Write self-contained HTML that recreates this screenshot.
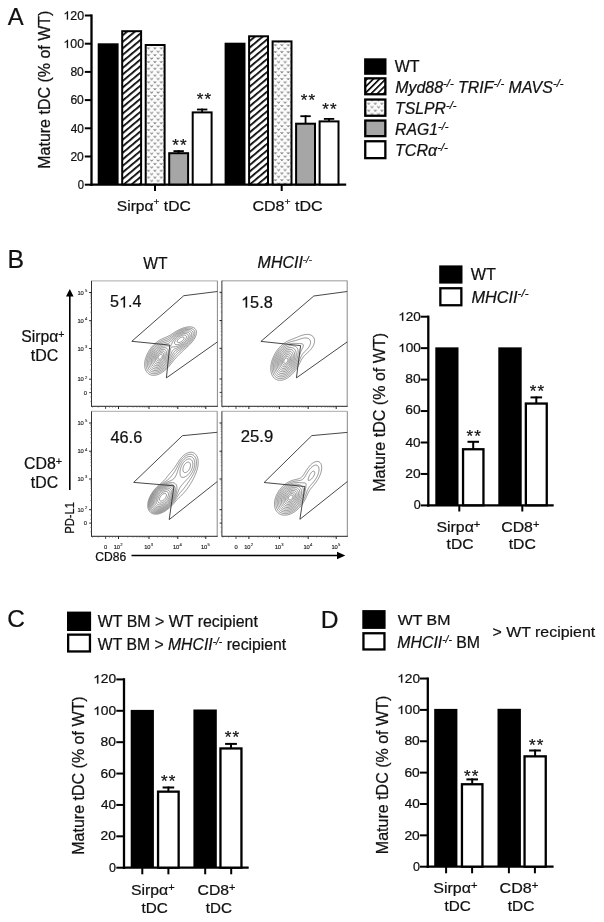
<!DOCTYPE html>
<html><head><meta charset="utf-8"><style>
html,body{margin:0;padding:0;background:#fff;width:604px;height:922px;overflow:hidden;}
svg{display:block;will-change:transform;}
text{font-family:"Liberation Sans", sans-serif;}
</style></head><body>
<svg width="604" height="922" viewBox="0 0 604 922">
<defs>
<pattern id="hatch" patternUnits="userSpaceOnUse" x="121" y="30" width="5.0" height="5.0" patternTransform="rotate(-40)"><rect width="5.0" height="5.0" fill="#fff"/><rect x="0" y="0" width="5.0" height="1.75" fill="#000"/></pattern>
<pattern id="hatch2" patternUnits="userSpaceOnUse" x="248" y="36" width="5.0" height="5.0" patternTransform="rotate(-40)"><rect width="5.0" height="5.0" fill="#fff"/><rect x="0" y="0" width="5.0" height="1.75" fill="#000"/></pattern>
<pattern id="hatchL" patternUnits="userSpaceOnUse" x="364" y="77" width="4.4" height="4.4" patternTransform="rotate(-45)"><rect width="4.4" height="4.4" fill="#fff"/><rect x="0" y="0" width="4.4" height="1.6" fill="#000"/></pattern>
<pattern id="dots" patternUnits="userSpaceOnUse" x="148.5" y="61.9" width="6.4" height="6.8"><rect width="6.4" height="6.8" fill="#fcfcfc"/><path d="M-1.2,-0.9 L0,0.8 L1.2,-0.9 M5.2,-0.9 L6.4,0.8 L7.6000000000000005,-0.9 M-1.2,5.8999999999999995 L0,7.6 L1.2,5.8999999999999995 M5.2,5.8999999999999995 L6.4,7.6 L7.6000000000000005,5.8999999999999995 M2.0,2.5 L3.2,4.2 L4.4,2.5" stroke="#3a3a3a" stroke-width="0.8" fill="none"/></pattern>
<pattern id="dots2" patternUnits="userSpaceOnUse" x="275.4" y="51.9" width="6.45" height="6.75"><rect width="6.45" height="6.75" fill="#fcfcfc"/><path d="M-1.2,-0.9 L0,0.8 L1.2,-0.9 M5.25,-0.9 L6.45,0.8 L7.65,-0.9 M-1.2,5.85 L0,7.55 L1.2,5.85 M5.25,5.85 L6.45,7.55 L7.65,5.85 M2.0250000000000004,2.475 L3.225,4.175 L4.425,2.475" stroke="#3a3a3a" stroke-width="0.8" fill="none"/></pattern>
<pattern id="dotsL" patternUnits="userSpaceOnUse" x="368.7" y="103.6" width="6.6" height="7.0"><rect width="6.6" height="7.0" fill="#fcfcfc"/><path d="M-1.2,-0.9 L0,0.8 L1.2,-0.9 M5.3999999999999995,-0.9 L6.6,0.8 L7.8,-0.9 M-1.2,6.1 L0,7.8 L1.2,6.1 M5.3999999999999995,6.1 L6.6,7.8 L7.8,6.1 M2.0999999999999996,2.6 L3.3,4.3 L4.5,2.6" stroke="#3a3a3a" stroke-width="0.8" fill="none"/></pattern>
</defs>
<line x1="91.5" y1="14.4" x2="91.5" y2="186" stroke="#000" stroke-width="2.3" stroke-linecap="butt"/>
<line x1="84.8" y1="184.7" x2="91.5" y2="184.7" stroke="#000" stroke-width="2" stroke-linecap="butt"/>
<line x1="84.8" y1="156.5" x2="91.5" y2="156.5" stroke="#000" stroke-width="2" stroke-linecap="butt"/>
<line x1="84.8" y1="128.29999999999998" x2="91.5" y2="128.29999999999998" stroke="#000" stroke-width="2" stroke-linecap="butt"/>
<line x1="84.8" y1="100.1" x2="91.5" y2="100.1" stroke="#000" stroke-width="2" stroke-linecap="butt"/>
<line x1="84.8" y1="71.89999999999999" x2="91.5" y2="71.89999999999999" stroke="#000" stroke-width="2" stroke-linecap="butt"/>
<line x1="84.8" y1="43.69999999999999" x2="91.5" y2="43.69999999999999" stroke="#000" stroke-width="2" stroke-linecap="butt"/>
<line x1="84.8" y1="15.5" x2="91.5" y2="15.5" stroke="#000" stroke-width="2" stroke-linecap="butt"/>
<line x1="90.35" y1="184.7" x2="346.2" y2="184.7" stroke="#000" stroke-width="2.2" stroke-linecap="butt"/>
<line x1="155" y1="184.7" x2="155" y2="191" stroke="#000" stroke-width="2" stroke-linecap="butt"/>
<line x1="281.7" y1="184.7" x2="281.7" y2="191" stroke="#000" stroke-width="2" stroke-linecap="butt"/>
<rect x="97.7" y="43.3" width="20.9" height="141.39999999999998" fill="#000"/>
<rect x="122.20" y="31.20" width="18.90" height="153.30" fill="url(#hatch)" stroke="#000" stroke-width="2"/>
<rect x="145.70" y="45.00" width="18.90" height="139.50" fill="url(#dots)" stroke="#000" stroke-width="2"/>
<rect x="169.20" y="153.20" width="18.90" height="31.30" fill="#a6a6a6" stroke="#000" stroke-width="2"/>
<line x1="178.64999999999998" y1="153.2" x2="178.64999999999998" y2="150.2" stroke="#000" stroke-width="1.8" stroke-linecap="butt"/>
<line x1="173.45" y1="151.1" x2="183.84999999999997" y2="151.1" stroke="#000" stroke-width="1.8" stroke-linecap="butt"/>
<rect x="192.70" y="112.40" width="18.90" height="72.10" fill="#fff" stroke="#000" stroke-width="2"/>
<line x1="202.14999999999998" y1="112.4" x2="202.14999999999998" y2="108.6" stroke="#000" stroke-width="1.8" stroke-linecap="butt"/>
<line x1="196.95" y1="109.5" x2="207.34999999999997" y2="109.5" stroke="#000" stroke-width="1.8" stroke-linecap="butt"/>
<rect x="224.6" y="42.7" width="20.9" height="142.0" fill="#000"/>
<rect x="249.10" y="36.30" width="18.90" height="148.20" fill="url(#hatch2)" stroke="#000" stroke-width="2"/>
<rect x="272.60" y="41.40" width="18.90" height="143.10" fill="url(#dots2)" stroke="#000" stroke-width="2"/>
<rect x="296.10" y="123.70" width="18.90" height="60.80" fill="#a6a6a6" stroke="#000" stroke-width="2"/>
<line x1="305.55" y1="123.7" x2="305.55" y2="115.3" stroke="#000" stroke-width="1.8" stroke-linecap="butt"/>
<line x1="300.35" y1="116.2" x2="310.75" y2="116.2" stroke="#000" stroke-width="1.8" stroke-linecap="butt"/>
<rect x="319.60" y="121.40" width="18.90" height="63.10" fill="#fff" stroke="#000" stroke-width="2"/>
<line x1="329.05" y1="121.4" x2="329.05" y2="118.0" stroke="#000" stroke-width="1.8" stroke-linecap="butt"/>
<line x1="323.85" y1="118.9" x2="334.25" y2="118.9" stroke="#000" stroke-width="1.8" stroke-linecap="butt"/>
<text x="175.62" y="150.63" font-size="17" text-anchor="middle" fill="#111" stroke="#111" stroke-width="0.25">*</text>
<text x="183.38" y="150.63" font-size="17" text-anchor="middle" fill="#111" stroke="#111" stroke-width="0.25">*</text>
<text x="200.12" y="105.23" font-size="17" text-anchor="middle" fill="#111" stroke="#111" stroke-width="0.25">*</text>
<text x="207.88" y="105.23" font-size="17" text-anchor="middle" fill="#111" stroke="#111" stroke-width="0.25">*</text>
<text x="304.12" y="106.23" font-size="17" text-anchor="middle" fill="#111" stroke="#111" stroke-width="0.25">*</text>
<text x="311.88" y="106.23" font-size="17" text-anchor="middle" fill="#111" stroke="#111" stroke-width="0.25">*</text>
<text x="325.62" y="115.03" font-size="17" text-anchor="middle" fill="#111" stroke="#111" stroke-width="0.25">*</text>
<text x="333.38" y="115.03" font-size="17" text-anchor="middle" fill="#111" stroke="#111" stroke-width="0.25">*</text>
<rect x="365.25" y="59.45" width="20.10" height="14.20" fill="#000" stroke="#000" stroke-width="2.3"/>
<rect x="365.25" y="78.35" width="20.10" height="15.90" fill="url(#hatchL)" stroke="#000" stroke-width="2.3"/>
<rect x="365.25" y="99.55" width="20.10" height="16.20" fill="url(#dotsL)" stroke="#000" stroke-width="2.3"/>
<rect x="365.25" y="120.55" width="20.10" height="15.60" fill="#a6a6a6" stroke="#000" stroke-width="2.3"/>
<rect x="365.25" y="141.25" width="20.10" height="16.90" fill="#fff" stroke="#000" stroke-width="2.3"/>
<line x1="69.8" y1="295" x2="69.8" y2="490" stroke="#000" stroke-width="1.6" stroke-linecap="butt"/>
<path d="M66,296.6 L69.8,289 L73.6,296.6 Z" fill="#000"/>
<line x1="131.5" y1="555.5" x2="338" y2="555.5" stroke="#000" stroke-width="1.6" stroke-linecap="butt"/>
<path d="M337,551.7 L345.3,555.5 L337,559.3 Z" fill="#000"/>
<line x1="91.5" y1="280.95" x2="217.4" y2="280.95" stroke="#bbb" stroke-width="1.3" stroke-linecap="butt"/>
<line x1="217.4" y1="280.8" x2="217.4" y2="406.3" stroke="#888" stroke-width="1.0" stroke-linecap="butt"/>
<line x1="91.5" y1="280.8" x2="91.5" y2="406.8" stroke="#333" stroke-width="1.0" stroke-linecap="butt"/>
<line x1="91.5" y1="406.3" x2="217.9" y2="406.3" stroke="#222" stroke-width="1.0" stroke-linecap="butt"/>
<line x1="89.1" y1="292.5" x2="91.5" y2="292.5" stroke="#222" stroke-width="1.0" stroke-linecap="butt"/>
<line x1="90.2" y1="312.2109541222757" x2="91.5" y2="312.2109541222757" stroke="#555" stroke-width="0.55" stroke-linecap="butt"/>
<line x1="90.2" y1="307.2451806169055" x2="91.5" y2="307.2451806169055" stroke="#555" stroke-width="0.55" stroke-linecap="butt"/>
<line x1="90.2" y1="303.72190824455146" x2="91.5" y2="303.72190824455146" stroke="#555" stroke-width="0.55" stroke-linecap="butt"/>
<line x1="90.2" y1="300.98904587772427" x2="91.5" y2="300.98904587772427" stroke="#555" stroke-width="0.55" stroke-linecap="butt"/>
<line x1="90.2" y1="298.7561347391812" x2="91.5" y2="298.7561347391812" stroke="#555" stroke-width="0.55" stroke-linecap="butt"/>
<line x1="90.2" y1="296.86823527159794" x2="91.5" y2="296.86823527159794" stroke="#555" stroke-width="0.55" stroke-linecap="butt"/>
<line x1="90.2" y1="295.2328623668272" x2="91.5" y2="295.2328623668272" stroke="#555" stroke-width="0.55" stroke-linecap="butt"/>
<line x1="90.2" y1="293.79036123381104" x2="91.5" y2="293.79036123381104" stroke="#555" stroke-width="0.55" stroke-linecap="butt"/>
<line x1="89.1" y1="320.7" x2="91.5" y2="320.7" stroke="#222" stroke-width="1.0" stroke-linecap="butt"/>
<line x1="90.2" y1="340.1313661205413" x2="91.5" y2="340.1313661205413" stroke="#555" stroke-width="0.55" stroke-linecap="butt"/>
<line x1="90.2" y1="335.2360291187934" x2="91.5" y2="335.2360291187934" stroke="#555" stroke-width="0.55" stroke-linecap="butt"/>
<line x1="90.2" y1="331.76273224108263" x2="91.5" y2="331.76273224108263" stroke="#555" stroke-width="0.55" stroke-linecap="butt"/>
<line x1="90.2" y1="329.0686338794587" x2="91.5" y2="329.0686338794587" stroke="#555" stroke-width="0.55" stroke-linecap="butt"/>
<line x1="90.2" y1="326.8673952393347" x2="91.5" y2="326.8673952393347" stroke="#555" stroke-width="0.55" stroke-linecap="butt"/>
<line x1="90.2" y1="325.00627448760366" x2="91.5" y2="325.00627448760366" stroke="#555" stroke-width="0.55" stroke-linecap="butt"/>
<line x1="90.2" y1="323.39409836162395" x2="91.5" y2="323.39409836162395" stroke="#555" stroke-width="0.55" stroke-linecap="butt"/>
<line x1="90.2" y1="321.9720582375868" x2="91.5" y2="321.9720582375868" stroke="#555" stroke-width="0.55" stroke-linecap="butt"/>
<line x1="89.1" y1="348.5" x2="91.5" y2="348.5" stroke="#222" stroke-width="1.0" stroke-linecap="butt"/>
<line x1="90.2" y1="369.95837913311584" x2="91.5" y2="369.95837913311584" stroke="#555" stroke-width="0.55" stroke-linecap="butt"/>
<line x1="90.2" y1="364.55237748010643" x2="91.5" y2="364.55237748010643" stroke="#555" stroke-width="0.55" stroke-linecap="butt"/>
<line x1="90.2" y1="360.7167582662316" x2="91.5" y2="360.7167582662316" stroke="#555" stroke-width="0.55" stroke-linecap="butt"/>
<line x1="90.2" y1="357.74162086688426" x2="91.5" y2="357.74162086688426" stroke="#555" stroke-width="0.55" stroke-linecap="butt"/>
<line x1="90.2" y1="355.31075661322217" x2="91.5" y2="355.31075661322217" stroke="#555" stroke-width="0.55" stroke-linecap="butt"/>
<line x1="90.2" y1="353.25549017156237" x2="91.5" y2="353.25549017156237" stroke="#555" stroke-width="0.55" stroke-linecap="butt"/>
<line x1="90.2" y1="351.4751373993474" x2="91.5" y2="351.4751373993474" stroke="#555" stroke-width="0.55" stroke-linecap="butt"/>
<line x1="90.2" y1="349.90475496021276" x2="91.5" y2="349.90475496021276" stroke="#555" stroke-width="0.55" stroke-linecap="butt"/>
<line x1="89.1" y1="379.20000000000005" x2="91.5" y2="379.20000000000005" stroke="#222" stroke-width="1.0" stroke-linecap="butt"/>
<line x1="90.2" y1="384.8" x2="91.5" y2="384.8" stroke="#555" stroke-width="0.55" stroke-linecap="butt"/>
<line x1="90.2" y1="388.8" x2="91.5" y2="388.8" stroke="#555" stroke-width="0.55" stroke-linecap="butt"/>
<line x1="90.2" y1="392.6" x2="91.5" y2="392.6" stroke="#555" stroke-width="0.55" stroke-linecap="butt"/>
<line x1="90.2" y1="396.8" x2="91.5" y2="396.8" stroke="#555" stroke-width="0.55" stroke-linecap="butt"/>
<line x1="90.2" y1="401.3" x2="91.5" y2="401.3" stroke="#555" stroke-width="0.55" stroke-linecap="butt"/>
<line x1="89.2" y1="392.6" x2="91.5" y2="392.6" stroke="#333" stroke-width="0.9" stroke-linecap="butt"/>
<line x1="118.5" y1="406.3" x2="118.5" y2="409.0" stroke="#222" stroke-width="1.0" stroke-linecap="butt"/>
<line x1="127.68141486775143" y1="406.3" x2="127.68141486775143" y2="407.7" stroke="#555" stroke-width="0.55" stroke-linecap="butt"/>
<line x1="133.0521982689497" y1="406.3" x2="133.0521982689497" y2="407.7" stroke="#555" stroke-width="0.55" stroke-linecap="butt"/>
<line x1="136.86282973550286" y1="406.3" x2="136.86282973550286" y2="407.7" stroke="#555" stroke-width="0.55" stroke-linecap="butt"/>
<line x1="139.8185851322486" y1="406.3" x2="139.8185851322486" y2="407.7" stroke="#555" stroke-width="0.55" stroke-linecap="butt"/>
<line x1="142.23361313670114" y1="406.3" x2="142.23361313670114" y2="407.7" stroke="#555" stroke-width="0.55" stroke-linecap="butt"/>
<line x1="144.27549022043485" y1="406.3" x2="144.27549022043485" y2="407.7" stroke="#555" stroke-width="0.55" stroke-linecap="butt"/>
<line x1="146.04424460325427" y1="406.3" x2="146.04424460325427" y2="407.7" stroke="#555" stroke-width="0.55" stroke-linecap="butt"/>
<line x1="147.60439653789942" y1="406.3" x2="147.60439653789942" y2="407.7" stroke="#555" stroke-width="0.55" stroke-linecap="butt"/>
<line x1="149.0" y1="406.3" x2="149.0" y2="409.0" stroke="#222" stroke-width="1.0" stroke-linecap="butt"/>
<line x1="157.66966387512267" y1="406.3" x2="157.66966387512267" y2="407.7" stroke="#555" stroke-width="0.55" stroke-linecap="butt"/>
<line x1="162.74109213592627" y1="406.3" x2="162.74109213592627" y2="407.7" stroke="#555" stroke-width="0.55" stroke-linecap="butt"/>
<line x1="166.3393277502453" y1="406.3" x2="166.3393277502453" y2="407.7" stroke="#555" stroke-width="0.55" stroke-linecap="butt"/>
<line x1="169.13033612487735" y1="406.3" x2="169.13033612487735" y2="407.7" stroke="#555" stroke-width="0.55" stroke-linecap="butt"/>
<line x1="171.41075601104893" y1="406.3" x2="171.41075601104893" y2="407.7" stroke="#555" stroke-width="0.55" stroke-linecap="butt"/>
<line x1="173.3388235524106" y1="406.3" x2="173.3388235524106" y2="407.7" stroke="#555" stroke-width="0.55" stroke-linecap="butt"/>
<line x1="175.00899162536797" y1="406.3" x2="175.00899162536797" y2="407.7" stroke="#555" stroke-width="0.55" stroke-linecap="butt"/>
<line x1="176.48218427185256" y1="406.3" x2="176.48218427185256" y2="407.7" stroke="#555" stroke-width="0.55" stroke-linecap="butt"/>
<line x1="177.8" y1="406.3" x2="177.8" y2="409.0" stroke="#222" stroke-width="1.0" stroke-linecap="butt"/>
<line x1="186.2288398785915" y1="406.3" x2="186.2288398785915" y2="407.7" stroke="#555" stroke-width="0.55" stroke-linecap="butt"/>
<line x1="191.15939513215056" y1="406.3" x2="191.15939513215056" y2="407.7" stroke="#555" stroke-width="0.55" stroke-linecap="butt"/>
<line x1="194.65767975718296" y1="406.3" x2="194.65767975718296" y2="407.7" stroke="#555" stroke-width="0.55" stroke-linecap="butt"/>
<line x1="197.37116012140854" y1="406.3" x2="197.37116012140854" y2="407.7" stroke="#555" stroke-width="0.55" stroke-linecap="butt"/>
<line x1="199.58823501074204" y1="406.3" x2="199.58823501074204" y2="407.7" stroke="#555" stroke-width="0.55" stroke-linecap="butt"/>
<line x1="201.4627451203992" y1="406.3" x2="201.4627451203992" y2="407.7" stroke="#555" stroke-width="0.55" stroke-linecap="butt"/>
<line x1="203.08651963577444" y1="406.3" x2="203.08651963577444" y2="407.7" stroke="#555" stroke-width="0.55" stroke-linecap="butt"/>
<line x1="204.51879026430112" y1="406.3" x2="204.51879026430112" y2="407.7" stroke="#555" stroke-width="0.55" stroke-linecap="butt"/>
<line x1="205.8" y1="406.3" x2="205.8" y2="409.0" stroke="#222" stroke-width="1.0" stroke-linecap="butt"/>
<line x1="92.5" y1="406.3" x2="92.5" y2="407.7" stroke="#555" stroke-width="0.55" stroke-linecap="butt"/>
<line x1="98.2" y1="406.3" x2="98.2" y2="407.7" stroke="#555" stroke-width="0.55" stroke-linecap="butt"/>
<line x1="109.5" y1="406.3" x2="109.5" y2="407.7" stroke="#555" stroke-width="0.55" stroke-linecap="butt"/>
<line x1="112.5" y1="406.3" x2="112.5" y2="407.7" stroke="#555" stroke-width="0.55" stroke-linecap="butt"/>
<line x1="115.5" y1="406.3" x2="115.5" y2="407.7" stroke="#555" stroke-width="0.55" stroke-linecap="butt"/>
<line x1="105.6" y1="406.3" x2="105.6" y2="408.90000000000003" stroke="#333" stroke-width="0.9" stroke-linecap="butt"/>
<text x="83.6" y="294.50" font-size="5.8" text-anchor="end" fill="#222" stroke="#222" stroke-width="0.15" letter-spacing="-0.2">10</text>
<text x="87.3" y="291.90" font-size="4.2" text-anchor="end" fill="#222" stroke="#222" stroke-width="0.1">5</text>
<text x="83.6" y="322.70" font-size="5.8" text-anchor="end" fill="#222" stroke="#222" stroke-width="0.15" letter-spacing="-0.2">10</text>
<text x="87.3" y="320.10" font-size="4.2" text-anchor="end" fill="#222" stroke="#222" stroke-width="0.1">4</text>
<text x="83.6" y="350.50" font-size="5.8" text-anchor="end" fill="#222" stroke="#222" stroke-width="0.15" letter-spacing="-0.2">10</text>
<text x="87.3" y="347.90" font-size="4.2" text-anchor="end" fill="#222" stroke="#222" stroke-width="0.1">3</text>
<text x="83.6" y="381.20" font-size="5.8" text-anchor="end" fill="#222" stroke="#222" stroke-width="0.15" letter-spacing="-0.2">10</text>
<text x="87.3" y="378.60" font-size="4.2" text-anchor="end" fill="#222" stroke="#222" stroke-width="0.1">2</text>
<text x="86.9" y="394.60" font-size="5.8" text-anchor="end" fill="#222" stroke="#222" stroke-width="0.15">0</text>
<line x1="221.9" y1="280.75" x2="347.2" y2="280.75" stroke="#bbb" stroke-width="1.3" stroke-linecap="butt"/>
<line x1="347.2" y1="280.6" x2="347.2" y2="406.3" stroke="#888" stroke-width="1.0" stroke-linecap="butt"/>
<line x1="221.9" y1="280.6" x2="221.9" y2="406.8" stroke="#333" stroke-width="1.0" stroke-linecap="butt"/>
<line x1="221.9" y1="406.3" x2="347.7" y2="406.3" stroke="#222" stroke-width="1.0" stroke-linecap="butt"/>
<line x1="219.5" y1="292.3" x2="221.9" y2="292.3" stroke="#222" stroke-width="1.0" stroke-linecap="butt"/>
<line x1="220.6" y1="312.01095412227573" x2="221.9" y2="312.01095412227573" stroke="#555" stroke-width="0.55" stroke-linecap="butt"/>
<line x1="220.6" y1="307.0451806169055" x2="221.9" y2="307.0451806169055" stroke="#555" stroke-width="0.55" stroke-linecap="butt"/>
<line x1="220.6" y1="303.52190824455147" x2="221.9" y2="303.52190824455147" stroke="#555" stroke-width="0.55" stroke-linecap="butt"/>
<line x1="220.6" y1="300.7890458777243" x2="221.9" y2="300.7890458777243" stroke="#555" stroke-width="0.55" stroke-linecap="butt"/>
<line x1="220.6" y1="298.55613473918123" x2="221.9" y2="298.55613473918123" stroke="#555" stroke-width="0.55" stroke-linecap="butt"/>
<line x1="220.6" y1="296.66823527159795" x2="221.9" y2="296.66823527159795" stroke="#555" stroke-width="0.55" stroke-linecap="butt"/>
<line x1="220.6" y1="295.0328623668272" x2="221.9" y2="295.0328623668272" stroke="#555" stroke-width="0.55" stroke-linecap="butt"/>
<line x1="220.6" y1="293.59036123381105" x2="221.9" y2="293.59036123381105" stroke="#555" stroke-width="0.55" stroke-linecap="butt"/>
<line x1="219.5" y1="320.5" x2="221.9" y2="320.5" stroke="#222" stroke-width="1.0" stroke-linecap="butt"/>
<line x1="220.6" y1="339.9313661205413" x2="221.9" y2="339.9313661205413" stroke="#555" stroke-width="0.55" stroke-linecap="butt"/>
<line x1="220.6" y1="335.0360291187934" x2="221.9" y2="335.0360291187934" stroke="#555" stroke-width="0.55" stroke-linecap="butt"/>
<line x1="220.6" y1="331.56273224108264" x2="221.9" y2="331.56273224108264" stroke="#555" stroke-width="0.55" stroke-linecap="butt"/>
<line x1="220.6" y1="328.8686338794587" x2="221.9" y2="328.8686338794587" stroke="#555" stroke-width="0.55" stroke-linecap="butt"/>
<line x1="220.6" y1="326.6673952393347" x2="221.9" y2="326.6673952393347" stroke="#555" stroke-width="0.55" stroke-linecap="butt"/>
<line x1="220.6" y1="324.8062744876037" x2="221.9" y2="324.8062744876037" stroke="#555" stroke-width="0.55" stroke-linecap="butt"/>
<line x1="220.6" y1="323.19409836162396" x2="221.9" y2="323.19409836162396" stroke="#555" stroke-width="0.55" stroke-linecap="butt"/>
<line x1="220.6" y1="321.77205823758675" x2="221.9" y2="321.77205823758675" stroke="#555" stroke-width="0.55" stroke-linecap="butt"/>
<line x1="219.5" y1="348.3" x2="221.9" y2="348.3" stroke="#222" stroke-width="1.0" stroke-linecap="butt"/>
<line x1="220.6" y1="369.7583791331158" x2="221.9" y2="369.7583791331158" stroke="#555" stroke-width="0.55" stroke-linecap="butt"/>
<line x1="220.6" y1="364.3523774801064" x2="221.9" y2="364.3523774801064" stroke="#555" stroke-width="0.55" stroke-linecap="butt"/>
<line x1="220.6" y1="360.51675826623153" x2="221.9" y2="360.51675826623153" stroke="#555" stroke-width="0.55" stroke-linecap="butt"/>
<line x1="220.6" y1="357.5416208668842" x2="221.9" y2="357.5416208668842" stroke="#555" stroke-width="0.55" stroke-linecap="butt"/>
<line x1="220.6" y1="355.1107566132221" x2="221.9" y2="355.1107566132221" stroke="#555" stroke-width="0.55" stroke-linecap="butt"/>
<line x1="220.6" y1="353.0554901715623" x2="221.9" y2="353.0554901715623" stroke="#555" stroke-width="0.55" stroke-linecap="butt"/>
<line x1="220.6" y1="351.27513739934733" x2="221.9" y2="351.27513739934733" stroke="#555" stroke-width="0.55" stroke-linecap="butt"/>
<line x1="220.6" y1="349.7047549602127" x2="221.9" y2="349.7047549602127" stroke="#555" stroke-width="0.55" stroke-linecap="butt"/>
<line x1="219.5" y1="379.0" x2="221.9" y2="379.0" stroke="#222" stroke-width="1.0" stroke-linecap="butt"/>
<line x1="220.6" y1="384.6" x2="221.9" y2="384.6" stroke="#555" stroke-width="0.55" stroke-linecap="butt"/>
<line x1="220.6" y1="388.6" x2="221.9" y2="388.6" stroke="#555" stroke-width="0.55" stroke-linecap="butt"/>
<line x1="220.6" y1="392.40000000000003" x2="221.9" y2="392.40000000000003" stroke="#555" stroke-width="0.55" stroke-linecap="butt"/>
<line x1="220.6" y1="396.6" x2="221.9" y2="396.6" stroke="#555" stroke-width="0.55" stroke-linecap="butt"/>
<line x1="220.6" y1="401.1" x2="221.9" y2="401.1" stroke="#555" stroke-width="0.55" stroke-linecap="butt"/>
<line x1="219.6" y1="392.40000000000003" x2="221.9" y2="392.40000000000003" stroke="#333" stroke-width="0.9" stroke-linecap="butt"/>
<line x1="248.9" y1="406.3" x2="248.9" y2="409.0" stroke="#222" stroke-width="1.0" stroke-linecap="butt"/>
<line x1="258.08141486775145" y1="406.3" x2="258.08141486775145" y2="407.7" stroke="#555" stroke-width="0.55" stroke-linecap="butt"/>
<line x1="263.4521982689497" y1="406.3" x2="263.4521982689497" y2="407.7" stroke="#555" stroke-width="0.55" stroke-linecap="butt"/>
<line x1="267.26282973550286" y1="406.3" x2="267.26282973550286" y2="407.7" stroke="#555" stroke-width="0.55" stroke-linecap="butt"/>
<line x1="270.21858513224856" y1="406.3" x2="270.21858513224856" y2="407.7" stroke="#555" stroke-width="0.55" stroke-linecap="butt"/>
<line x1="272.6336131367011" y1="406.3" x2="272.6336131367011" y2="407.7" stroke="#555" stroke-width="0.55" stroke-linecap="butt"/>
<line x1="274.6754902204348" y1="406.3" x2="274.6754902204348" y2="407.7" stroke="#555" stroke-width="0.55" stroke-linecap="butt"/>
<line x1="276.4442446032543" y1="406.3" x2="276.4442446032543" y2="407.7" stroke="#555" stroke-width="0.55" stroke-linecap="butt"/>
<line x1="278.0043965378994" y1="406.3" x2="278.0043965378994" y2="407.7" stroke="#555" stroke-width="0.55" stroke-linecap="butt"/>
<line x1="279.4" y1="406.3" x2="279.4" y2="409.0" stroke="#222" stroke-width="1.0" stroke-linecap="butt"/>
<line x1="288.0696638751226" y1="406.3" x2="288.0696638751226" y2="407.7" stroke="#555" stroke-width="0.55" stroke-linecap="butt"/>
<line x1="293.14109213592627" y1="406.3" x2="293.14109213592627" y2="407.7" stroke="#555" stroke-width="0.55" stroke-linecap="butt"/>
<line x1="296.7393277502453" y1="406.3" x2="296.7393277502453" y2="407.7" stroke="#555" stroke-width="0.55" stroke-linecap="butt"/>
<line x1="299.5303361248773" y1="406.3" x2="299.5303361248773" y2="407.7" stroke="#555" stroke-width="0.55" stroke-linecap="butt"/>
<line x1="301.8107560110489" y1="406.3" x2="301.8107560110489" y2="407.7" stroke="#555" stroke-width="0.55" stroke-linecap="butt"/>
<line x1="303.73882355241057" y1="406.3" x2="303.73882355241057" y2="407.7" stroke="#555" stroke-width="0.55" stroke-linecap="butt"/>
<line x1="305.40899162536795" y1="406.3" x2="305.40899162536795" y2="407.7" stroke="#555" stroke-width="0.55" stroke-linecap="butt"/>
<line x1="306.8821842718525" y1="406.3" x2="306.8821842718525" y2="407.7" stroke="#555" stroke-width="0.55" stroke-linecap="butt"/>
<line x1="308.2" y1="406.3" x2="308.2" y2="409.0" stroke="#222" stroke-width="1.0" stroke-linecap="butt"/>
<line x1="316.62883987859146" y1="406.3" x2="316.62883987859146" y2="407.7" stroke="#555" stroke-width="0.55" stroke-linecap="butt"/>
<line x1="321.55939513215054" y1="406.3" x2="321.55939513215054" y2="407.7" stroke="#555" stroke-width="0.55" stroke-linecap="butt"/>
<line x1="325.05767975718294" y1="406.3" x2="325.05767975718294" y2="407.7" stroke="#555" stroke-width="0.55" stroke-linecap="butt"/>
<line x1="327.7711601214085" y1="406.3" x2="327.7711601214085" y2="407.7" stroke="#555" stroke-width="0.55" stroke-linecap="butt"/>
<line x1="329.988235010742" y1="406.3" x2="329.988235010742" y2="407.7" stroke="#555" stroke-width="0.55" stroke-linecap="butt"/>
<line x1="331.86274512039915" y1="406.3" x2="331.86274512039915" y2="407.7" stroke="#555" stroke-width="0.55" stroke-linecap="butt"/>
<line x1="333.4865196357744" y1="406.3" x2="333.4865196357744" y2="407.7" stroke="#555" stroke-width="0.55" stroke-linecap="butt"/>
<line x1="334.9187902643011" y1="406.3" x2="334.9187902643011" y2="407.7" stroke="#555" stroke-width="0.55" stroke-linecap="butt"/>
<line x1="336.2" y1="406.3" x2="336.2" y2="409.0" stroke="#222" stroke-width="1.0" stroke-linecap="butt"/>
<line x1="222.9" y1="406.3" x2="222.9" y2="407.7" stroke="#555" stroke-width="0.55" stroke-linecap="butt"/>
<line x1="228.6" y1="406.3" x2="228.6" y2="407.7" stroke="#555" stroke-width="0.55" stroke-linecap="butt"/>
<line x1="239.9" y1="406.3" x2="239.9" y2="407.7" stroke="#555" stroke-width="0.55" stroke-linecap="butt"/>
<line x1="242.9" y1="406.3" x2="242.9" y2="407.7" stroke="#555" stroke-width="0.55" stroke-linecap="butt"/>
<line x1="245.9" y1="406.3" x2="245.9" y2="407.7" stroke="#555" stroke-width="0.55" stroke-linecap="butt"/>
<line x1="236.0" y1="406.3" x2="236.0" y2="408.90000000000003" stroke="#333" stroke-width="0.9" stroke-linecap="butt"/>
<line x1="91.5" y1="411.45" x2="217.2" y2="411.45" stroke="#bbb" stroke-width="1.3" stroke-linecap="butt"/>
<line x1="217.2" y1="411.3" x2="217.2" y2="536.3" stroke="#888" stroke-width="1.0" stroke-linecap="butt"/>
<line x1="91.5" y1="411.3" x2="91.5" y2="536.8" stroke="#333" stroke-width="1.0" stroke-linecap="butt"/>
<line x1="91.5" y1="536.3" x2="217.7" y2="536.3" stroke="#222" stroke-width="1.0" stroke-linecap="butt"/>
<line x1="89.1" y1="423.0" x2="91.5" y2="423.0" stroke="#222" stroke-width="1.0" stroke-linecap="butt"/>
<line x1="90.2" y1="442.7109541222757" x2="91.5" y2="442.7109541222757" stroke="#555" stroke-width="0.55" stroke-linecap="butt"/>
<line x1="90.2" y1="437.7451806169055" x2="91.5" y2="437.7451806169055" stroke="#555" stroke-width="0.55" stroke-linecap="butt"/>
<line x1="90.2" y1="434.22190824455146" x2="91.5" y2="434.22190824455146" stroke="#555" stroke-width="0.55" stroke-linecap="butt"/>
<line x1="90.2" y1="431.48904587772427" x2="91.5" y2="431.48904587772427" stroke="#555" stroke-width="0.55" stroke-linecap="butt"/>
<line x1="90.2" y1="429.2561347391812" x2="91.5" y2="429.2561347391812" stroke="#555" stroke-width="0.55" stroke-linecap="butt"/>
<line x1="90.2" y1="427.36823527159794" x2="91.5" y2="427.36823527159794" stroke="#555" stroke-width="0.55" stroke-linecap="butt"/>
<line x1="90.2" y1="425.7328623668272" x2="91.5" y2="425.7328623668272" stroke="#555" stroke-width="0.55" stroke-linecap="butt"/>
<line x1="90.2" y1="424.29036123381104" x2="91.5" y2="424.29036123381104" stroke="#555" stroke-width="0.55" stroke-linecap="butt"/>
<line x1="89.1" y1="451.2" x2="91.5" y2="451.2" stroke="#222" stroke-width="1.0" stroke-linecap="butt"/>
<line x1="90.2" y1="470.6313661205413" x2="91.5" y2="470.6313661205413" stroke="#555" stroke-width="0.55" stroke-linecap="butt"/>
<line x1="90.2" y1="465.7360291187934" x2="91.5" y2="465.7360291187934" stroke="#555" stroke-width="0.55" stroke-linecap="butt"/>
<line x1="90.2" y1="462.26273224108263" x2="91.5" y2="462.26273224108263" stroke="#555" stroke-width="0.55" stroke-linecap="butt"/>
<line x1="90.2" y1="459.5686338794587" x2="91.5" y2="459.5686338794587" stroke="#555" stroke-width="0.55" stroke-linecap="butt"/>
<line x1="90.2" y1="457.3673952393347" x2="91.5" y2="457.3673952393347" stroke="#555" stroke-width="0.55" stroke-linecap="butt"/>
<line x1="90.2" y1="455.50627448760366" x2="91.5" y2="455.50627448760366" stroke="#555" stroke-width="0.55" stroke-linecap="butt"/>
<line x1="90.2" y1="453.89409836162395" x2="91.5" y2="453.89409836162395" stroke="#555" stroke-width="0.55" stroke-linecap="butt"/>
<line x1="90.2" y1="452.4720582375868" x2="91.5" y2="452.4720582375868" stroke="#555" stroke-width="0.55" stroke-linecap="butt"/>
<line x1="89.1" y1="479.0" x2="91.5" y2="479.0" stroke="#222" stroke-width="1.0" stroke-linecap="butt"/>
<line x1="90.2" y1="500.45837913311584" x2="91.5" y2="500.45837913311584" stroke="#555" stroke-width="0.55" stroke-linecap="butt"/>
<line x1="90.2" y1="495.05237748010643" x2="91.5" y2="495.05237748010643" stroke="#555" stroke-width="0.55" stroke-linecap="butt"/>
<line x1="90.2" y1="491.2167582662316" x2="91.5" y2="491.2167582662316" stroke="#555" stroke-width="0.55" stroke-linecap="butt"/>
<line x1="90.2" y1="488.24162086688426" x2="91.5" y2="488.24162086688426" stroke="#555" stroke-width="0.55" stroke-linecap="butt"/>
<line x1="90.2" y1="485.81075661322217" x2="91.5" y2="485.81075661322217" stroke="#555" stroke-width="0.55" stroke-linecap="butt"/>
<line x1="90.2" y1="483.75549017156237" x2="91.5" y2="483.75549017156237" stroke="#555" stroke-width="0.55" stroke-linecap="butt"/>
<line x1="90.2" y1="481.9751373993474" x2="91.5" y2="481.9751373993474" stroke="#555" stroke-width="0.55" stroke-linecap="butt"/>
<line x1="90.2" y1="480.40475496021276" x2="91.5" y2="480.40475496021276" stroke="#555" stroke-width="0.55" stroke-linecap="butt"/>
<line x1="89.1" y1="509.70000000000005" x2="91.5" y2="509.70000000000005" stroke="#222" stroke-width="1.0" stroke-linecap="butt"/>
<line x1="90.2" y1="515.3" x2="91.5" y2="515.3" stroke="#555" stroke-width="0.55" stroke-linecap="butt"/>
<line x1="90.2" y1="519.3" x2="91.5" y2="519.3" stroke="#555" stroke-width="0.55" stroke-linecap="butt"/>
<line x1="90.2" y1="523.1" x2="91.5" y2="523.1" stroke="#555" stroke-width="0.55" stroke-linecap="butt"/>
<line x1="90.2" y1="527.3" x2="91.5" y2="527.3" stroke="#555" stroke-width="0.55" stroke-linecap="butt"/>
<line x1="90.2" y1="531.8" x2="91.5" y2="531.8" stroke="#555" stroke-width="0.55" stroke-linecap="butt"/>
<line x1="89.2" y1="523.1" x2="91.5" y2="523.1" stroke="#333" stroke-width="0.9" stroke-linecap="butt"/>
<line x1="118.5" y1="536.3" x2="118.5" y2="539.0" stroke="#222" stroke-width="1.0" stroke-linecap="butt"/>
<line x1="127.68141486775143" y1="536.3" x2="127.68141486775143" y2="537.6999999999999" stroke="#555" stroke-width="0.55" stroke-linecap="butt"/>
<line x1="133.0521982689497" y1="536.3" x2="133.0521982689497" y2="537.6999999999999" stroke="#555" stroke-width="0.55" stroke-linecap="butt"/>
<line x1="136.86282973550286" y1="536.3" x2="136.86282973550286" y2="537.6999999999999" stroke="#555" stroke-width="0.55" stroke-linecap="butt"/>
<line x1="139.8185851322486" y1="536.3" x2="139.8185851322486" y2="537.6999999999999" stroke="#555" stroke-width="0.55" stroke-linecap="butt"/>
<line x1="142.23361313670114" y1="536.3" x2="142.23361313670114" y2="537.6999999999999" stroke="#555" stroke-width="0.55" stroke-linecap="butt"/>
<line x1="144.27549022043485" y1="536.3" x2="144.27549022043485" y2="537.6999999999999" stroke="#555" stroke-width="0.55" stroke-linecap="butt"/>
<line x1="146.04424460325427" y1="536.3" x2="146.04424460325427" y2="537.6999999999999" stroke="#555" stroke-width="0.55" stroke-linecap="butt"/>
<line x1="147.60439653789942" y1="536.3" x2="147.60439653789942" y2="537.6999999999999" stroke="#555" stroke-width="0.55" stroke-linecap="butt"/>
<line x1="149.0" y1="536.3" x2="149.0" y2="539.0" stroke="#222" stroke-width="1.0" stroke-linecap="butt"/>
<line x1="157.66966387512267" y1="536.3" x2="157.66966387512267" y2="537.6999999999999" stroke="#555" stroke-width="0.55" stroke-linecap="butt"/>
<line x1="162.74109213592627" y1="536.3" x2="162.74109213592627" y2="537.6999999999999" stroke="#555" stroke-width="0.55" stroke-linecap="butt"/>
<line x1="166.3393277502453" y1="536.3" x2="166.3393277502453" y2="537.6999999999999" stroke="#555" stroke-width="0.55" stroke-linecap="butt"/>
<line x1="169.13033612487735" y1="536.3" x2="169.13033612487735" y2="537.6999999999999" stroke="#555" stroke-width="0.55" stroke-linecap="butt"/>
<line x1="171.41075601104893" y1="536.3" x2="171.41075601104893" y2="537.6999999999999" stroke="#555" stroke-width="0.55" stroke-linecap="butt"/>
<line x1="173.3388235524106" y1="536.3" x2="173.3388235524106" y2="537.6999999999999" stroke="#555" stroke-width="0.55" stroke-linecap="butt"/>
<line x1="175.00899162536797" y1="536.3" x2="175.00899162536797" y2="537.6999999999999" stroke="#555" stroke-width="0.55" stroke-linecap="butt"/>
<line x1="176.48218427185256" y1="536.3" x2="176.48218427185256" y2="537.6999999999999" stroke="#555" stroke-width="0.55" stroke-linecap="butt"/>
<line x1="177.8" y1="536.3" x2="177.8" y2="539.0" stroke="#222" stroke-width="1.0" stroke-linecap="butt"/>
<line x1="186.2288398785915" y1="536.3" x2="186.2288398785915" y2="537.6999999999999" stroke="#555" stroke-width="0.55" stroke-linecap="butt"/>
<line x1="191.15939513215056" y1="536.3" x2="191.15939513215056" y2="537.6999999999999" stroke="#555" stroke-width="0.55" stroke-linecap="butt"/>
<line x1="194.65767975718296" y1="536.3" x2="194.65767975718296" y2="537.6999999999999" stroke="#555" stroke-width="0.55" stroke-linecap="butt"/>
<line x1="197.37116012140854" y1="536.3" x2="197.37116012140854" y2="537.6999999999999" stroke="#555" stroke-width="0.55" stroke-linecap="butt"/>
<line x1="199.58823501074204" y1="536.3" x2="199.58823501074204" y2="537.6999999999999" stroke="#555" stroke-width="0.55" stroke-linecap="butt"/>
<line x1="201.4627451203992" y1="536.3" x2="201.4627451203992" y2="537.6999999999999" stroke="#555" stroke-width="0.55" stroke-linecap="butt"/>
<line x1="203.08651963577444" y1="536.3" x2="203.08651963577444" y2="537.6999999999999" stroke="#555" stroke-width="0.55" stroke-linecap="butt"/>
<line x1="204.51879026430112" y1="536.3" x2="204.51879026430112" y2="537.6999999999999" stroke="#555" stroke-width="0.55" stroke-linecap="butt"/>
<line x1="205.8" y1="536.3" x2="205.8" y2="539.0" stroke="#222" stroke-width="1.0" stroke-linecap="butt"/>
<line x1="92.5" y1="536.3" x2="92.5" y2="537.6999999999999" stroke="#555" stroke-width="0.55" stroke-linecap="butt"/>
<line x1="98.2" y1="536.3" x2="98.2" y2="537.6999999999999" stroke="#555" stroke-width="0.55" stroke-linecap="butt"/>
<line x1="109.5" y1="536.3" x2="109.5" y2="537.6999999999999" stroke="#555" stroke-width="0.55" stroke-linecap="butt"/>
<line x1="112.5" y1="536.3" x2="112.5" y2="537.6999999999999" stroke="#555" stroke-width="0.55" stroke-linecap="butt"/>
<line x1="115.5" y1="536.3" x2="115.5" y2="537.6999999999999" stroke="#555" stroke-width="0.55" stroke-linecap="butt"/>
<line x1="105.6" y1="536.3" x2="105.6" y2="538.9" stroke="#333" stroke-width="0.9" stroke-linecap="butt"/>
<text x="83.6" y="425.00" font-size="5.8" text-anchor="end" fill="#222" stroke="#222" stroke-width="0.15" letter-spacing="-0.2">10</text>
<text x="87.3" y="422.40" font-size="4.2" text-anchor="end" fill="#222" stroke="#222" stroke-width="0.1">5</text>
<text x="83.6" y="453.20" font-size="5.8" text-anchor="end" fill="#222" stroke="#222" stroke-width="0.15" letter-spacing="-0.2">10</text>
<text x="87.3" y="450.60" font-size="4.2" text-anchor="end" fill="#222" stroke="#222" stroke-width="0.1">4</text>
<text x="83.6" y="481.00" font-size="5.8" text-anchor="end" fill="#222" stroke="#222" stroke-width="0.15" letter-spacing="-0.2">10</text>
<text x="87.3" y="478.40" font-size="4.2" text-anchor="end" fill="#222" stroke="#222" stroke-width="0.1">3</text>
<text x="83.6" y="511.70" font-size="5.8" text-anchor="end" fill="#222" stroke="#222" stroke-width="0.15" letter-spacing="-0.2">10</text>
<text x="87.3" y="509.10" font-size="4.2" text-anchor="end" fill="#222" stroke="#222" stroke-width="0.1">2</text>
<text x="86.9" y="525.10" font-size="5.8" text-anchor="end" fill="#222" stroke="#222" stroke-width="0.15">0</text>
<text x="113.8" y="548.60" font-size="5.8" fill="#222" stroke="#222" stroke-width="0.15" letter-spacing="-0.2">10</text>
<text x="120.3" y="545.70" font-size="4.2" fill="#222" stroke="#222" stroke-width="0.1">2</text>
<text x="144.3" y="548.60" font-size="5.8" fill="#222" stroke="#222" stroke-width="0.15" letter-spacing="-0.2">10</text>
<text x="150.8" y="545.70" font-size="4.2" fill="#222" stroke="#222" stroke-width="0.1">3</text>
<text x="173.10000000000002" y="548.60" font-size="5.8" fill="#222" stroke="#222" stroke-width="0.15" letter-spacing="-0.2">10</text>
<text x="179.60000000000002" y="545.70" font-size="4.2" fill="#222" stroke="#222" stroke-width="0.1">4</text>
<text x="201.10000000000002" y="548.60" font-size="5.8" fill="#222" stroke="#222" stroke-width="0.15" letter-spacing="-0.2">10</text>
<text x="207.60000000000002" y="545.70" font-size="4.2" fill="#222" stroke="#222" stroke-width="0.1">5</text>
<text x="105.6" y="548.60" font-size="5.8" text-anchor="middle" fill="#222" stroke="#222" stroke-width="0.15">0</text>
<line x1="221.9" y1="411.45" x2="347.3" y2="411.45" stroke="#bbb" stroke-width="1.3" stroke-linecap="butt"/>
<line x1="347.3" y1="411.3" x2="347.3" y2="536.3" stroke="#888" stroke-width="1.0" stroke-linecap="butt"/>
<line x1="221.9" y1="411.3" x2="221.9" y2="536.8" stroke="#333" stroke-width="1.0" stroke-linecap="butt"/>
<line x1="221.9" y1="536.3" x2="347.8" y2="536.3" stroke="#222" stroke-width="1.0" stroke-linecap="butt"/>
<line x1="219.5" y1="423.0" x2="221.9" y2="423.0" stroke="#222" stroke-width="1.0" stroke-linecap="butt"/>
<line x1="220.6" y1="442.7109541222757" x2="221.9" y2="442.7109541222757" stroke="#555" stroke-width="0.55" stroke-linecap="butt"/>
<line x1="220.6" y1="437.7451806169055" x2="221.9" y2="437.7451806169055" stroke="#555" stroke-width="0.55" stroke-linecap="butt"/>
<line x1="220.6" y1="434.22190824455146" x2="221.9" y2="434.22190824455146" stroke="#555" stroke-width="0.55" stroke-linecap="butt"/>
<line x1="220.6" y1="431.48904587772427" x2="221.9" y2="431.48904587772427" stroke="#555" stroke-width="0.55" stroke-linecap="butt"/>
<line x1="220.6" y1="429.2561347391812" x2="221.9" y2="429.2561347391812" stroke="#555" stroke-width="0.55" stroke-linecap="butt"/>
<line x1="220.6" y1="427.36823527159794" x2="221.9" y2="427.36823527159794" stroke="#555" stroke-width="0.55" stroke-linecap="butt"/>
<line x1="220.6" y1="425.7328623668272" x2="221.9" y2="425.7328623668272" stroke="#555" stroke-width="0.55" stroke-linecap="butt"/>
<line x1="220.6" y1="424.29036123381104" x2="221.9" y2="424.29036123381104" stroke="#555" stroke-width="0.55" stroke-linecap="butt"/>
<line x1="219.5" y1="451.2" x2="221.9" y2="451.2" stroke="#222" stroke-width="1.0" stroke-linecap="butt"/>
<line x1="220.6" y1="470.6313661205413" x2="221.9" y2="470.6313661205413" stroke="#555" stroke-width="0.55" stroke-linecap="butt"/>
<line x1="220.6" y1="465.7360291187934" x2="221.9" y2="465.7360291187934" stroke="#555" stroke-width="0.55" stroke-linecap="butt"/>
<line x1="220.6" y1="462.26273224108263" x2="221.9" y2="462.26273224108263" stroke="#555" stroke-width="0.55" stroke-linecap="butt"/>
<line x1="220.6" y1="459.5686338794587" x2="221.9" y2="459.5686338794587" stroke="#555" stroke-width="0.55" stroke-linecap="butt"/>
<line x1="220.6" y1="457.3673952393347" x2="221.9" y2="457.3673952393347" stroke="#555" stroke-width="0.55" stroke-linecap="butt"/>
<line x1="220.6" y1="455.50627448760366" x2="221.9" y2="455.50627448760366" stroke="#555" stroke-width="0.55" stroke-linecap="butt"/>
<line x1="220.6" y1="453.89409836162395" x2="221.9" y2="453.89409836162395" stroke="#555" stroke-width="0.55" stroke-linecap="butt"/>
<line x1="220.6" y1="452.4720582375868" x2="221.9" y2="452.4720582375868" stroke="#555" stroke-width="0.55" stroke-linecap="butt"/>
<line x1="219.5" y1="479.0" x2="221.9" y2="479.0" stroke="#222" stroke-width="1.0" stroke-linecap="butt"/>
<line x1="220.6" y1="500.45837913311584" x2="221.9" y2="500.45837913311584" stroke="#555" stroke-width="0.55" stroke-linecap="butt"/>
<line x1="220.6" y1="495.05237748010643" x2="221.9" y2="495.05237748010643" stroke="#555" stroke-width="0.55" stroke-linecap="butt"/>
<line x1="220.6" y1="491.2167582662316" x2="221.9" y2="491.2167582662316" stroke="#555" stroke-width="0.55" stroke-linecap="butt"/>
<line x1="220.6" y1="488.24162086688426" x2="221.9" y2="488.24162086688426" stroke="#555" stroke-width="0.55" stroke-linecap="butt"/>
<line x1="220.6" y1="485.81075661322217" x2="221.9" y2="485.81075661322217" stroke="#555" stroke-width="0.55" stroke-linecap="butt"/>
<line x1="220.6" y1="483.75549017156237" x2="221.9" y2="483.75549017156237" stroke="#555" stroke-width="0.55" stroke-linecap="butt"/>
<line x1="220.6" y1="481.9751373993474" x2="221.9" y2="481.9751373993474" stroke="#555" stroke-width="0.55" stroke-linecap="butt"/>
<line x1="220.6" y1="480.40475496021276" x2="221.9" y2="480.40475496021276" stroke="#555" stroke-width="0.55" stroke-linecap="butt"/>
<line x1="219.5" y1="509.70000000000005" x2="221.9" y2="509.70000000000005" stroke="#222" stroke-width="1.0" stroke-linecap="butt"/>
<line x1="220.6" y1="515.3" x2="221.9" y2="515.3" stroke="#555" stroke-width="0.55" stroke-linecap="butt"/>
<line x1="220.6" y1="519.3" x2="221.9" y2="519.3" stroke="#555" stroke-width="0.55" stroke-linecap="butt"/>
<line x1="220.6" y1="523.1" x2="221.9" y2="523.1" stroke="#555" stroke-width="0.55" stroke-linecap="butt"/>
<line x1="220.6" y1="527.3" x2="221.9" y2="527.3" stroke="#555" stroke-width="0.55" stroke-linecap="butt"/>
<line x1="220.6" y1="531.8" x2="221.9" y2="531.8" stroke="#555" stroke-width="0.55" stroke-linecap="butt"/>
<line x1="219.6" y1="523.1" x2="221.9" y2="523.1" stroke="#333" stroke-width="0.9" stroke-linecap="butt"/>
<line x1="248.9" y1="536.3" x2="248.9" y2="539.0" stroke="#222" stroke-width="1.0" stroke-linecap="butt"/>
<line x1="258.08141486775145" y1="536.3" x2="258.08141486775145" y2="537.6999999999999" stroke="#555" stroke-width="0.55" stroke-linecap="butt"/>
<line x1="263.4521982689497" y1="536.3" x2="263.4521982689497" y2="537.6999999999999" stroke="#555" stroke-width="0.55" stroke-linecap="butt"/>
<line x1="267.26282973550286" y1="536.3" x2="267.26282973550286" y2="537.6999999999999" stroke="#555" stroke-width="0.55" stroke-linecap="butt"/>
<line x1="270.21858513224856" y1="536.3" x2="270.21858513224856" y2="537.6999999999999" stroke="#555" stroke-width="0.55" stroke-linecap="butt"/>
<line x1="272.6336131367011" y1="536.3" x2="272.6336131367011" y2="537.6999999999999" stroke="#555" stroke-width="0.55" stroke-linecap="butt"/>
<line x1="274.6754902204348" y1="536.3" x2="274.6754902204348" y2="537.6999999999999" stroke="#555" stroke-width="0.55" stroke-linecap="butt"/>
<line x1="276.4442446032543" y1="536.3" x2="276.4442446032543" y2="537.6999999999999" stroke="#555" stroke-width="0.55" stroke-linecap="butt"/>
<line x1="278.0043965378994" y1="536.3" x2="278.0043965378994" y2="537.6999999999999" stroke="#555" stroke-width="0.55" stroke-linecap="butt"/>
<line x1="279.4" y1="536.3" x2="279.4" y2="539.0" stroke="#222" stroke-width="1.0" stroke-linecap="butt"/>
<line x1="288.0696638751226" y1="536.3" x2="288.0696638751226" y2="537.6999999999999" stroke="#555" stroke-width="0.55" stroke-linecap="butt"/>
<line x1="293.14109213592627" y1="536.3" x2="293.14109213592627" y2="537.6999999999999" stroke="#555" stroke-width="0.55" stroke-linecap="butt"/>
<line x1="296.7393277502453" y1="536.3" x2="296.7393277502453" y2="537.6999999999999" stroke="#555" stroke-width="0.55" stroke-linecap="butt"/>
<line x1="299.5303361248773" y1="536.3" x2="299.5303361248773" y2="537.6999999999999" stroke="#555" stroke-width="0.55" stroke-linecap="butt"/>
<line x1="301.8107560110489" y1="536.3" x2="301.8107560110489" y2="537.6999999999999" stroke="#555" stroke-width="0.55" stroke-linecap="butt"/>
<line x1="303.73882355241057" y1="536.3" x2="303.73882355241057" y2="537.6999999999999" stroke="#555" stroke-width="0.55" stroke-linecap="butt"/>
<line x1="305.40899162536795" y1="536.3" x2="305.40899162536795" y2="537.6999999999999" stroke="#555" stroke-width="0.55" stroke-linecap="butt"/>
<line x1="306.8821842718525" y1="536.3" x2="306.8821842718525" y2="537.6999999999999" stroke="#555" stroke-width="0.55" stroke-linecap="butt"/>
<line x1="308.2" y1="536.3" x2="308.2" y2="539.0" stroke="#222" stroke-width="1.0" stroke-linecap="butt"/>
<line x1="316.62883987859146" y1="536.3" x2="316.62883987859146" y2="537.6999999999999" stroke="#555" stroke-width="0.55" stroke-linecap="butt"/>
<line x1="321.55939513215054" y1="536.3" x2="321.55939513215054" y2="537.6999999999999" stroke="#555" stroke-width="0.55" stroke-linecap="butt"/>
<line x1="325.05767975718294" y1="536.3" x2="325.05767975718294" y2="537.6999999999999" stroke="#555" stroke-width="0.55" stroke-linecap="butt"/>
<line x1="327.7711601214085" y1="536.3" x2="327.7711601214085" y2="537.6999999999999" stroke="#555" stroke-width="0.55" stroke-linecap="butt"/>
<line x1="329.988235010742" y1="536.3" x2="329.988235010742" y2="537.6999999999999" stroke="#555" stroke-width="0.55" stroke-linecap="butt"/>
<line x1="331.86274512039915" y1="536.3" x2="331.86274512039915" y2="537.6999999999999" stroke="#555" stroke-width="0.55" stroke-linecap="butt"/>
<line x1="333.4865196357744" y1="536.3" x2="333.4865196357744" y2="537.6999999999999" stroke="#555" stroke-width="0.55" stroke-linecap="butt"/>
<line x1="334.9187902643011" y1="536.3" x2="334.9187902643011" y2="537.6999999999999" stroke="#555" stroke-width="0.55" stroke-linecap="butt"/>
<line x1="336.2" y1="536.3" x2="336.2" y2="539.0" stroke="#222" stroke-width="1.0" stroke-linecap="butt"/>
<line x1="222.9" y1="536.3" x2="222.9" y2="537.6999999999999" stroke="#555" stroke-width="0.55" stroke-linecap="butt"/>
<line x1="228.6" y1="536.3" x2="228.6" y2="537.6999999999999" stroke="#555" stroke-width="0.55" stroke-linecap="butt"/>
<line x1="239.9" y1="536.3" x2="239.9" y2="537.6999999999999" stroke="#555" stroke-width="0.55" stroke-linecap="butt"/>
<line x1="242.9" y1="536.3" x2="242.9" y2="537.6999999999999" stroke="#555" stroke-width="0.55" stroke-linecap="butt"/>
<line x1="245.9" y1="536.3" x2="245.9" y2="537.6999999999999" stroke="#555" stroke-width="0.55" stroke-linecap="butt"/>
<line x1="236.0" y1="536.3" x2="236.0" y2="538.9" stroke="#333" stroke-width="0.9" stroke-linecap="butt"/>
<text x="244.20000000000002" y="548.60" font-size="5.8" fill="#222" stroke="#222" stroke-width="0.15" letter-spacing="-0.2">10</text>
<text x="250.70000000000002" y="545.70" font-size="4.2" fill="#222" stroke="#222" stroke-width="0.1">2</text>
<text x="274.7" y="548.60" font-size="5.8" fill="#222" stroke="#222" stroke-width="0.15" letter-spacing="-0.2">10</text>
<text x="281.2" y="545.70" font-size="4.2" fill="#222" stroke="#222" stroke-width="0.1">3</text>
<text x="303.5" y="548.60" font-size="5.8" fill="#222" stroke="#222" stroke-width="0.15" letter-spacing="-0.2">10</text>
<text x="310.0" y="545.70" font-size="4.2" fill="#222" stroke="#222" stroke-width="0.1">4</text>
<text x="331.5" y="548.60" font-size="5.8" fill="#222" stroke="#222" stroke-width="0.15" letter-spacing="-0.2">10</text>
<text x="338.0" y="545.70" font-size="4.2" fill="#222" stroke="#222" stroke-width="0.1">5</text>
<text x="236.0" y="548.60" font-size="5.8" text-anchor="middle" fill="#222" stroke="#222" stroke-width="0.15">0</text>
<path d="M159.50,359.36 L159.00,359.36 L158.75,359.29 L158.41,359.05 L158.22,358.80 L158.05,358.30 L158.02,357.80 L158.09,357.30 L158.24,356.80 L158.34,356.55 L158.50,356.22 L158.75,355.81 L158.95,355.55 L159.16,355.30 L159.41,355.05 L159.70,354.80 L160.00,354.60 L160.25,354.46 L160.68,354.30 L161.00,354.24 L161.50,354.29 L161.75,354.40 L162.00,354.61 L162.25,355.05 L162.31,355.30 L162.34,355.80 L162.27,356.30 L162.20,356.55 L162.02,357.05 L161.90,357.30 L161.75,357.57 L161.50,357.94 L161.25,358.25 L161.00,358.52 L160.75,358.74 L160.50,358.92 L160.25,359.08 L159.75,359.30 L159.50,359.36 L159.50,359.36Z" fill="none" stroke="#474747" stroke-width="0.6"/>
<path d="M159.50,360.84 L159.00,360.95 L158.50,360.97 L158.00,360.87 L157.75,360.77 L157.43,360.55 L157.19,360.30 L157.00,360.01 L156.81,359.55 L156.75,359.30 L156.69,358.80 L156.70,358.30 L156.75,357.85 L156.81,357.55 L156.95,357.05 L157.03,356.80 L157.24,356.30 L157.36,356.05 L157.50,355.78 L157.75,355.36 L157.96,355.05 L158.15,354.80 L158.35,354.55 L158.57,354.30 L158.82,354.05 L159.09,353.80 L159.40,353.55 L159.75,353.30 L160.00,353.15 L160.25,353.01 L160.74,352.80 L161.00,352.72 L161.50,352.63 L162.00,352.62 L162.50,352.74 L162.75,352.86 L163.01,353.05 L163.25,353.30 L163.50,353.73 L163.61,354.05 L163.70,354.55 L163.72,355.05 L163.67,355.55 L163.58,356.05 L163.50,356.34 L163.35,356.80 L163.25,357.05 L163.01,357.55 L162.88,357.80 L162.74,358.05 L162.50,358.41 L162.25,358.76 L162.01,359.05 L161.79,359.30 L161.55,359.55 L161.28,359.80 L161.00,360.03 L160.75,360.21 L160.50,360.38 L160.20,360.55 L159.75,360.76 L159.50,360.84 L159.50,360.84Z" fill="none" stroke="#474747" stroke-width="0.6"/>
<path d="M158.25,362.57 L157.75,362.55 L157.50,362.52 L157.00,362.36 L156.75,362.23 L156.48,362.05 L156.20,361.80 L155.99,361.55 L155.75,361.15 L155.60,360.80 L155.50,360.49 L155.41,360.05 L155.36,359.55 L155.36,359.05 L155.40,358.55 L155.48,358.05 L155.53,357.80 L155.66,357.30 L155.75,357.02 L155.92,356.55 L156.02,356.30 L156.25,355.81 L156.38,355.55 L156.52,355.30 L156.75,354.91 L156.99,354.55 L157.16,354.30 L157.35,354.05 L157.55,353.80 L157.76,353.55 L158.00,353.29 L158.25,353.03 L158.50,352.80 L158.78,352.55 L159.09,352.30 L159.43,352.05 L159.75,351.84 L160.00,351.69 L160.27,351.55 L160.75,351.33 L161.00,351.24 L161.50,351.09 L161.75,351.04 L162.25,350.98 L162.75,350.99 L163.12,351.05 L163.50,351.17 L163.78,351.30 L164.15,351.55 L164.40,351.80 L164.59,352.05 L164.75,352.31 L164.95,352.80 L165.02,353.05 L165.11,353.55 L165.14,354.05 L165.12,354.55 L165.06,355.05 L165.00,355.38 L164.90,355.80 L164.76,356.30 L164.68,356.55 L164.50,357.01 L164.37,357.30 L164.25,357.57 L164.00,358.05 L163.86,358.30 L163.71,358.55 L163.50,358.88 L163.25,359.24 L163.02,359.55 L162.82,359.80 L162.60,360.05 L162.37,360.30 L162.13,360.55 L161.87,360.80 L161.58,361.05 L161.27,361.30 L161.00,361.50 L160.75,361.67 L160.50,361.83 L160.09,362.05 L159.75,362.21 L159.50,362.30 L159.00,362.46 L158.50,362.55 L158.25,362.57 L158.25,362.57Z" fill="none" stroke="#474747" stroke-width="0.6"/>
<path d="M178.75,342.57 L178.30,342.55 L178.00,342.49 L177.61,342.30 L177.37,342.05 L177.25,341.80 L177.21,341.30 L177.25,341.03 L177.41,340.55 L177.53,340.30 L177.75,339.94 L178.00,339.59 L178.24,339.30 L178.47,339.05 L178.73,338.80 L179.00,338.56 L179.25,338.36 L179.50,338.18 L179.75,338.00 L180.07,337.80 L180.50,337.56 L180.75,337.44 L181.08,337.30 L181.50,337.15 L181.89,337.05 L182.25,336.98 L182.75,336.96 L183.25,337.03 L183.50,337.13 L183.76,337.30 L184.00,337.63 L184.10,338.05 L184.05,338.55 L183.97,338.80 L183.75,339.29 L183.59,339.55 L183.42,339.80 L183.23,340.05 L183.00,340.31 L182.75,340.57 L182.50,340.80 L182.20,341.05 L181.88,341.30 L181.51,341.55 L181.25,341.71 L181.00,341.85 L180.61,342.05 L180.25,342.20 L180.00,342.30 L179.50,342.45 L179.00,342.54 L178.75,342.57 L178.75,342.57Z" fill="none" stroke="#474747" stroke-width="0.6"/>
<path d="M158.50,364.06 L158.00,364.14 L157.50,364.17 L157.00,364.13 L156.59,364.05 L156.25,363.94 L155.93,363.80 L155.53,363.55 L155.25,363.32 L155.00,363.06 L154.80,362.80 L154.64,362.55 L154.50,362.29 L154.30,361.80 L154.22,361.55 L154.11,361.05 L154.05,360.55 L154.02,360.05 L154.03,359.55 L154.08,359.05 L154.15,358.55 L154.25,358.05 L154.31,357.80 L154.45,357.30 L154.53,357.05 L154.71,356.55 L154.81,356.30 L155.00,355.87 L155.15,355.55 L155.28,355.30 L155.50,354.89 L155.70,354.55 L155.85,354.30 L156.01,354.05 L156.25,353.71 L156.50,353.37 L156.75,353.05 L156.96,352.80 L157.18,352.55 L157.41,352.30 L157.65,352.05 L157.91,351.80 L158.18,351.55 L158.47,351.30 L158.75,351.07 L159.00,350.89 L159.25,350.71 L159.50,350.54 L159.90,350.30 L160.25,350.11 L160.50,349.98 L160.91,349.80 L161.25,349.67 L161.62,349.55 L162.00,349.45 L162.50,349.36 L163.00,349.31 L163.50,349.32 L164.00,349.39 L164.50,349.53 L164.75,349.63 L165.07,349.80 L165.42,350.05 L165.68,350.30 L165.89,350.55 L166.05,350.80 L166.25,351.19 L166.38,351.55 L166.50,352.00 L166.55,352.30 L166.60,352.80 L166.61,353.30 L166.58,353.80 L166.52,354.30 L166.48,354.55 L166.38,355.05 L166.26,355.55 L166.18,355.80 L166.02,356.30 L165.93,356.55 L165.75,357.01 L165.63,357.30 L165.50,357.57 L165.26,358.05 L165.13,358.30 L164.99,358.55 L164.75,358.96 L164.54,359.30 L164.37,359.55 L164.19,359.80 L164.00,360.07 L163.75,360.39 L163.50,360.70 L163.25,360.98 L163.00,361.26 L162.75,361.52 L162.50,361.76 L162.25,361.99 L162.00,362.21 L161.75,362.41 L161.50,362.61 L161.24,362.80 L160.86,363.05 L160.50,363.27 L160.25,363.41 L159.97,363.55 L159.50,363.76 L159.25,363.85 L158.75,364.00 L158.50,364.06 L158.50,364.06Z" fill="none" stroke="#474747" stroke-width="0.6"/>
<path d="M178.00,344.58 L177.50,344.66 L177.00,344.70 L176.50,344.69 L176.00,344.62 L175.72,344.55 L175.25,344.34 L175.00,344.15 L174.75,343.85 L174.61,343.55 L174.51,343.05 L174.53,342.55 L174.64,342.05 L174.75,341.71 L174.92,341.30 L175.04,341.05 L175.25,340.67 L175.48,340.30 L175.65,340.05 L175.83,339.80 L176.02,339.55 L176.25,339.27 L176.50,338.99 L176.75,338.72 L177.00,338.47 L177.25,338.23 L177.50,338.00 L177.75,337.79 L178.04,337.55 L178.36,337.30 L178.71,337.05 L179.00,336.85 L179.25,336.69 L179.50,336.53 L179.90,336.30 L180.25,336.11 L180.50,335.99 L180.90,335.80 L181.25,335.65 L181.51,335.55 L182.00,335.38 L182.28,335.30 L182.75,335.19 L183.25,335.10 L183.73,335.05 L184.00,335.04 L184.26,335.05 L184.75,335.11 L185.25,335.25 L185.50,335.37 L185.77,335.55 L186.03,335.80 L186.25,336.14 L186.40,336.55 L186.45,337.05 L186.40,337.55 L186.27,338.05 L186.18,338.30 L186.00,338.72 L185.83,339.05 L185.68,339.30 L185.50,339.58 L185.25,339.94 L185.00,340.26 L184.75,340.55 L184.53,340.80 L184.29,341.05 L184.03,341.30 L183.76,341.55 L183.50,341.78 L183.25,341.99 L183.00,342.18 L182.75,342.37 L182.50,342.55 L182.14,342.80 L181.75,343.05 L181.50,343.20 L181.25,343.34 L180.86,343.55 L180.50,343.73 L180.25,343.84 L179.76,344.05 L179.50,344.15 L179.07,344.30 L178.75,344.40 L178.25,344.53 L178.00,344.58 L178.00,344.58Z" fill="none" stroke="#474747" stroke-width="0.6"/>
<path d="M158.25,365.61 L157.75,365.70 L157.25,365.75 L156.75,365.75 L156.25,365.71 L155.75,365.60 L155.50,365.52 L155.00,365.30 L154.75,365.16 L154.50,364.99 L154.25,364.78 L154.00,364.54 L153.75,364.24 L153.50,363.88 L153.31,363.55 L153.20,363.30 L153.01,362.80 L152.93,362.55 L152.82,362.05 L152.75,361.61 L152.72,361.30 L152.69,360.80 L152.70,360.30 L152.73,359.80 L152.75,359.55 L152.82,359.05 L152.92,358.55 L153.00,358.18 L153.10,357.80 L153.24,357.30 L153.33,357.05 L153.50,356.57 L153.60,356.30 L153.75,355.95 L153.93,355.55 L154.05,355.30 L154.25,354.90 L154.44,354.55 L154.58,354.30 L154.75,354.02 L155.00,353.62 L155.21,353.30 L155.38,353.05 L155.57,352.80 L155.75,352.55 L156.00,352.24 L156.25,351.94 L156.50,351.65 L156.75,351.37 L157.00,351.11 L157.25,350.86 L157.50,350.63 L157.75,350.40 L158.00,350.18 L158.25,349.97 L158.50,349.78 L158.81,349.55 L159.16,349.30 L159.50,349.08 L159.75,348.93 L160.00,348.78 L160.44,348.55 L160.75,348.40 L161.00,348.29 L161.50,348.09 L161.75,348.01 L162.25,347.86 L162.50,347.80 L163.00,347.70 L163.50,347.63 L164.00,347.61 L164.50,347.62 L165.00,347.67 L165.50,347.77 L165.75,347.84 L166.25,348.04 L166.50,348.17 L166.75,348.32 L167.05,348.55 L167.30,348.80 L167.50,349.05 L167.75,349.46 L167.90,349.80 L168.00,350.11 L168.11,350.55 L168.18,351.05 L168.21,351.55 L168.21,352.05 L168.18,352.55 L168.13,353.05 L168.06,353.55 L168.00,353.86 L167.91,354.30 L167.79,354.80 L167.72,355.05 L167.57,355.55 L167.48,355.80 L167.31,356.30 L167.21,356.55 L167.00,357.05 L166.90,357.30 L166.75,357.61 L166.54,358.05 L166.41,358.30 L166.25,358.59 L166.00,359.03 L165.84,359.30 L165.69,359.55 L165.50,359.84 L165.25,360.21 L165.01,360.55 L164.82,360.80 L164.63,361.05 L164.43,361.30 L164.22,361.55 L164.00,361.80 L163.75,362.08 L163.50,362.35 L163.25,362.60 L163.00,362.84 L162.75,363.07 L162.49,363.30 L162.19,363.55 L161.88,363.80 L161.54,364.05 L161.25,364.25 L161.00,364.41 L160.75,364.57 L160.34,364.80 L160.00,364.98 L159.75,365.09 L159.25,365.30 L159.00,365.39 L158.50,365.54 L158.25,365.61 L158.25,365.61Z" fill="none" stroke="#474747" stroke-width="0.6"/>
<path d="M157.00,367.32 L156.50,367.35 L156.00,367.34 L155.67,367.30 L155.25,367.23 L154.75,367.09 L154.50,367.00 L154.07,366.80 L153.75,366.62 L153.50,366.44 L153.25,366.24 L153.00,366.01 L152.75,365.73 L152.50,365.41 L152.26,365.05 L152.13,364.80 L152.00,364.54 L151.80,364.05 L151.71,363.80 L151.58,363.30 L151.50,362.92 L151.44,362.55 L151.39,362.05 L151.36,361.55 L151.36,361.05 L151.39,360.55 L151.43,360.05 L151.50,359.55 L151.54,359.30 L151.63,358.80 L151.75,358.31 L151.81,358.05 L151.96,357.55 L152.04,357.30 L152.21,356.80 L152.30,356.55 L152.50,356.05 L152.60,355.80 L152.75,355.47 L152.94,355.05 L153.07,354.80 L153.25,354.45 L153.47,354.05 L153.61,353.80 L153.76,353.55 L154.00,353.16 L154.24,352.80 L154.41,352.55 L154.58,352.30 L154.77,352.05 L155.00,351.74 L155.25,351.42 L155.50,351.12 L155.75,350.83 L156.00,350.55 L156.23,350.30 L156.47,350.05 L156.73,349.80 L156.99,349.55 L157.25,349.31 L157.50,349.09 L157.75,348.88 L158.00,348.67 L158.25,348.48 L158.50,348.29 L158.84,348.05 L159.21,347.80 L159.50,347.62 L159.75,347.47 L160.05,347.30 L160.50,347.06 L160.75,346.94 L161.05,346.80 L161.50,346.61 L161.75,346.51 L162.25,346.34 L162.50,346.26 L163.00,346.13 L163.35,346.05 L163.75,345.97 L164.25,345.90 L164.75,345.85 L165.25,345.82 L165.75,345.81 L166.25,345.82 L166.75,345.84 L167.25,345.88 L167.75,345.93 L168.25,345.99 L168.75,346.04 L169.00,346.06 L169.50,346.09 L170.00,346.06 L170.25,346.00 L170.59,345.80 L170.81,345.55 L171.00,345.25 L171.22,344.80 L171.33,344.55 L171.50,344.19 L171.67,343.80 L171.79,343.55 L172.00,343.12 L172.16,342.80 L172.29,342.55 L172.50,342.18 L172.72,341.80 L172.87,341.55 L173.03,341.30 L173.25,340.97 L173.50,340.61 L173.72,340.30 L173.91,340.05 L174.11,339.80 L174.31,339.55 L174.53,339.30 L174.75,339.05 L175.00,338.77 L175.25,338.51 L175.50,338.26 L175.75,338.01 L176.00,337.78 L176.25,337.55 L176.54,337.30 L176.84,337.05 L177.15,336.80 L177.47,336.55 L177.75,336.35 L178.00,336.17 L178.25,335.99 L178.54,335.80 L178.94,335.55 L179.25,335.36 L179.50,335.22 L179.81,335.05 L180.25,334.82 L180.50,334.70 L180.82,334.55 L181.25,334.36 L181.50,334.26 L182.00,334.08 L182.25,333.99 L182.75,333.84 L183.00,333.77 L183.50,333.66 L184.00,333.57 L184.25,333.54 L184.75,333.50 L185.25,333.49 L185.75,333.53 L186.00,333.57 L186.50,333.69 L186.81,333.80 L187.25,334.03 L187.50,334.21 L187.75,334.45 L188.00,334.79 L188.13,335.05 L188.25,335.39 L188.33,335.80 L188.35,336.30 L188.29,336.80 L188.24,337.05 L188.10,337.55 L188.00,337.84 L187.80,338.30 L187.68,338.55 L187.50,338.89 L187.25,339.30 L187.09,339.55 L186.92,339.80 L186.74,340.05 L186.50,340.36 L186.25,340.66 L186.00,340.95 L185.75,341.22 L185.50,341.48 L185.25,341.73 L185.00,341.97 L184.75,342.20 L184.50,342.42 L184.25,342.63 L184.00,342.84 L183.73,343.05 L183.41,343.30 L183.06,343.55 L182.75,343.77 L182.50,343.94 L182.25,344.10 L181.93,344.30 L181.51,344.55 L181.25,344.70 L181.00,344.83 L180.58,345.05 L180.25,345.22 L180.00,345.33 L179.52,345.55 L179.25,345.66 L178.90,345.80 L178.50,345.95 L178.21,346.05 L177.75,346.20 L177.40,346.30 L177.00,346.41 L176.50,346.52 L176.25,346.58 L175.75,346.67 L175.25,346.74 L174.76,346.80 L174.50,346.82 L174.00,346.86 L173.50,346.89 L173.00,346.90 L172.50,346.92 L172.00,346.97 L171.65,347.05 L171.25,347.28 L171.04,347.55 L170.92,347.80 L170.75,348.24 L170.66,348.55 L170.54,349.05 L170.48,349.30 L170.38,349.80 L170.28,350.30 L170.23,350.55 L170.13,351.05 L170.03,351.55 L169.98,351.80 L169.87,352.30 L169.75,352.80 L169.69,353.05 L169.56,353.55 L169.49,353.80 L169.34,354.30 L169.25,354.59 L169.10,355.05 L169.00,355.33 L168.83,355.80 L168.73,356.05 L168.53,356.55 L168.42,356.80 L168.25,357.18 L168.08,357.55 L167.96,357.80 L167.75,358.20 L167.57,358.55 L167.43,358.80 L167.25,359.12 L167.00,359.54 L166.84,359.80 L166.68,360.05 L166.50,360.33 L166.25,360.70 L166.00,361.05 L165.82,361.30 L165.63,361.55 L165.44,361.80 L165.24,362.05 L165.00,362.33 L164.75,362.63 L164.50,362.91 L164.25,363.18 L164.00,363.43 L163.75,363.68 L163.50,363.92 L163.25,364.16 L163.00,364.38 L162.75,364.59 L162.50,364.80 L162.18,365.05 L161.84,365.30 L161.50,365.54 L161.25,365.70 L161.00,365.86 L160.68,366.05 L160.25,366.29 L160.00,366.42 L159.71,366.55 L159.25,366.75 L159.00,366.85 L158.50,367.02 L158.25,367.09 L157.75,367.21 L157.25,367.29 L157.00,367.32 L157.00,367.32Z" fill="none" stroke="#474747" stroke-width="0.6"/>
<path d="M157.25,368.80 L156.75,368.88 L156.25,368.93 L155.75,368.94 L155.25,368.91 L154.75,368.85 L154.50,368.80 L154.00,368.66 L153.68,368.55 L153.25,368.36 L153.00,368.22 L152.72,368.05 L152.38,367.80 L152.08,367.55 L151.83,367.30 L151.61,367.05 L151.41,366.80 L151.23,366.55 L151.00,366.16 L150.81,365.80 L150.70,365.55 L150.50,365.05 L150.42,364.80 L150.29,364.30 L150.23,364.05 L150.14,363.55 L150.08,363.05 L150.04,362.55 L150.03,362.05 L150.03,361.55 L150.06,361.05 L150.11,360.55 L150.17,360.05 L150.25,359.58 L150.30,359.30 L150.41,358.80 L150.50,358.43 L150.60,358.05 L150.75,357.55 L150.83,357.30 L151.00,356.80 L151.09,356.55 L151.25,356.14 L151.39,355.80 L151.50,355.54 L151.72,355.05 L151.84,354.80 L152.00,354.48 L152.22,354.05 L152.36,353.80 L152.50,353.55 L152.75,353.12 L152.94,352.80 L153.10,352.55 L153.26,352.30 L153.50,351.95 L153.75,351.59 L153.96,351.30 L154.15,351.05 L154.35,350.80 L154.55,350.55 L154.75,350.30 L155.00,350.01 L155.25,349.73 L155.50,349.45 L155.75,349.19 L156.00,348.93 L156.25,348.69 L156.50,348.45 L156.75,348.22 L157.00,348.00 L157.25,347.78 L157.53,347.55 L157.84,347.30 L158.17,347.05 L158.50,346.81 L158.75,346.64 L159.00,346.47 L159.27,346.30 L159.67,346.05 L160.00,345.86 L160.25,345.72 L160.59,345.55 L161.00,345.35 L161.25,345.23 L161.68,345.05 L162.00,344.92 L162.33,344.80 L162.75,344.66 L163.10,344.55 L163.50,344.43 L164.00,344.31 L164.25,344.25 L164.75,344.15 L165.25,344.05 L165.50,344.01 L166.00,343.92 L166.50,343.84 L166.75,343.79 L167.25,343.68 L167.75,343.56 L168.00,343.48 L168.47,343.30 L168.75,343.17 L169.00,343.04 L169.38,342.80 L169.73,342.55 L170.00,342.33 L170.25,342.11 L170.50,341.87 L170.75,341.62 L171.00,341.35 L171.25,341.08 L171.50,340.81 L171.73,340.55 L171.95,340.30 L172.18,340.05 L172.40,339.80 L172.63,339.55 L172.86,339.30 L173.10,339.05 L173.34,338.80 L173.58,338.55 L173.83,338.30 L174.08,338.05 L174.34,337.80 L174.61,337.55 L174.89,337.30 L175.17,337.05 L175.46,336.80 L175.75,336.56 L176.00,336.36 L176.25,336.16 L176.50,335.97 L176.75,335.78 L177.06,335.55 L177.42,335.30 L177.75,335.08 L178.00,334.91 L178.25,334.75 L178.58,334.55 L179.00,334.30 L179.25,334.16 L179.50,334.02 L179.93,333.80 L180.25,333.64 L180.50,333.52 L180.98,333.30 L181.25,333.18 L181.58,333.05 L182.00,332.89 L182.25,332.80 L182.75,332.63 L183.03,332.55 L183.50,332.42 L184.00,332.30 L184.25,332.25 L184.75,332.17 L185.25,332.11 L185.75,332.08 L186.25,332.07 L186.75,332.11 L187.25,332.18 L187.75,332.30 L188.00,332.38 L188.40,332.55 L188.75,332.75 L189.00,332.93 L189.25,333.16 L189.50,333.45 L189.72,333.80 L189.84,334.05 L190.00,334.55 L190.04,334.80 L190.08,335.30 L190.06,335.80 L190.00,336.21 L189.93,336.55 L189.79,337.05 L189.70,337.30 L189.50,337.80 L189.39,338.05 L189.25,338.33 L189.00,338.79 L188.85,339.05 L188.69,339.30 L188.50,339.59 L188.25,339.95 L188.00,340.28 L187.79,340.55 L187.59,340.80 L187.38,341.05 L187.16,341.30 L186.93,341.55 L186.69,341.80 L186.45,342.05 L186.20,342.30 L185.93,342.55 L185.66,342.80 L185.38,343.05 L185.09,343.30 L184.79,343.55 L184.50,343.79 L184.25,343.98 L184.00,344.17 L183.75,344.36 L183.49,344.55 L183.13,344.80 L182.76,345.05 L182.50,345.22 L182.25,345.38 L181.98,345.55 L181.56,345.80 L181.25,345.98 L181.00,346.13 L180.68,346.30 L180.25,346.53 L180.00,346.66 L179.71,346.80 L179.25,347.02 L179.00,347.14 L178.64,347.30 L178.25,347.47 L178.00,347.58 L177.50,347.79 L177.25,347.89 L176.84,348.05 L176.50,348.19 L176.21,348.30 L175.75,348.49 L175.50,348.59 L175.02,348.80 L174.75,348.93 L174.50,349.05 L174.06,349.30 L173.75,349.51 L173.50,349.69 L173.25,349.91 L173.00,350.16 L172.75,350.44 L172.50,350.78 L172.33,351.05 L172.18,351.30 L172.00,351.63 L171.80,352.05 L171.69,352.30 L171.50,352.73 L171.37,353.05 L171.25,353.34 L171.07,353.80 L170.97,354.05 L170.76,354.55 L170.66,354.80 L170.50,355.19 L170.35,355.55 L170.24,355.80 L170.02,356.30 L169.90,356.55 L169.75,356.87 L169.55,357.30 L169.42,357.55 L169.25,357.88 L169.03,358.30 L168.90,358.55 L168.75,358.81 L168.50,359.25 L168.32,359.55 L168.17,359.80 L168.00,360.07 L167.75,360.47 L167.53,360.80 L167.36,361.05 L167.19,361.30 L167.00,361.56 L166.75,361.90 L166.50,362.23 L166.25,362.55 L166.05,362.80 L165.84,363.05 L165.63,363.30 L165.41,363.55 L165.19,363.80 L164.96,364.05 L164.72,364.30 L164.47,364.55 L164.22,364.80 L163.95,365.05 L163.68,365.30 L163.40,365.55 L163.11,365.80 L162.80,366.05 L162.50,366.28 L162.25,366.47 L162.00,366.65 L161.75,366.83 L161.41,367.05 L161.01,367.30 L160.75,367.45 L160.50,367.59 L160.11,367.80 L159.75,367.98 L159.50,368.09 L159.00,368.30 L158.75,368.39 L158.27,368.55 L158.00,368.63 L157.50,368.75 L157.25,368.80 L157.25,368.80Z" fill="none" stroke="#474747" stroke-width="0.6"/>
<path d="M157.00,370.35 L156.50,370.44 L156.00,370.50 L155.50,370.52 L155.00,370.52 L154.50,370.49 L154.00,370.42 L153.50,370.30 L153.25,370.23 L152.75,370.05 L152.50,369.95 L152.21,369.80 L151.79,369.55 L151.50,369.35 L151.25,369.16 L151.00,368.94 L150.75,368.69 L150.50,368.41 L150.25,368.09 L150.05,367.80 L149.89,367.55 L149.75,367.30 L149.50,366.80 L149.39,366.55 L149.25,366.17 L149.13,365.80 L149.00,365.33 L148.93,365.05 L148.84,364.55 L148.77,364.05 L148.74,363.80 L148.71,363.30 L148.69,362.80 L148.69,362.30 L148.72,361.80 L148.75,361.37 L148.78,361.05 L148.84,360.55 L148.92,360.05 L149.00,359.63 L149.07,359.30 L149.18,358.80 L149.25,358.54 L149.38,358.05 L149.50,357.66 L149.61,357.30 L149.75,356.90 L149.88,356.55 L150.00,356.23 L150.17,355.80 L150.28,355.55 L150.50,355.05 L150.61,354.80 L150.75,354.51 L150.98,354.05 L151.11,353.80 L151.25,353.54 L151.50,353.09 L151.67,352.80 L151.82,352.55 L152.00,352.25 L152.25,351.86 L152.45,351.55 L152.62,351.30 L152.80,351.05 L153.00,350.77 L153.25,350.43 L153.50,350.10 L153.74,349.80 L153.94,349.55 L154.15,349.30 L154.37,349.05 L154.59,348.80 L154.82,348.55 L155.05,348.30 L155.29,348.05 L155.54,347.80 L155.80,347.55 L156.06,347.30 L156.33,347.05 L156.61,346.80 L156.91,346.55 L157.21,346.30 L157.50,346.07 L157.75,345.87 L158.00,345.69 L158.25,345.51 L158.55,345.30 L158.92,345.05 L159.25,344.84 L159.50,344.68 L159.75,344.54 L160.17,344.30 L160.50,344.12 L160.75,343.99 L161.15,343.80 L161.50,343.64 L161.75,343.53 L162.25,343.32 L162.50,343.22 L162.98,343.05 L163.25,342.95 L163.73,342.80 L164.00,342.72 L164.50,342.57 L164.75,342.50 L165.25,342.37 L165.50,342.30 L166.00,342.16 L166.39,342.05 L166.75,341.94 L167.16,341.80 L167.50,341.67 L167.80,341.55 L168.25,341.34 L168.50,341.21 L168.78,341.05 L169.18,340.80 L169.50,340.58 L169.75,340.39 L170.00,340.20 L170.25,339.99 L170.50,339.78 L170.77,339.55 L171.05,339.30 L171.33,339.05 L171.60,338.80 L171.87,338.55 L172.14,338.30 L172.41,338.05 L172.69,337.80 L172.96,337.55 L173.25,337.30 L173.50,337.08 L173.75,336.86 L174.00,336.64 L174.25,336.43 L174.50,336.23 L174.75,336.02 L175.03,335.80 L175.35,335.55 L175.68,335.30 L176.00,335.07 L176.25,334.89 L176.50,334.71 L176.75,334.54 L177.10,334.30 L177.49,334.05 L177.75,333.88 L178.00,333.73 L178.30,333.55 L178.73,333.30 L179.00,333.15 L179.25,333.01 L179.66,332.80 L180.00,332.63 L180.25,332.51 L180.69,332.30 L181.00,332.16 L181.26,332.05 L181.75,331.85 L182.00,331.75 L182.50,331.57 L182.75,331.49 L183.25,331.33 L183.50,331.26 L184.00,331.12 L184.31,331.05 L184.75,330.95 L185.25,330.87 L185.74,330.80 L186.00,330.77 L186.50,330.73 L187.00,330.72 L187.50,330.74 L188.00,330.79 L188.25,330.82 L188.75,330.92 L189.17,331.05 L189.50,331.17 L189.77,331.30 L190.20,331.55 L190.50,331.77 L190.75,332.00 L191.00,332.29 L191.19,332.55 L191.33,332.80 L191.50,333.20 L191.61,333.55 L191.70,334.05 L191.73,334.55 L191.71,335.05 L191.65,335.55 L191.54,336.05 L191.47,336.30 L191.32,336.80 L191.22,337.05 L191.01,337.55 L190.90,337.80 L190.75,338.10 L190.51,338.55 L190.37,338.80 L190.22,339.05 L190.00,339.39 L189.75,339.76 L189.55,340.05 L189.36,340.30 L189.17,340.55 L188.97,340.80 L188.75,341.07 L188.50,341.37 L188.25,341.65 L188.00,341.93 L187.75,342.19 L187.50,342.45 L187.25,342.70 L187.00,342.95 L186.75,343.18 L186.50,343.42 L186.25,343.64 L186.00,343.86 L185.75,344.08 L185.48,344.30 L185.18,344.55 L184.87,344.80 L184.54,345.05 L184.25,345.27 L184.00,345.46 L183.75,345.64 L183.50,345.82 L183.17,346.05 L182.80,346.30 L182.50,346.50 L182.25,346.67 L182.00,346.83 L181.64,347.05 L181.25,347.29 L181.00,347.44 L180.75,347.59 L180.39,347.80 L180.00,348.02 L179.75,348.16 L179.50,348.30 L179.04,348.55 L178.75,348.71 L178.50,348.85 L178.12,349.05 L177.75,349.25 L177.50,349.39 L177.21,349.55 L176.77,349.80 L176.50,349.96 L176.25,350.12 L175.96,350.30 L175.60,350.55 L175.27,350.80 L175.00,351.02 L174.75,351.24 L174.50,351.48 L174.25,351.75 L174.00,352.04 L173.79,352.30 L173.61,352.55 L173.44,352.80 L173.25,353.09 L173.00,353.50 L172.83,353.80 L172.69,354.05 L172.50,354.40 L172.29,354.80 L172.16,355.05 L172.00,355.35 L171.77,355.80 L171.64,356.05 L171.50,356.31 L171.25,356.78 L171.11,357.05 L170.97,357.30 L170.75,357.71 L170.56,358.05 L170.42,358.30 L170.25,358.60 L170.00,359.03 L169.84,359.30 L169.69,359.55 L169.50,359.85 L169.25,360.25 L169.06,360.55 L168.89,360.80 L168.73,361.05 L168.50,361.38 L168.25,361.74 L168.03,362.05 L167.85,362.30 L167.66,362.55 L167.47,362.80 L167.25,363.08 L167.00,363.39 L166.75,363.70 L166.50,363.99 L166.25,364.28 L166.01,364.55 L165.78,364.80 L165.55,365.05 L165.31,365.30 L165.06,365.55 L164.81,365.80 L164.54,366.05 L164.27,366.30 L164.00,366.55 L163.75,366.76 L163.50,366.98 L163.25,367.18 L163.00,367.38 L162.75,367.57 L162.44,367.80 L162.09,368.05 L161.75,368.28 L161.50,368.45 L161.25,368.60 L160.91,368.80 L160.50,369.03 L160.25,369.17 L159.99,369.30 L159.50,369.53 L159.25,369.64 L158.85,369.80 L158.50,369.93 L158.15,370.05 L157.75,370.17 L157.25,370.30 L157.00,370.35 L157.00,370.35Z" fill="none" stroke="#474747" stroke-width="0.6"/>
<path d="M155.75,372.06 L155.25,372.10 L154.75,372.12 L154.25,372.10 L153.75,372.06 L153.50,372.03 L153.00,371.93 L152.50,371.80 L152.25,371.72 L151.80,371.55 L151.50,371.41 L151.25,371.28 L150.86,371.05 L150.50,370.81 L150.25,370.61 L150.00,370.40 L149.75,370.16 L149.50,369.89 L149.25,369.60 L149.03,369.30 L148.85,369.05 L148.70,368.80 L148.50,368.45 L148.30,368.05 L148.19,367.80 L148.00,367.32 L147.90,367.05 L147.76,366.55 L147.69,366.30 L147.58,365.80 L147.50,365.33 L147.46,365.05 L147.40,364.55 L147.37,364.05 L147.35,363.55 L147.35,363.05 L147.37,362.55 L147.40,362.05 L147.45,361.55 L147.50,361.12 L147.54,360.80 L147.62,360.30 L147.72,359.80 L147.78,359.55 L147.89,359.05 L148.00,358.63 L148.09,358.30 L148.24,357.80 L148.31,357.55 L148.48,357.05 L148.57,356.80 L148.75,356.31 L148.85,356.05 L149.00,355.68 L149.16,355.30 L149.27,355.05 L149.50,354.55 L149.62,354.30 L149.75,354.03 L150.00,353.55 L150.13,353.30 L150.26,353.05 L150.50,352.63 L150.69,352.30 L150.84,352.05 L151.00,351.79 L151.25,351.39 L151.47,351.05 L151.64,350.80 L151.81,350.55 L152.00,350.29 L152.25,349.94 L152.50,349.60 L152.73,349.30 L152.93,349.05 L153.13,348.80 L153.34,348.55 L153.55,348.30 L153.77,348.05 L154.00,347.79 L154.25,347.52 L154.50,347.25 L154.75,347.00 L155.00,346.74 L155.25,346.50 L155.50,346.26 L155.75,346.03 L156.00,345.80 L156.29,345.55 L156.58,345.30 L156.88,345.05 L157.20,344.80 L157.50,344.57 L157.75,344.38 L158.00,344.20 L158.25,344.02 L158.58,343.80 L158.96,343.55 L159.25,343.36 L159.50,343.21 L159.77,343.05 L160.21,342.80 L160.50,342.64 L160.75,342.51 L161.18,342.30 L161.50,342.14 L161.75,342.03 L162.25,341.81 L162.50,341.71 L162.90,341.55 L163.25,341.41 L163.56,341.30 L164.00,341.14 L164.27,341.05 L164.75,340.89 L165.02,340.80 L165.50,340.64 L165.78,340.55 L166.25,340.38 L166.50,340.30 L167.00,340.10 L167.25,340.00 L167.71,339.80 L168.00,339.66 L168.25,339.53 L168.66,339.30 L169.00,339.10 L169.25,338.94 L169.50,338.78 L169.83,338.55 L170.17,338.30 L170.50,338.05 L170.75,337.86 L171.00,337.66 L171.25,337.47 L171.50,337.27 L171.77,337.05 L172.08,336.80 L172.39,336.55 L172.70,336.30 L173.00,336.06 L173.25,335.86 L173.50,335.66 L173.75,335.47 L174.00,335.28 L174.30,335.05 L174.63,334.80 L174.98,334.55 L175.25,334.35 L175.50,334.18 L175.75,334.00 L176.05,333.80 L176.43,333.55 L176.75,333.34 L177.00,333.18 L177.25,333.03 L177.62,332.80 L178.00,332.58 L178.25,332.43 L178.50,332.29 L178.95,332.05 L179.25,331.89 L179.50,331.76 L179.93,331.55 L180.25,331.39 L180.50,331.28 L181.00,331.06 L181.25,330.95 L181.61,330.80 L182.00,330.64 L182.26,330.55 L182.75,330.37 L183.00,330.29 L183.50,330.13 L183.78,330.05 L184.25,329.92 L184.74,329.80 L185.00,329.74 L185.50,329.64 L186.00,329.56 L186.25,329.52 L186.75,329.46 L187.25,329.43 L187.75,329.41 L188.25,329.42 L188.75,329.45 L189.25,329.51 L189.50,329.56 L190.00,329.67 L190.43,329.80 L190.75,329.92 L191.03,330.05 L191.48,330.30 L191.75,330.49 L192.00,330.69 L192.25,330.93 L192.50,331.22 L192.73,331.55 L192.87,331.80 L193.00,332.09 L193.16,332.55 L193.25,332.96 L193.30,333.30 L193.33,333.80 L193.31,334.30 L193.26,334.80 L193.21,335.05 L193.11,335.55 L193.00,335.93 L192.89,336.30 L192.75,336.67 L192.60,337.05 L192.49,337.30 L192.25,337.80 L192.12,338.05 L191.99,338.30 L191.75,338.71 L191.55,339.05 L191.39,339.30 L191.23,339.55 L191.00,339.88 L190.75,340.23 L190.51,340.55 L190.32,340.80 L190.12,341.05 L189.92,341.30 L189.71,341.55 L189.49,341.80 L189.25,342.07 L189.00,342.35 L188.75,342.62 L188.50,342.88 L188.25,343.13 L188.00,343.38 L187.75,343.62 L187.50,343.86 L187.25,344.09 L187.00,344.32 L186.74,344.55 L186.46,344.80 L186.17,345.05 L185.87,345.30 L185.57,345.55 L185.26,345.80 L185.00,346.01 L184.75,346.21 L184.50,346.40 L184.25,346.59 L183.96,346.80 L183.63,347.05 L183.28,347.30 L183.00,347.50 L182.75,347.68 L182.50,347.85 L182.21,348.05 L181.85,348.30 L181.50,348.54 L181.25,348.71 L181.00,348.87 L180.73,349.05 L180.35,349.30 L180.00,349.53 L179.75,349.70 L179.50,349.87 L179.22,350.05 L178.85,350.30 L178.50,350.54 L178.25,350.72 L178.00,350.90 L177.75,351.08 L177.46,351.30 L177.14,351.55 L176.84,351.80 L176.55,352.05 L176.27,352.30 L176.01,352.55 L175.77,352.80 L175.53,353.05 L175.31,353.30 L175.10,353.55 L174.90,353.80 L174.70,354.05 L174.50,354.32 L174.25,354.67 L174.00,355.02 L173.82,355.30 L173.65,355.55 L173.49,355.80 L173.25,356.17 L173.01,356.55 L172.85,356.80 L172.69,357.05 L172.50,357.36 L172.25,357.76 L172.07,358.05 L171.92,358.30 L171.75,358.56 L171.50,358.96 L171.28,359.30 L171.12,359.55 L170.96,359.80 L170.75,360.12 L170.50,360.50 L170.30,360.80 L170.13,361.05 L169.96,361.30 L169.75,361.60 L169.50,361.95 L169.25,362.30 L169.07,362.55 L168.88,362.80 L168.69,363.05 L168.50,363.30 L168.25,363.62 L168.00,363.93 L167.75,364.24 L167.50,364.54 L167.28,364.80 L167.06,365.05 L166.84,365.30 L166.61,365.55 L166.38,365.80 L166.14,366.05 L165.90,366.30 L165.65,366.55 L165.40,366.80 L165.14,367.05 L164.87,367.30 L164.59,367.55 L164.31,367.80 L164.02,368.05 L163.75,368.27 L163.50,368.48 L163.25,368.67 L163.00,368.86 L162.74,369.05 L162.39,369.30 L162.03,369.55 L161.75,369.73 L161.50,369.89 L161.24,370.05 L160.81,370.30 L160.50,370.48 L160.25,370.61 L159.86,370.80 L159.50,370.97 L159.25,371.08 L158.75,371.29 L158.50,371.39 L158.02,371.55 L157.75,371.64 L157.25,371.78 L157.00,371.84 L156.50,371.95 L156.00,372.03 L155.75,372.06 L155.75,372.06Z" fill="none" stroke="#474747" stroke-width="0.6"/>
<path d="M155.75,373.58 L155.25,373.65 L154.75,373.69 L154.25,373.71 L153.75,373.70 L153.25,373.66 L152.75,373.60 L152.49,373.55 L152.00,373.44 L151.52,373.30 L151.25,373.21 L150.87,373.05 L150.50,372.88 L150.25,372.75 L149.92,372.55 L149.55,372.30 L149.25,372.07 L149.00,371.86 L148.75,371.63 L148.50,371.38 L148.25,371.09 L148.01,370.80 L147.83,370.55 L147.66,370.30 L147.50,370.05 L147.25,369.61 L147.09,369.30 L146.98,369.05 L146.77,368.55 L146.68,368.30 L146.52,367.80 L146.45,367.55 L146.32,367.05 L146.25,366.69 L146.18,366.30 L146.11,365.80 L146.05,365.30 L146.02,364.80 L146.00,364.30 L146.00,364.05 L146.00,363.80 L146.01,363.30 L146.04,362.80 L146.08,362.30 L146.13,361.80 L146.20,361.30 L146.25,360.98 L146.32,360.55 L146.42,360.05 L146.50,359.70 L146.59,359.30 L146.72,358.80 L146.79,358.55 L146.93,358.05 L147.01,357.80 L147.17,357.30 L147.26,357.05 L147.43,356.55 L147.53,356.30 L147.72,355.80 L147.83,355.55 L148.00,355.14 L148.15,354.80 L148.26,354.55 L148.50,354.05 L148.62,353.80 L148.75,353.55 L149.00,353.06 L149.14,352.80 L149.28,352.55 L149.50,352.16 L149.71,351.80 L149.86,351.55 L150.01,351.30 L150.25,350.92 L150.49,350.55 L150.65,350.30 L150.82,350.05 L151.00,349.80 L151.25,349.45 L151.50,349.11 L151.73,348.80 L151.92,348.55 L152.12,348.30 L152.32,348.05 L152.53,347.80 L152.75,347.53 L153.00,347.24 L153.25,346.96 L153.50,346.68 L153.75,346.41 L154.00,346.15 L154.25,345.89 L154.50,345.64 L154.75,345.40 L155.00,345.16 L155.25,344.93 L155.50,344.70 L155.75,344.48 L156.00,344.26 L156.25,344.05 L156.56,343.80 L156.87,343.55 L157.19,343.30 L157.50,343.07 L157.75,342.88 L158.00,342.71 L158.25,342.53 L158.60,342.30 L158.98,342.05 L159.25,341.88 L159.50,341.73 L159.80,341.55 L160.24,341.30 L160.50,341.16 L160.75,341.03 L161.19,340.80 L161.50,340.64 L161.75,340.53 L162.24,340.30 L162.50,340.18 L162.82,340.05 L163.25,339.87 L163.50,339.77 L164.00,339.57 L164.25,339.48 L164.73,339.30 L165.00,339.20 L165.40,339.05 L165.75,338.92 L166.06,338.80 L166.50,338.63 L166.75,338.52 L167.25,338.31 L167.50,338.20 L167.81,338.05 L168.25,337.83 L168.50,337.70 L168.77,337.55 L169.19,337.30 L169.50,337.11 L169.75,336.95 L170.00,336.79 L170.36,336.55 L170.72,336.30 L171.00,336.10 L171.25,335.93 L171.50,335.75 L171.77,335.55 L172.12,335.30 L172.46,335.05 L172.75,334.84 L173.00,334.66 L173.25,334.48 L173.50,334.30 L173.86,334.05 L174.21,333.80 L174.50,333.60 L174.75,333.43 L175.00,333.26 L175.32,333.05 L175.71,332.80 L176.00,332.61 L176.25,332.46 L176.51,332.30 L176.92,332.05 L177.25,331.85 L177.50,331.71 L177.78,331.55 L178.23,331.30 L178.50,331.15 L178.75,331.02 L179.19,330.80 L179.50,330.64 L179.75,330.52 L180.22,330.30 L180.50,330.17 L180.77,330.05 L181.25,329.84 L181.50,329.74 L181.99,329.55 L182.25,329.45 L182.66,329.30 L183.00,329.18 L183.40,329.05 L183.75,328.94 L184.24,328.80 L184.50,328.72 L185.00,328.60 L185.25,328.54 L185.75,328.43 L186.25,328.34 L186.51,328.30 L187.00,328.23 L187.50,328.17 L188.00,328.14 L188.50,328.12 L189.00,328.12 L189.50,328.14 L190.00,328.19 L190.50,328.27 L190.75,328.32 L191.25,328.44 L191.59,328.55 L192.00,328.70 L192.25,328.82 L192.69,329.05 L193.00,329.25 L193.25,329.44 L193.50,329.66 L193.75,329.91 L194.00,330.22 L194.22,330.55 L194.37,330.80 L194.50,331.09 L194.67,331.55 L194.75,331.85 L194.84,332.30 L194.89,332.80 L194.90,333.30 L194.87,333.80 L194.80,334.30 L194.75,334.57 L194.65,335.05 L194.51,335.55 L194.43,335.80 L194.25,336.29 L194.15,336.55 L194.00,336.91 L193.82,337.30 L193.70,337.55 L193.50,337.94 L193.31,338.30 L193.16,338.55 L193.00,338.82 L192.75,339.22 L192.54,339.55 L192.37,339.80 L192.20,340.05 L192.00,340.32 L191.75,340.66 L191.50,340.99 L191.26,341.30 L191.05,341.55 L190.85,341.80 L190.64,342.05 L190.42,342.30 L190.20,342.55 L189.97,342.80 L189.74,343.05 L189.50,343.30 L189.25,343.56 L189.00,343.82 L188.75,344.07 L188.50,344.31 L188.25,344.55 L187.99,344.80 L187.72,345.05 L187.45,345.30 L187.18,345.55 L186.90,345.80 L186.61,346.05 L186.32,346.30 L186.03,346.55 L185.75,346.78 L185.50,346.99 L185.25,347.20 L185.00,347.41 L184.75,347.61 L184.50,347.81 L184.20,348.05 L183.88,348.30 L183.57,348.55 L183.25,348.80 L183.00,349.00 L182.75,349.19 L182.50,349.39 L182.25,349.58 L181.97,349.80 L181.65,350.05 L181.33,350.30 L181.01,350.55 L180.75,350.76 L180.50,350.96 L180.25,351.16 L180.00,351.37 L179.75,351.57 L179.48,351.80 L179.18,352.05 L178.90,352.30 L178.62,352.55 L178.34,352.80 L178.07,353.05 L177.81,353.30 L177.55,353.55 L177.30,353.80 L177.06,354.05 L176.82,354.30 L176.59,354.55 L176.36,354.80 L176.14,355.05 L175.92,355.30 L175.71,355.55 L175.50,355.80 L175.25,356.10 L175.00,356.42 L174.75,356.73 L174.51,357.05 L174.32,357.30 L174.13,357.55 L173.94,357.80 L173.75,358.06 L173.50,358.40 L173.25,358.75 L173.04,359.05 L172.86,359.30 L172.68,359.55 L172.50,359.80 L172.25,360.15 L172.00,360.50 L171.79,360.80 L171.61,361.05 L171.43,361.30 L171.24,361.55 L171.00,361.89 L170.75,362.23 L170.51,362.55 L170.32,362.80 L170.14,363.05 L169.94,363.30 L169.75,363.55 L169.50,363.87 L169.25,364.18 L169.00,364.49 L168.75,364.79 L168.54,365.05 L168.33,365.30 L168.11,365.55 L167.89,365.80 L167.67,366.05 L167.44,366.30 L167.21,366.55 L166.98,366.80 L166.74,367.05 L166.49,367.30 L166.24,367.55 L165.99,367.80 L165.73,368.05 L165.46,368.30 L165.19,368.55 L164.91,368.80 L164.62,369.05 L164.33,369.30 L164.02,369.55 L163.75,369.77 L163.50,369.96 L163.25,370.15 L163.00,370.33 L162.70,370.55 L162.34,370.80 L162.00,371.02 L161.75,371.19 L161.50,371.34 L161.15,371.55 L160.75,371.78 L160.50,371.92 L160.24,372.05 L159.75,372.29 L159.50,372.41 L159.19,372.55 L158.75,372.74 L158.50,372.83 L158.00,373.02 L157.75,373.10 L157.25,373.25 L157.00,373.32 L156.50,373.44 L156.00,373.54 L155.75,373.58 L155.75,373.58Z" fill="none" stroke="#474747" stroke-width="0.6"/>
<path d="M155.75,375.09 L155.25,375.17 L154.75,375.23 L154.25,375.27 L153.75,375.29 L153.25,375.29 L152.75,375.26 L152.25,375.21 L151.75,375.12 L151.42,375.05 L151.00,374.94 L150.56,374.80 L150.25,374.69 L149.93,374.55 L149.50,374.34 L149.25,374.21 L148.98,374.05 L148.61,373.80 L148.27,373.55 L148.00,373.33 L147.75,373.10 L147.50,372.86 L147.25,372.59 L147.00,372.30 L146.80,372.05 L146.62,371.80 L146.45,371.55 L146.25,371.23 L146.01,370.80 L145.88,370.55 L145.75,370.27 L145.55,369.80 L145.45,369.55 L145.28,369.05 L145.20,368.80 L145.06,368.30 L145.00,368.03 L144.90,367.55 L144.81,367.05 L144.75,366.60 L144.71,366.30 L144.67,365.80 L144.64,365.30 L144.63,364.80 L144.63,364.30 L144.65,363.80 L144.68,363.30 L144.72,362.80 L144.75,362.53 L144.80,362.05 L144.87,361.55 L144.96,361.05 L145.01,360.80 L145.10,360.30 L145.22,359.80 L145.28,359.55 L145.40,359.05 L145.50,358.71 L145.61,358.30 L145.75,357.87 L145.85,357.55 L146.00,357.11 L146.11,356.80 L146.25,356.42 L146.39,356.05 L146.50,355.77 L146.69,355.30 L146.80,355.05 L147.00,354.60 L147.13,354.30 L147.25,354.05 L147.50,353.55 L147.62,353.30 L147.75,353.05 L148.00,352.57 L148.14,352.30 L148.28,352.05 L148.50,351.67 L148.72,351.30 L148.87,351.05 L149.02,350.80 L149.25,350.44 L149.50,350.05 L149.66,349.80 L149.83,349.55 L150.00,349.30 L150.25,348.95 L150.50,348.60 L150.72,348.30 L150.91,348.05 L151.10,347.80 L151.30,347.55 L151.50,347.30 L151.75,347.00 L152.00,346.70 L152.25,346.40 L152.50,346.12 L152.75,345.84 L153.00,345.57 L153.25,345.30 L153.49,345.05 L153.74,344.80 L153.99,344.55 L154.25,344.30 L154.50,344.06 L154.75,343.82 L155.00,343.59 L155.25,343.37 L155.50,343.15 L155.75,342.94 L156.00,342.73 L156.25,342.52 L156.53,342.30 L156.85,342.05 L157.18,341.80 L157.50,341.57 L157.75,341.38 L158.00,341.21 L158.25,341.04 L158.61,340.80 L159.00,340.55 L159.25,340.39 L159.50,340.24 L159.82,340.05 L160.25,339.80 L160.50,339.66 L160.75,339.53 L161.18,339.30 L161.50,339.13 L161.75,339.01 L162.19,338.80 L162.50,338.65 L162.75,338.54 L163.25,338.32 L163.50,338.21 L163.88,338.05 L164.25,337.90 L164.50,337.80 L165.00,337.59 L165.25,337.49 L165.72,337.30 L166.00,337.18 L166.32,337.05 L166.75,336.87 L167.00,336.76 L167.46,336.55 L167.75,336.41 L168.00,336.29 L168.48,336.05 L168.75,335.91 L169.00,335.77 L169.39,335.55 L169.75,335.34 L170.00,335.19 L170.25,335.04 L170.64,334.80 L171.00,334.57 L171.25,334.41 L171.50,334.25 L171.80,334.05 L172.18,333.80 L172.50,333.59 L172.75,333.43 L173.00,333.26 L173.33,333.05 L173.71,332.80 L174.00,332.61 L174.25,332.45 L174.50,332.30 L174.89,332.05 L175.25,331.83 L175.50,331.67 L175.75,331.53 L176.13,331.30 L176.50,331.08 L176.75,330.94 L177.00,330.80 L177.45,330.55 L177.75,330.39 L178.00,330.25 L178.40,330.05 L178.75,329.87 L179.00,329.74 L179.40,329.55 L179.75,329.38 L180.00,329.27 L180.49,329.05 L180.75,328.93 L181.08,328.80 L181.50,328.62 L181.75,328.53 L182.25,328.33 L182.50,328.24 L183.00,328.07 L183.25,327.98 L183.75,327.82 L184.00,327.74 L184.50,327.60 L184.75,327.53 L185.25,327.40 L185.69,327.30 L186.00,327.23 L186.50,327.13 L186.98,327.05 L187.25,327.01 L187.75,326.94 L188.25,326.89 L188.75,326.85 L189.25,326.84 L189.75,326.83 L190.25,326.85 L190.75,326.89 L191.25,326.95 L191.75,327.04 L192.00,327.10 L192.50,327.23 L192.75,327.31 L193.25,327.50 L193.50,327.61 L193.86,327.80 L194.25,328.04 L194.50,328.22 L194.75,328.43 L195.00,328.66 L195.25,328.93 L195.50,329.25 L195.70,329.55 L195.84,329.80 L196.00,330.13 L196.16,330.55 L196.25,330.86 L196.35,331.30 L196.42,331.80 L196.45,332.30 L196.44,332.80 L196.40,333.30 L196.33,333.80 L196.25,334.19 L196.17,334.55 L196.03,335.05 L195.96,335.30 L195.78,335.80 L195.69,336.05 L195.50,336.51 L195.38,336.80 L195.25,337.07 L195.02,337.55 L194.89,337.80 L194.75,338.05 L194.50,338.49 L194.32,338.80 L194.17,339.05 L194.00,339.31 L193.75,339.70 L193.51,340.05 L193.34,340.30 L193.16,340.55 L192.97,340.80 L192.75,341.10 L192.50,341.42 L192.25,341.74 L192.00,342.04 L191.79,342.30 L191.58,342.55 L191.36,342.80 L191.14,343.05 L190.92,343.30 L190.69,343.55 L190.46,343.80 L190.22,344.05 L189.99,344.30 L189.74,344.55 L189.50,344.80 L189.25,345.05 L189.00,345.30 L188.75,345.55 L188.49,345.80 L188.23,346.05 L187.97,346.30 L187.70,346.55 L187.43,346.80 L187.17,347.05 L186.89,347.30 L186.62,347.55 L186.35,347.80 L186.07,348.05 L185.79,348.30 L185.51,348.55 L185.25,348.79 L185.00,349.01 L184.75,349.24 L184.50,349.46 L184.25,349.69 L184.00,349.91 L183.75,350.14 L183.50,350.37 L183.25,350.59 L183.00,350.82 L182.75,351.05 L182.48,351.30 L182.21,351.55 L181.94,351.80 L181.67,352.05 L181.41,352.30 L181.14,352.55 L180.88,352.80 L180.62,353.05 L180.36,353.30 L180.10,353.55 L179.84,353.80 L179.59,354.05 L179.33,354.30 L179.08,354.55 L178.83,354.80 L178.58,355.05 L178.33,355.30 L178.08,355.55 L177.83,355.80 L177.59,356.05 L177.35,356.30 L177.11,356.55 L176.87,356.80 L176.64,357.05 L176.41,357.30 L176.18,357.55 L175.95,357.80 L175.72,358.05 L175.50,358.30 L175.25,358.59 L175.00,358.88 L174.75,359.17 L174.50,359.47 L174.25,359.77 L174.02,360.05 L173.82,360.30 L173.62,360.55 L173.42,360.80 L173.22,361.05 L173.00,361.32 L172.75,361.64 L172.50,361.96 L172.25,362.27 L172.03,362.55 L171.84,362.80 L171.64,363.05 L171.44,363.30 L171.24,363.55 L171.00,363.85 L170.75,364.17 L170.50,364.47 L170.25,364.78 L170.03,365.05 L169.82,365.30 L169.61,365.55 L169.40,365.80 L169.18,366.05 L168.96,366.30 L168.74,366.55 L168.50,366.82 L168.25,367.09 L168.00,367.36 L167.75,367.63 L167.50,367.89 L167.25,368.14 L167.00,368.40 L166.75,368.64 L166.50,368.89 L166.25,369.12 L166.00,369.36 L165.75,369.59 L165.50,369.81 L165.23,370.05 L164.93,370.30 L164.64,370.55 L164.33,370.80 L164.01,371.05 L163.75,371.25 L163.50,371.44 L163.25,371.62 L163.00,371.80 L162.64,372.05 L162.27,372.30 L162.00,372.48 L161.75,372.63 L161.47,372.80 L161.05,373.05 L160.75,373.22 L160.50,373.35 L160.12,373.55 L159.75,373.74 L159.50,373.85 L159.06,374.05 L158.75,374.18 L158.45,374.30 L158.00,374.47 L157.75,374.55 L157.25,374.72 L156.96,374.80 L156.50,374.92 L156.00,375.04 L155.75,375.09 L155.75,375.09Z" fill="none" stroke="#474747" stroke-width="0.6"/>
<path d="M285.40,363.38 L284.90,363.41 L284.64,363.35 L284.25,363.10 L284.05,362.85 L283.90,362.51 L283.81,362.10 L283.80,361.60 L283.87,361.10 L283.93,360.85 L284.10,360.35 L284.21,360.10 L284.40,359.73 L284.64,359.35 L284.84,359.10 L285.07,358.85 L285.34,358.60 L285.65,358.37 L285.90,358.23 L286.20,358.10 L286.65,358.01 L287.15,358.09 L287.40,358.23 L287.65,358.48 L287.84,358.85 L287.92,359.10 L287.97,359.60 L287.94,360.10 L287.89,360.35 L287.75,360.85 L287.65,361.13 L287.42,361.60 L287.27,361.85 L287.10,362.10 L286.90,362.36 L286.65,362.63 L286.40,362.86 L286.05,363.10 L285.65,363.30 L285.40,363.38 L285.40,363.38Z" fill="none" stroke="#474747" stroke-width="0.6"/>
<path d="M284.65,365.11 L284.37,365.10 L283.90,365.00 L283.58,364.85 L283.25,364.60 L283.03,364.35 L282.87,364.10 L282.66,363.60 L282.59,363.35 L282.51,362.85 L282.50,362.35 L282.53,361.85 L282.61,361.35 L282.66,361.10 L282.81,360.60 L282.90,360.33 L283.10,359.85 L283.21,359.60 L283.40,359.24 L283.63,358.85 L283.80,358.60 L283.98,358.35 L284.18,358.10 L284.40,357.85 L284.65,357.59 L284.91,357.35 L285.22,357.10 L285.58,356.85 L285.90,356.67 L286.15,356.55 L286.65,356.38 L286.90,356.33 L287.40,356.31 L287.66,356.35 L288.15,356.53 L288.40,356.69 L288.65,356.93 L288.90,357.28 L289.05,357.60 L289.15,357.89 L289.25,358.35 L289.28,358.85 L289.27,359.35 L289.21,359.85 L289.15,360.15 L289.04,360.60 L288.90,361.02 L288.77,361.35 L288.65,361.63 L288.42,362.10 L288.27,362.35 L288.12,362.60 L287.90,362.93 L287.65,363.25 L287.40,363.55 L287.15,363.81 L286.90,364.04 L286.65,364.25 L286.40,364.44 L286.15,364.60 L285.67,364.85 L285.40,364.96 L284.90,365.08 L284.65,365.11 L284.65,365.11Z" fill="none" stroke="#474747" stroke-width="0.6"/>
<path d="M285.15,366.61 L284.65,366.73 L284.15,366.79 L283.65,366.77 L283.15,366.65 L282.90,366.55 L282.56,366.35 L282.25,366.10 L282.02,365.85 L281.84,365.60 L281.65,365.27 L281.47,364.85 L281.39,364.60 L281.28,364.10 L281.22,363.60 L281.20,363.10 L281.22,362.60 L281.27,362.10 L281.35,361.60 L281.41,361.35 L281.54,360.85 L281.65,360.49 L281.79,360.10 L281.90,359.81 L282.10,359.35 L282.22,359.10 L282.40,358.76 L282.64,358.35 L282.79,358.10 L282.96,357.85 L283.15,357.58 L283.40,357.25 L283.65,356.95 L283.90,356.67 L284.15,356.41 L284.40,356.17 L284.65,355.95 L284.90,355.75 L285.15,355.57 L285.48,355.35 L285.90,355.11 L286.15,354.99 L286.49,354.85 L286.90,354.72 L287.40,354.62 L287.90,354.60 L288.40,354.66 L288.90,354.83 L289.15,354.96 L289.40,355.13 L289.65,355.36 L289.90,355.66 L290.15,356.07 L290.28,356.35 L290.40,356.69 L290.50,357.10 L290.58,357.60 L290.61,358.10 L290.60,358.60 L290.56,359.10 L290.49,359.60 L290.40,360.01 L290.32,360.35 L290.17,360.85 L290.08,361.10 L289.90,361.58 L289.78,361.85 L289.65,362.14 L289.41,362.60 L289.28,362.85 L289.13,363.10 L288.90,363.46 L288.65,363.82 L288.44,364.10 L288.23,364.35 L288.02,364.60 L287.78,364.85 L287.53,365.10 L287.26,365.35 L286.96,365.60 L286.65,365.83 L286.40,366.00 L286.15,366.15 L285.78,366.35 L285.40,366.52 L285.15,366.61 L285.15,366.61Z" fill="none" stroke="#474747" stroke-width="0.6"/>
<path d="M284.40,368.38 L283.90,368.46 L283.40,368.47 L282.90,368.42 L282.59,368.35 L282.15,368.20 L281.90,368.07 L281.56,367.85 L281.26,367.60 L281.02,367.35 L280.82,367.10 L280.65,366.85 L280.40,366.37 L280.29,366.10 L280.15,365.69 L280.06,365.35 L279.97,364.85 L279.92,364.35 L279.90,363.91 L279.90,363.60 L279.91,363.35 L279.95,362.85 L280.01,362.35 L280.10,361.85 L280.15,361.60 L280.27,361.10 L280.40,360.66 L280.50,360.35 L280.65,359.93 L280.78,359.60 L280.90,359.31 L281.11,358.85 L281.23,358.60 L281.40,358.28 L281.64,357.85 L281.79,357.60 L281.95,357.35 L282.15,357.04 L282.40,356.69 L282.65,356.36 L282.86,356.10 L283.07,355.85 L283.29,355.60 L283.53,355.35 L283.78,355.10 L284.05,354.85 L284.34,354.60 L284.65,354.35 L284.90,354.16 L285.15,353.99 L285.40,353.83 L285.80,353.60 L286.15,353.42 L286.40,353.31 L286.90,353.12 L287.15,353.05 L287.65,352.94 L288.15,352.88 L288.65,352.88 L289.15,352.96 L289.62,353.10 L289.90,353.22 L290.15,353.37 L290.47,353.60 L290.74,353.85 L290.96,354.10 L291.15,354.36 L291.40,354.80 L291.53,355.10 L291.65,355.42 L291.77,355.85 L291.87,356.35 L291.90,356.60 L291.95,357.10 L291.95,357.60 L291.93,358.10 L291.90,358.48 L291.85,358.85 L291.77,359.35 L291.66,359.85 L291.60,360.10 L291.46,360.60 L291.38,360.85 L291.21,361.35 L291.11,361.60 L290.90,362.10 L290.79,362.35 L290.65,362.65 L290.42,363.10 L290.28,363.35 L290.13,363.60 L289.90,363.98 L289.66,364.35 L289.48,364.60 L289.30,364.85 L289.10,365.10 L288.90,365.35 L288.65,365.64 L288.40,365.91 L288.15,366.17 L287.90,366.41 L287.65,366.63 L287.40,366.85 L287.08,367.10 L286.73,367.35 L286.40,367.56 L286.15,367.71 L285.88,367.85 L285.40,368.07 L285.15,368.17 L284.65,368.33 L284.40,368.38 L284.40,368.38Z" fill="none" stroke="#474747" stroke-width="0.6"/>
<path d="M283.65,370.12 L283.15,370.16 L282.65,370.15 L282.30,370.10 L281.90,370.02 L281.41,369.85 L281.15,369.73 L280.90,369.59 L280.55,369.35 L280.26,369.10 L280.02,368.85 L279.81,368.60 L279.63,368.35 L279.40,367.98 L279.21,367.60 L279.11,367.35 L278.93,366.85 L278.86,366.60 L278.75,366.10 L278.67,365.60 L278.64,365.35 L278.61,364.85 L278.60,364.35 L278.62,363.85 L278.65,363.40 L278.68,363.10 L278.75,362.60 L278.84,362.10 L278.90,361.81 L279.01,361.35 L279.15,360.85 L279.22,360.60 L279.39,360.10 L279.48,359.85 L279.65,359.40 L279.77,359.10 L279.90,358.82 L280.12,358.35 L280.24,358.10 L280.40,357.79 L280.65,357.35 L280.79,357.10 L280.94,356.85 L281.15,356.53 L281.40,356.15 L281.61,355.85 L281.80,355.60 L281.99,355.35 L282.19,355.10 L282.40,354.85 L282.65,354.57 L282.90,354.30 L283.15,354.04 L283.40,353.80 L283.65,353.57 L283.90,353.35 L284.20,353.10 L284.52,352.85 L284.87,352.60 L285.15,352.41 L285.40,352.25 L285.67,352.10 L286.14,351.85 L286.40,351.73 L286.71,351.60 L287.15,351.44 L287.44,351.35 L287.90,351.24 L288.40,351.16 L288.90,351.13 L289.40,351.15 L289.90,351.22 L290.37,351.35 L290.65,351.46 L290.94,351.60 L291.34,351.85 L291.65,352.09 L291.90,352.33 L292.13,352.60 L292.32,352.85 L292.48,353.10 L292.65,353.42 L292.84,353.85 L292.93,354.10 L293.08,354.60 L293.15,354.89 L293.23,355.35 L293.29,355.85 L293.32,356.35 L293.32,356.85 L293.30,357.35 L293.26,357.85 L293.20,358.35 L293.15,358.67 L293.07,359.10 L292.96,359.60 L292.90,359.85 L292.76,360.35 L292.65,360.72 L292.52,361.10 L292.40,361.44 L292.24,361.85 L292.14,362.10 L291.92,362.60 L291.81,362.85 L291.65,363.17 L291.42,363.60 L291.29,363.85 L291.14,364.10 L290.90,364.50 L290.68,364.85 L290.51,365.10 L290.34,365.35 L290.15,365.61 L289.90,365.94 L289.65,366.25 L289.40,366.55 L289.15,366.83 L288.90,367.10 L288.65,367.35 L288.40,367.59 L288.15,367.82 L287.90,368.04 L287.65,368.25 L287.40,368.44 L287.15,368.63 L286.83,368.85 L286.43,369.10 L286.15,369.26 L285.90,369.39 L285.46,369.60 L285.15,369.73 L284.82,369.85 L284.40,369.98 L283.90,370.08 L283.65,370.12 L283.65,370.12Z" fill="none" stroke="#474747" stroke-width="0.6"/>
<path d="M284.15,371.63 L283.65,371.74 L283.15,371.81 L282.65,371.84 L282.15,371.83 L281.65,371.78 L281.15,371.66 L280.90,371.59 L280.40,371.38 L280.15,371.25 L279.90,371.10 L279.55,370.85 L279.26,370.60 L279.02,370.35 L278.80,370.10 L278.61,369.85 L278.40,369.54 L278.15,369.10 L278.03,368.85 L277.90,368.53 L277.74,368.10 L277.65,367.79 L277.54,367.35 L277.44,366.85 L277.40,366.58 L277.35,366.10 L277.31,365.60 L277.30,365.10 L277.31,364.60 L277.34,364.10 L277.39,363.60 L277.42,363.35 L277.49,362.85 L277.58,362.35 L277.65,362.03 L277.75,361.60 L277.88,361.10 L277.95,360.85 L278.11,360.35 L278.19,360.10 L278.37,359.60 L278.46,359.35 L278.65,358.89 L278.77,358.60 L278.90,358.32 L279.12,357.85 L279.25,357.60 L279.40,357.31 L279.65,356.85 L279.79,356.60 L279.94,356.35 L280.15,356.01 L280.40,355.63 L280.59,355.35 L280.76,355.10 L280.94,354.85 L281.15,354.58 L281.40,354.26 L281.65,353.95 L281.90,353.66 L282.15,353.38 L282.40,353.11 L282.65,352.86 L282.90,352.61 L283.15,352.37 L283.40,352.15 L283.65,351.93 L283.90,351.73 L284.15,351.53 L284.40,351.34 L284.74,351.10 L285.12,350.85 L285.40,350.67 L285.65,350.53 L285.98,350.35 L286.40,350.14 L286.65,350.03 L287.09,349.85 L287.40,349.74 L287.87,349.60 L288.15,349.53 L288.65,349.43 L289.15,349.37 L289.60,349.35 L289.71,349.35 L290.15,349.37 L290.65,349.44 L291.15,349.55 L291.40,349.64 L291.90,349.85 L292.15,349.98 L292.40,350.14 L292.69,350.35 L292.97,350.60 L293.22,350.85 L293.43,351.10 L293.65,351.41 L293.90,351.83 L294.04,352.10 L294.15,352.35 L294.33,352.85 L294.41,353.10 L294.54,353.60 L294.63,354.10 L294.66,354.35 L294.71,354.85 L294.74,355.35 L294.74,355.85 L294.73,356.35 L294.70,356.85 L294.65,357.30 L294.61,357.60 L294.54,358.10 L294.45,358.60 L294.39,358.85 L294.28,359.35 L294.15,359.85 L294.08,360.10 L293.93,360.60 L293.85,360.85 L293.68,361.35 L293.58,361.60 L293.40,362.06 L293.28,362.35 L293.15,362.65 L292.95,363.10 L292.83,363.35 L292.65,363.70 L292.44,364.10 L292.30,364.35 L292.15,364.62 L291.90,365.04 L291.71,365.35 L291.54,365.60 L291.38,365.85 L291.15,366.17 L290.90,366.52 L290.65,366.85 L290.45,367.10 L290.24,367.35 L290.03,367.60 L289.81,367.85 L289.58,368.10 L289.34,368.35 L289.09,368.60 L288.83,368.85 L288.56,369.10 L288.27,369.35 L287.96,369.60 L287.65,369.84 L287.40,370.03 L287.15,370.20 L286.90,370.37 L286.53,370.60 L286.15,370.82 L285.90,370.95 L285.59,371.10 L285.15,371.29 L284.90,371.39 L284.40,371.56 L284.15,371.63 L284.15,371.63Z" fill="none" stroke="#474747" stroke-width="0.6"/>
<path d="M283.40,373.39 L282.90,373.48 L282.40,373.52 L281.90,373.53 L281.40,373.50 L280.90,373.43 L280.54,373.35 L280.15,373.23 L279.80,373.10 L279.40,372.91 L279.15,372.77 L278.89,372.60 L278.55,372.35 L278.27,372.10 L278.02,371.85 L277.79,371.60 L277.59,371.35 L277.40,371.08 L277.15,370.67 L276.98,370.35 L276.85,370.10 L276.65,369.61 L276.55,369.35 L276.40,368.85 L276.33,368.60 L276.22,368.10 L276.15,367.69 L276.10,367.35 L276.05,366.85 L276.01,366.35 L276.00,365.85 L276.01,365.35 L276.03,364.85 L276.07,364.35 L276.12,363.85 L276.16,363.60 L276.23,363.10 L276.32,362.60 L276.40,362.23 L276.49,361.85 L276.61,361.35 L276.68,361.10 L276.83,360.60 L276.91,360.35 L277.07,359.85 L277.17,359.60 L277.35,359.10 L277.45,358.85 L277.65,358.38 L277.77,358.10 L277.90,357.83 L278.13,357.35 L278.25,357.10 L278.40,356.82 L278.65,356.36 L278.79,356.10 L278.94,355.85 L279.15,355.50 L279.40,355.11 L279.57,354.85 L279.73,354.60 L279.91,354.35 L280.15,354.01 L280.40,353.68 L280.65,353.36 L280.86,353.10 L281.06,352.85 L281.28,352.60 L281.50,352.35 L281.73,352.10 L281.96,351.85 L282.21,351.60 L282.46,351.35 L282.73,351.10 L283.01,350.85 L283.29,350.60 L283.59,350.35 L283.90,350.11 L284.15,349.92 L284.40,349.73 L284.65,349.56 L284.97,349.35 L285.37,349.10 L285.65,348.93 L285.90,348.80 L286.28,348.60 L286.65,348.42 L286.90,348.31 L287.40,348.11 L287.65,348.02 L288.15,347.86 L288.40,347.79 L288.90,347.68 L289.35,347.60 L289.65,347.56 L290.15,347.52 L290.65,347.51 L291.15,347.54 L291.58,347.60 L291.90,347.66 L292.40,347.79 L292.65,347.88 L293.15,348.09 L293.40,348.22 L293.65,348.37 L293.99,348.60 L294.29,348.85 L294.55,349.10 L294.78,349.35 L294.98,349.60 L295.15,349.85 L295.40,350.27 L295.57,350.60 L295.67,350.85 L295.85,351.35 L295.93,351.60 L296.05,352.10 L296.14,352.60 L296.18,352.85 L296.23,353.35 L296.26,353.85 L296.27,354.35 L296.27,354.85 L296.24,355.35 L296.21,355.85 L296.15,356.35 L296.12,356.60 L296.05,357.10 L295.97,357.60 L295.90,357.93 L295.82,358.35 L295.70,358.85 L295.64,359.10 L295.50,359.60 L295.40,359.95 L295.28,360.35 L295.15,360.74 L295.03,361.10 L294.90,361.45 L294.75,361.85 L294.65,362.10 L294.44,362.60 L294.33,362.85 L294.15,363.25 L293.98,363.60 L293.86,363.85 L293.65,364.26 L293.47,364.60 L293.33,364.85 L293.15,365.17 L292.90,365.59 L292.74,365.85 L292.58,366.10 L292.40,366.37 L292.15,366.74 L291.90,367.10 L291.72,367.35 L291.53,367.60 L291.33,367.85 L291.13,368.10 L290.90,368.38 L290.65,368.67 L290.40,368.95 L290.15,369.23 L289.90,369.49 L289.65,369.74 L289.40,369.98 L289.15,370.21 L288.90,370.44 L288.65,370.65 L288.40,370.86 L288.10,371.10 L287.77,371.35 L287.41,371.60 L287.15,371.78 L286.90,371.94 L286.63,372.10 L286.19,372.35 L285.90,372.51 L285.65,372.63 L285.15,372.85 L284.90,372.95 L284.49,373.10 L284.15,373.21 L283.65,373.34 L283.40,373.39 L283.40,373.39Z" fill="none" stroke="#474747" stroke-width="0.6"/>
<path d="M282.65,375.14 L282.15,375.20 L281.65,375.22 L281.15,375.22 L280.65,375.17 L280.22,375.10 L279.90,375.03 L279.40,374.89 L279.15,374.79 L278.71,374.60 L278.40,374.44 L278.15,374.29 L277.87,374.10 L277.55,373.85 L277.27,373.60 L277.01,373.35 L276.79,373.10 L276.58,372.85 L276.39,372.60 L276.15,372.23 L275.93,371.85 L275.79,371.60 L275.65,371.30 L275.46,370.85 L275.37,370.60 L275.20,370.10 L275.13,369.85 L275.01,369.35 L274.91,368.85 L274.87,368.60 L274.80,368.10 L274.75,367.60 L274.72,367.10 L274.70,366.60 L274.70,366.10 L274.72,365.60 L274.75,365.10 L274.80,364.60 L274.86,364.10 L274.90,363.80 L274.97,363.35 L275.06,362.85 L275.15,362.43 L275.22,362.10 L275.35,361.60 L275.41,361.35 L275.55,360.85 L275.65,360.54 L275.79,360.10 L275.90,359.78 L276.05,359.35 L276.15,359.09 L276.34,358.60 L276.44,358.35 L276.65,357.87 L276.77,357.60 L276.90,357.33 L277.13,356.85 L277.25,356.60 L277.40,356.32 L277.65,355.86 L277.79,355.60 L277.94,355.35 L278.15,354.99 L278.39,354.60 L278.55,354.35 L278.71,354.10 L278.90,353.82 L279.15,353.46 L279.40,353.11 L279.59,352.85 L279.78,352.60 L279.98,352.35 L280.18,352.10 L280.40,351.83 L280.65,351.54 L280.90,351.25 L281.15,350.98 L281.40,350.71 L281.65,350.46 L281.90,350.21 L282.15,349.96 L282.40,349.73 L282.65,349.51 L282.90,349.29 L283.15,349.08 L283.43,348.85 L283.74,348.60 L284.08,348.35 L284.40,348.12 L284.65,347.95 L284.90,347.78 L285.19,347.60 L285.60,347.35 L285.90,347.18 L286.15,347.05 L286.54,346.85 L286.90,346.68 L287.15,346.57 L287.65,346.36 L287.90,346.27 L288.40,346.10 L288.65,346.02 L289.15,345.89 L289.40,345.83 L289.90,345.73 L290.40,345.65 L290.90,345.60 L291.15,345.59 L291.65,345.57 L292.15,345.58 L292.40,345.60 L292.90,345.65 L293.40,345.74 L293.88,345.85 L294.15,345.93 L294.65,346.10 L294.90,346.20 L295.22,346.35 L295.65,346.59 L295.90,346.75 L296.15,346.93 L296.40,347.14 L296.65,347.37 L296.90,347.65 L297.15,347.98 L297.38,348.35 L297.51,348.60 L297.65,348.94 L297.80,349.35 L297.90,349.75 L297.97,350.10 L298.05,350.60 L298.09,351.10 L298.12,351.60 L298.12,352.10 L298.11,352.60 L298.08,353.10 L298.04,353.60 L297.99,354.10 L297.93,354.60 L297.89,354.85 L297.82,355.35 L297.74,355.85 L297.65,356.30 L297.59,356.60 L297.49,357.10 L297.40,357.48 L297.31,357.85 L297.19,358.35 L297.12,358.60 L296.98,359.10 L296.90,359.36 L296.75,359.85 L296.65,360.16 L296.50,360.60 L296.40,360.89 L296.23,361.35 L296.14,361.60 L295.94,362.10 L295.84,362.35 L295.65,362.78 L295.51,363.10 L295.40,363.35 L295.16,363.85 L295.04,364.10 L294.90,364.37 L294.65,364.85 L294.52,365.10 L294.38,365.35 L294.15,365.74 L293.94,366.10 L293.79,366.35 L293.63,366.60 L293.40,366.95 L293.15,367.33 L292.96,367.60 L292.79,367.85 L292.60,368.10 L292.40,368.37 L292.15,368.70 L291.90,369.01 L291.65,369.31 L291.41,369.60 L291.19,369.85 L290.96,370.10 L290.73,370.35 L290.49,370.60 L290.24,370.85 L289.99,371.10 L289.72,371.35 L289.45,371.60 L289.16,371.85 L288.90,372.07 L288.65,372.28 L288.40,372.47 L288.15,372.66 L287.89,372.85 L287.53,373.10 L287.15,373.35 L286.90,373.51 L286.65,373.66 L286.31,373.85 L285.90,374.07 L285.65,374.19 L285.30,374.35 L284.90,374.52 L284.65,374.61 L284.15,374.79 L283.90,374.86 L283.40,375.00 L282.90,375.10 L282.65,375.14 L282.65,375.14Z" fill="none" stroke="#474747" stroke-width="0.6"/>
<path d="M281.90,376.87 L281.40,376.91 L280.90,376.92 L280.40,376.89 L279.99,376.85 L279.65,376.80 L279.15,376.69 L278.84,376.60 L278.40,376.45 L278.15,376.35 L277.65,376.10 L277.40,375.96 L277.15,375.80 L276.86,375.60 L276.54,375.35 L276.26,375.10 L276.00,374.85 L275.77,374.60 L275.56,374.35 L275.37,374.10 L275.15,373.78 L274.90,373.38 L274.74,373.10 L274.61,372.85 L274.40,372.40 L274.27,372.10 L274.15,371.77 L274.00,371.35 L273.90,370.99 L273.80,370.60 L273.68,370.10 L273.64,369.85 L273.55,369.35 L273.49,368.85 L273.44,368.35 L273.41,367.85 L273.40,367.39 L273.40,367.10 L273.40,366.73 L273.41,366.35 L273.43,365.85 L273.47,365.35 L273.52,364.85 L273.59,364.35 L273.65,363.94 L273.70,363.60 L273.80,363.10 L273.90,362.61 L273.96,362.35 L274.08,361.85 L274.15,361.57 L274.28,361.10 L274.40,360.69 L274.50,360.35 L274.65,359.91 L274.75,359.60 L274.90,359.19 L275.03,358.85 L275.15,358.54 L275.33,358.10 L275.43,357.85 L275.65,357.36 L275.76,357.10 L275.90,356.82 L276.13,356.35 L276.25,356.10 L276.40,355.82 L276.65,355.35 L276.78,355.10 L276.93,354.85 L277.15,354.47 L277.37,354.10 L277.53,353.85 L277.69,353.60 L277.90,353.27 L278.15,352.90 L278.36,352.60 L278.54,352.35 L278.72,352.10 L278.91,351.85 L279.15,351.53 L279.40,351.21 L279.65,350.91 L279.90,350.61 L280.12,350.35 L280.34,350.10 L280.57,349.85 L280.80,349.60 L281.04,349.35 L281.29,349.10 L281.54,348.85 L281.80,348.60 L282.07,348.35 L282.35,348.10 L282.64,347.85 L282.90,347.63 L283.15,347.42 L283.40,347.22 L283.65,347.03 L283.90,346.84 L284.23,346.60 L284.60,346.35 L284.90,346.15 L285.15,345.99 L285.40,345.83 L285.80,345.60 L286.15,345.40 L286.40,345.27 L286.73,345.10 L287.15,344.90 L287.40,344.78 L287.83,344.60 L288.15,344.47 L288.48,344.35 L288.90,344.20 L289.22,344.10 L289.65,343.97 L290.11,343.85 L290.40,343.78 L290.90,343.67 L291.32,343.60 L291.65,343.55 L292.15,343.48 L292.65,343.43 L293.15,343.39 L293.65,343.37 L294.15,343.36 L294.65,343.35 L295.15,343.36 L295.65,343.37 L296.15,343.39 L296.65,343.41 L297.15,343.43 L297.65,343.46 L298.15,343.48 L298.65,343.50 L299.15,343.52 L299.65,343.54 L300.15,343.56 L300.65,343.59 L300.90,343.61 L301.40,343.68 L301.90,343.78 L302.15,343.86 L302.65,344.10 L302.90,344.29 L303.15,344.60 L303.26,344.85 L303.36,345.35 L303.32,345.85 L303.21,346.35 L303.13,346.60 L302.93,347.10 L302.82,347.35 L302.65,347.71 L302.46,348.10 L302.34,348.35 L302.15,348.71 L301.96,349.10 L301.83,349.35 L301.65,349.73 L301.48,350.10 L301.36,350.35 L301.15,350.84 L301.04,351.10 L300.90,351.45 L300.75,351.85 L300.65,352.10 L300.47,352.60 L300.38,352.85 L300.21,353.35 L300.13,353.60 L299.97,354.10 L299.89,354.35 L299.74,354.85 L299.65,355.12 L299.51,355.60 L299.40,355.94 L299.28,356.35 L299.15,356.76 L299.05,357.10 L298.90,357.57 L298.81,357.85 L298.65,358.35 L298.57,358.60 L298.40,359.10 L298.32,359.35 L298.15,359.83 L298.06,360.10 L297.90,360.52 L297.78,360.85 L297.65,361.18 L297.49,361.60 L297.38,361.85 L297.17,362.35 L297.07,362.60 L296.90,362.97 L296.73,363.35 L296.61,363.60 L296.40,364.04 L296.25,364.35 L296.12,364.60 L295.90,365.02 L295.73,365.35 L295.59,365.60 L295.40,365.93 L295.16,366.35 L295.01,366.60 L294.85,366.85 L294.65,367.18 L294.40,367.56 L294.21,367.85 L294.04,368.10 L293.87,368.35 L293.65,368.65 L293.40,369.00 L293.15,369.33 L292.94,369.60 L292.74,369.85 L292.54,370.10 L292.33,370.35 L292.11,370.60 L291.90,370.85 L291.65,371.12 L291.40,371.39 L291.15,371.66 L290.90,371.91 L290.65,372.16 L290.40,372.40 L290.15,372.63 L289.90,372.86 L289.63,373.10 L289.33,373.35 L289.03,373.60 L288.71,373.85 L288.40,374.08 L288.15,374.27 L287.90,374.44 L287.65,374.61 L287.28,374.85 L286.90,375.08 L286.65,375.23 L286.40,375.37 L285.97,375.60 L285.65,375.76 L285.40,375.87 L284.90,376.09 L284.65,376.19 L284.20,376.35 L283.90,376.45 L283.40,376.59 L283.15,376.66 L282.65,376.76 L282.15,376.84 L281.90,376.87 L281.90,376.87Z" fill="none" stroke="#474747" stroke-width="0.6"/>
<path d="M280.90,378.61 L280.40,378.62 L279.98,378.60 L279.65,378.58 L279.15,378.51 L278.65,378.41 L278.40,378.35 L277.90,378.20 L277.63,378.10 L277.15,377.90 L276.90,377.78 L276.58,377.60 L276.19,377.35 L275.90,377.15 L275.65,376.96 L275.40,376.74 L275.15,376.51 L274.90,376.26 L274.65,375.98 L274.40,375.67 L274.16,375.35 L273.99,375.10 L273.83,374.85 L273.65,374.54 L273.42,374.10 L273.30,373.85 L273.15,373.52 L272.98,373.10 L272.89,372.85 L272.73,372.35 L272.65,372.09 L272.52,371.60 L272.41,371.10 L272.36,370.85 L272.28,370.35 L272.21,369.85 L272.16,369.35 L272.14,369.10 L272.11,368.60 L272.09,368.10 L272.09,367.60 L272.09,367.10 L272.12,366.60 L272.15,366.12 L272.17,365.85 L272.22,365.35 L272.28,364.85 L272.35,364.35 L272.40,364.07 L272.48,363.60 L272.58,363.10 L272.65,362.77 L272.74,362.35 L272.87,361.85 L272.93,361.60 L273.07,361.10 L273.15,360.83 L273.29,360.35 L273.40,360.03 L273.54,359.60 L273.65,359.29 L273.81,358.85 L273.91,358.60 L274.10,358.10 L274.20,357.85 L274.40,357.39 L274.53,357.10 L274.65,356.83 L274.87,356.35 L274.99,356.10 L275.15,355.78 L275.37,355.35 L275.50,355.10 L275.65,354.83 L275.90,354.38 L276.05,354.10 L276.20,353.85 L276.40,353.52 L276.65,353.12 L276.82,352.85 L276.98,352.60 L277.15,352.34 L277.40,351.97 L277.65,351.62 L277.84,351.35 L278.02,351.10 L278.21,350.85 L278.40,350.60 L278.65,350.28 L278.90,349.97 L279.15,349.67 L279.40,349.37 L279.64,349.10 L279.86,348.85 L280.09,348.60 L280.32,348.35 L280.56,348.10 L280.80,347.85 L281.05,347.60 L281.31,347.35 L281.58,347.10 L281.85,346.85 L282.13,346.60 L282.40,346.36 L282.65,346.15 L282.90,345.95 L283.15,345.74 L283.40,345.55 L283.67,345.35 L284.00,345.10 L284.36,344.85 L284.65,344.65 L284.90,344.48 L285.15,344.32 L285.50,344.10 L285.90,343.86 L286.15,343.72 L286.40,343.58 L286.83,343.35 L287.15,343.19 L287.40,343.06 L287.86,342.85 L288.15,342.72 L288.43,342.60 L288.90,342.40 L289.15,342.31 L289.65,342.12 L289.90,342.03 L290.40,341.87 L290.65,341.79 L291.15,341.64 L291.40,341.57 L291.90,341.43 L292.21,341.35 L292.65,341.24 L293.15,341.11 L293.40,341.05 L293.90,340.93 L294.25,340.85 L294.65,340.75 L295.15,340.63 L295.40,340.56 L295.90,340.43 L296.20,340.35 L296.65,340.22 L297.05,340.10 L297.40,339.99 L297.84,339.85 L298.15,339.75 L298.58,339.60 L298.90,339.49 L299.30,339.35 L299.65,339.23 L300.02,339.10 L300.40,338.97 L300.76,338.85 L301.15,338.72 L301.56,338.60 L301.90,338.50 L302.40,338.37 L302.65,338.30 L303.15,338.19 L303.64,338.10 L303.90,338.06 L304.40,337.99 L304.90,337.95 L305.40,337.94 L305.90,337.95 L306.40,337.99 L306.90,338.07 L307.15,338.12 L307.65,338.27 L307.90,338.36 L308.40,338.59 L308.65,338.73 L308.90,338.90 L309.15,339.10 L309.42,339.35 L309.65,339.61 L309.90,339.96 L310.12,340.35 L310.23,340.60 L310.40,341.10 L310.45,341.35 L310.53,341.85 L310.55,342.35 L310.52,342.85 L310.46,343.35 L310.40,343.64 L310.29,344.10 L310.15,344.54 L310.04,344.85 L309.90,345.19 L309.71,345.60 L309.59,345.85 L309.40,346.20 L309.17,346.60 L309.01,346.85 L308.85,347.10 L308.65,347.39 L308.40,347.73 L308.15,348.06 L307.91,348.35 L307.71,348.60 L307.49,348.85 L307.27,349.10 L307.04,349.35 L306.80,349.60 L306.56,349.85 L306.31,350.10 L306.06,350.35 L305.81,350.60 L305.55,350.85 L305.29,351.10 L305.04,351.35 L304.78,351.60 L304.53,351.85 L304.28,352.10 L304.04,352.35 L303.81,352.60 L303.58,352.85 L303.36,353.10 L303.15,353.35 L302.90,353.66 L302.65,353.99 L302.40,354.34 L302.23,354.60 L302.07,354.85 L301.90,355.11 L301.65,355.54 L301.48,355.85 L301.35,356.10 L301.15,356.49 L300.98,356.85 L300.86,357.10 L300.65,357.55 L300.52,357.85 L300.40,358.11 L300.19,358.60 L300.09,358.85 L299.90,359.29 L299.77,359.60 L299.65,359.88 L299.46,360.35 L299.35,360.60 L299.15,361.06 L299.03,361.35 L298.90,361.64 L298.70,362.10 L298.59,362.35 L298.40,362.76 L298.24,363.10 L298.12,363.35 L297.90,363.81 L297.76,364.10 L297.63,364.35 L297.40,364.81 L297.25,365.10 L297.11,365.35 L296.90,365.74 L296.70,366.10 L296.56,366.35 L296.40,366.62 L296.15,367.04 L295.96,367.35 L295.80,367.60 L295.64,367.85 L295.40,368.22 L295.15,368.60 L294.98,368.85 L294.80,369.10 L294.62,369.35 L294.40,369.66 L294.15,369.99 L293.90,370.32 L293.68,370.60 L293.48,370.85 L293.27,371.10 L293.06,371.35 L292.85,371.60 L292.63,371.85 L292.40,372.10 L292.15,372.37 L291.90,372.64 L291.65,372.90 L291.40,373.15 L291.15,373.39 L290.90,373.63 L290.65,373.86 L290.39,374.10 L290.11,374.35 L289.81,374.60 L289.51,374.85 L289.20,375.10 L288.90,375.33 L288.65,375.52 L288.40,375.70 L288.15,375.87 L287.81,376.10 L287.42,376.35 L287.15,376.52 L286.90,376.67 L286.58,376.85 L286.15,377.08 L285.90,377.21 L285.61,377.35 L285.15,377.56 L284.90,377.67 L284.44,377.85 L284.15,377.96 L283.71,378.10 L283.40,378.19 L282.90,378.32 L282.65,378.38 L282.15,378.48 L281.65,378.55 L281.15,378.59 L280.90,378.61 L280.90,378.61Z" fill="none" stroke="#474747" stroke-width="0.6"/>
<path d="M282.15,380.11 L281.65,380.20 L281.15,380.26 L280.65,380.31 L280.15,380.32 L279.65,380.32 L279.15,380.29 L278.65,380.23 L278.15,380.14 L277.90,380.09 L277.40,379.95 L277.10,379.85 L276.65,379.68 L276.40,379.57 L275.95,379.35 L275.65,379.18 L275.40,379.03 L275.14,378.85 L274.80,378.60 L274.50,378.35 L274.22,378.10 L273.97,377.85 L273.73,377.60 L273.51,377.35 L273.31,377.10 L273.12,376.85 L272.90,376.53 L272.65,376.14 L272.48,375.85 L272.35,375.60 L272.15,375.21 L271.99,374.85 L271.88,374.60 L271.69,374.10 L271.60,373.85 L271.44,373.35 L271.37,373.10 L271.24,372.60 L271.15,372.19 L271.08,371.85 L270.99,371.35 L270.92,370.85 L270.89,370.60 L270.84,370.10 L270.80,369.60 L270.78,369.10 L270.77,368.60 L270.77,368.10 L270.78,367.60 L270.80,367.10 L270.84,366.60 L270.88,366.10 L270.91,365.85 L270.97,365.35 L271.04,364.85 L271.12,364.35 L271.16,364.10 L271.25,363.60 L271.35,363.10 L271.41,362.85 L271.52,362.35 L271.65,361.85 L271.71,361.60 L271.85,361.10 L271.93,360.85 L272.08,360.35 L272.16,360.10 L272.32,359.60 L272.41,359.35 L272.59,358.85 L272.68,358.60 L272.87,358.10 L272.97,357.85 L273.15,357.42 L273.28,357.10 L273.40,356.84 L273.62,356.35 L273.73,356.10 L273.90,355.75 L274.10,355.35 L274.22,355.10 L274.40,354.76 L274.61,354.35 L274.75,354.10 L274.90,353.83 L275.15,353.39 L275.32,353.10 L275.47,352.85 L275.65,352.56 L275.90,352.16 L276.09,351.85 L276.26,351.60 L276.43,351.35 L276.65,351.02 L276.90,350.67 L277.13,350.35 L277.31,350.10 L277.49,349.85 L277.69,349.60 L277.90,349.33 L278.15,349.01 L278.40,348.70 L278.65,348.40 L278.90,348.11 L279.13,347.85 L279.35,347.60 L279.58,347.35 L279.81,347.10 L280.05,346.85 L280.29,346.60 L280.54,346.35 L280.79,346.10 L281.05,345.85 L281.32,345.60 L281.59,345.35 L281.87,345.10 L282.15,344.86 L282.40,344.65 L282.65,344.44 L282.90,344.23 L283.15,344.04 L283.40,343.84 L283.72,343.60 L284.06,343.35 L284.40,343.11 L284.65,342.94 L284.90,342.77 L285.16,342.60 L285.55,342.35 L285.90,342.13 L286.15,341.98 L286.40,341.84 L286.82,341.60 L287.15,341.42 L287.40,341.28 L287.76,341.10 L288.15,340.90 L288.40,340.78 L288.79,340.60 L289.15,340.43 L289.40,340.32 L289.90,340.11 L290.15,340.00 L290.52,339.85 L290.90,339.69 L291.15,339.60 L291.65,339.40 L291.90,339.30 L292.40,339.11 L292.65,339.02 L293.09,338.85 L293.40,338.73 L293.75,338.60 L294.15,338.44 L294.40,338.35 L294.90,338.15 L295.15,338.05 L295.64,337.85 L295.90,337.74 L296.24,337.60 L296.65,337.43 L296.90,337.32 L297.40,337.11 L297.65,337.00 L298.00,336.85 L298.40,336.68 L298.65,336.58 L299.15,336.37 L299.40,336.26 L299.81,336.10 L300.15,335.97 L300.45,335.85 L300.90,335.68 L301.15,335.59 L301.65,335.42 L301.90,335.34 L302.40,335.18 L302.69,335.10 L303.15,334.97 L303.64,334.85 L303.90,334.79 L304.40,334.68 L304.87,334.60 L305.15,334.56 L305.65,334.49 L306.15,334.44 L306.65,334.41 L307.15,334.40 L307.65,334.40 L308.15,334.43 L308.65,334.49 L309.15,334.57 L309.40,334.62 L309.90,334.74 L310.26,334.85 L310.65,334.99 L310.92,335.10 L311.40,335.33 L311.65,335.47 L311.90,335.63 L312.21,335.85 L312.52,336.10 L312.80,336.35 L313.03,336.60 L313.25,336.85 L313.44,337.10 L313.65,337.42 L313.89,337.85 L314.01,338.10 L314.15,338.46 L314.28,338.85 L314.40,339.33 L314.45,339.60 L314.52,340.10 L314.55,340.60 L314.55,341.10 L314.52,341.60 L314.46,342.10 L314.40,342.45 L314.32,342.85 L314.20,343.35 L314.13,343.60 L313.97,344.10 L313.88,344.35 L313.68,344.85 L313.57,345.10 L313.40,345.48 L313.22,345.85 L313.09,346.10 L312.90,346.44 L312.66,346.85 L312.51,347.10 L312.35,347.35 L312.15,347.66 L311.90,348.02 L311.66,348.35 L311.48,348.60 L311.28,348.85 L311.08,349.10 L310.88,349.35 L310.65,349.62 L310.40,349.90 L310.15,350.18 L309.90,350.45 L309.65,350.72 L309.40,350.97 L309.15,351.22 L308.90,351.47 L308.65,351.71 L308.40,351.95 L308.15,352.18 L307.90,352.41 L307.65,352.64 L307.40,352.86 L307.13,353.10 L306.85,353.35 L306.57,353.60 L306.29,353.85 L306.01,354.10 L305.73,354.35 L305.46,354.60 L305.19,354.85 L304.93,355.10 L304.68,355.35 L304.43,355.60 L304.20,355.85 L303.97,356.10 L303.75,356.35 L303.54,356.60 L303.34,356.85 L303.14,357.10 L302.90,357.43 L302.65,357.78 L302.44,358.10 L302.28,358.35 L302.13,358.60 L301.90,358.98 L301.69,359.35 L301.55,359.60 L301.40,359.87 L301.15,360.34 L301.02,360.60 L300.89,360.85 L300.65,361.32 L300.51,361.60 L300.38,361.85 L300.15,362.32 L300.01,362.60 L299.88,362.85 L299.65,363.31 L299.51,363.60 L299.38,363.85 L299.15,364.28 L298.99,364.60 L298.85,364.85 L298.65,365.22 L298.44,365.60 L298.31,365.85 L298.15,366.12 L297.90,366.56 L297.73,366.85 L297.58,367.10 L297.40,367.39 L297.15,367.80 L296.96,368.10 L296.80,368.35 L296.64,368.60 L296.40,368.96 L296.15,369.32 L295.96,369.60 L295.78,369.85 L295.60,370.10 L295.40,370.37 L295.15,370.71 L294.90,371.03 L294.65,371.35 L294.45,371.60 L294.25,371.85 L294.04,372.10 L293.83,372.35 L293.61,372.60 L293.39,372.85 L293.15,373.12 L292.90,373.39 L292.65,373.65 L292.40,373.91 L292.15,374.17 L291.90,374.42 L291.65,374.66 L291.40,374.89 L291.15,375.12 L290.90,375.35 L290.61,375.60 L290.32,375.85 L290.02,376.10 L289.71,376.35 L289.40,376.59 L289.15,376.78 L288.90,376.97 L288.65,377.15 L288.35,377.35 L287.98,377.60 L287.65,377.81 L287.40,377.97 L287.15,378.12 L286.75,378.35 L286.40,378.54 L286.15,378.67 L285.79,378.85 L285.40,379.04 L285.15,379.15 L284.67,379.35 L284.40,379.46 L284.00,379.60 L283.65,379.72 L283.22,379.85 L282.90,379.94 L282.40,380.06 L282.15,380.11 L282.15,380.11Z" fill="none" stroke="#474747" stroke-width="0.6"/>
<path d="M161.25,501.07 L160.75,501.06 L160.50,501.00 L160.09,500.80 L159.82,500.55 L159.66,500.30 L159.50,499.83 L159.46,499.55 L159.47,499.05 L159.50,498.80 L159.62,498.30 L159.75,497.89 L159.89,497.55 L160.00,497.30 L160.25,496.85 L160.43,496.55 L160.60,496.30 L160.78,496.05 L161.00,495.78 L161.25,495.49 L161.50,495.23 L161.75,494.99 L162.00,494.76 L162.26,494.55 L162.61,494.30 L163.00,494.05 L163.25,493.91 L163.50,493.79 L164.00,493.60 L164.25,493.54 L164.75,493.47 L165.25,493.50 L165.50,493.57 L165.89,493.80 L166.13,494.05 L166.28,494.30 L166.42,494.80 L166.45,495.30 L166.39,495.80 L166.27,496.30 L166.19,496.55 L166.00,497.01 L165.86,497.30 L165.73,497.55 L165.50,497.92 L165.25,498.29 L165.06,498.55 L164.85,498.80 L164.63,499.05 L164.40,499.30 L164.14,499.55 L163.86,499.80 L163.55,500.05 L163.25,500.26 L163.00,500.42 L162.75,500.57 L162.27,500.80 L162.00,500.90 L161.50,501.04 L161.25,501.07 L161.25,501.07Z" fill="none" stroke="#474747" stroke-width="0.6"/>
<path d="M161.00,503.07 L160.50,503.13 L160.00,503.13 L159.50,503.05 L159.25,502.97 L158.88,502.80 L158.53,502.55 L158.29,502.30 L158.11,502.05 L157.97,501.80 L157.79,501.30 L157.74,501.05 L157.68,500.55 L157.69,500.05 L157.74,499.55 L157.78,499.30 L157.90,498.80 L158.00,498.45 L158.14,498.05 L158.25,497.77 L158.46,497.30 L158.58,497.05 L158.75,496.73 L159.00,496.30 L159.16,496.05 L159.33,495.80 L159.50,495.55 L159.75,495.22 L160.00,494.91 L160.25,494.62 L160.50,494.35 L160.75,494.09 L161.00,493.84 L161.25,493.61 L161.50,493.40 L161.75,493.19 L162.00,493.00 L162.27,492.80 L162.65,492.55 L163.00,492.34 L163.25,492.20 L163.54,492.05 L164.00,491.85 L164.25,491.75 L164.75,491.60 L165.00,491.54 L165.50,491.47 L166.00,491.45 L166.50,491.51 L166.75,491.57 L167.25,491.79 L167.50,491.96 L167.75,492.19 L168.00,492.51 L168.16,492.80 L168.26,493.05 L168.39,493.55 L168.44,494.05 L168.44,494.55 L168.38,495.05 L168.29,495.55 L168.22,495.80 L168.07,496.30 L167.98,496.55 L167.78,497.05 L167.66,497.30 L167.50,497.62 L167.26,498.05 L167.11,498.30 L166.96,498.55 L166.75,498.86 L166.50,499.20 L166.25,499.53 L166.02,499.80 L165.80,500.05 L165.57,500.30 L165.33,500.55 L165.07,500.80 L164.80,501.05 L164.50,501.30 L164.25,501.50 L164.00,501.69 L163.75,501.86 L163.47,502.05 L163.05,502.30 L162.75,502.46 L162.50,502.58 L162.00,502.79 L161.75,502.88 L161.25,503.02 L161.00,503.07 L161.00,503.07Z" fill="none" stroke="#474747" stroke-width="0.6"/>
<path d="M160.75,504.80 L160.25,504.89 L159.75,504.93 L159.25,504.91 L158.75,504.85 L158.50,504.79 L158.00,504.61 L157.75,504.48 L157.47,504.30 L157.17,504.05 L156.94,503.80 L156.75,503.55 L156.50,503.10 L156.38,502.80 L156.25,502.39 L156.18,502.05 L156.12,501.55 L156.11,501.05 L156.14,500.55 L156.20,500.05 L156.25,499.75 L156.35,499.30 L156.49,498.80 L156.57,498.55 L156.75,498.05 L156.85,497.80 L157.00,497.45 L157.19,497.05 L157.31,496.80 L157.50,496.45 L157.73,496.05 L157.88,495.80 L158.04,495.55 L158.25,495.24 L158.50,494.89 L158.75,494.56 L158.96,494.30 L159.16,494.05 L159.38,493.80 L159.60,493.55 L159.84,493.30 L160.08,493.05 L160.34,492.80 L160.61,492.55 L160.89,492.30 L161.19,492.05 L161.50,491.81 L161.75,491.62 L162.00,491.44 L162.25,491.27 L162.60,491.05 L163.00,490.81 L163.25,490.68 L163.50,490.55 L164.00,490.32 L164.25,490.21 L164.70,490.05 L165.00,489.96 L165.50,489.83 L165.75,489.78 L166.25,489.72 L166.75,489.70 L167.25,489.73 L167.63,489.80 L168.00,489.91 L168.35,490.05 L168.75,490.29 L169.00,490.48 L169.25,490.73 L169.50,491.05 L169.65,491.30 L169.78,491.55 L169.96,492.05 L170.02,492.30 L170.11,492.80 L170.14,493.30 L170.13,493.80 L170.09,494.30 L170.01,494.80 L169.96,495.05 L169.84,495.55 L169.75,495.85 L169.60,496.30 L169.50,496.57 L169.30,497.05 L169.19,497.30 L169.00,497.70 L168.82,498.05 L168.68,498.30 L168.50,498.61 L168.25,499.01 L168.06,499.30 L167.89,499.55 L167.71,499.80 L167.50,500.08 L167.25,500.39 L167.00,500.69 L166.75,500.98 L166.50,501.25 L166.25,501.51 L166.00,501.76 L165.75,501.99 L165.50,502.22 L165.25,502.44 L165.00,502.64 L164.75,502.84 L164.47,503.05 L164.11,503.30 L163.75,503.54 L163.50,503.69 L163.25,503.83 L162.84,504.05 L162.50,504.21 L162.25,504.33 L161.75,504.52 L161.50,504.61 L161.00,504.75 L160.75,504.80 L160.75,504.80Z" fill="none" stroke="#474747" stroke-width="0.6"/>
<path d="M160.25,506.35 L159.75,506.43 L159.25,506.47 L158.75,506.47 L158.25,506.42 L157.75,506.33 L157.50,506.26 L157.00,506.06 L156.75,505.93 L156.50,505.78 L156.20,505.55 L155.93,505.30 L155.71,505.05 L155.50,504.77 L155.25,504.33 L155.12,504.05 L155.00,503.72 L154.88,503.30 L154.79,502.80 L154.75,502.46 L154.73,502.05 L154.73,501.55 L154.75,501.21 L154.79,500.80 L154.87,500.30 L154.97,499.80 L155.03,499.55 L155.17,499.05 L155.25,498.80 L155.42,498.30 L155.52,498.05 L155.72,497.55 L155.84,497.30 L156.00,496.95 L156.20,496.55 L156.34,496.30 L156.50,496.01 L156.75,495.59 L156.93,495.30 L157.09,495.05 L157.26,494.80 L157.50,494.46 L157.75,494.12 L158.00,493.80 L158.20,493.55 L158.41,493.30 L158.63,493.05 L158.85,492.80 L159.09,492.55 L159.33,492.30 L159.58,492.05 L159.84,491.80 L160.11,491.55 L160.40,491.30 L160.69,491.05 L161.00,490.80 L161.25,490.61 L161.50,490.43 L161.75,490.25 L162.05,490.05 L162.44,489.80 L162.75,489.61 L163.00,489.47 L163.32,489.30 L163.75,489.08 L164.00,488.97 L164.40,488.80 L164.75,488.67 L165.09,488.55 L165.50,488.43 L166.00,488.31 L166.25,488.26 L166.75,488.19 L167.25,488.16 L167.75,488.16 L168.25,488.22 L168.65,488.30 L169.00,488.40 L169.36,488.55 L169.75,488.76 L170.00,488.93 L170.25,489.13 L170.50,489.38 L170.75,489.68 L170.99,490.05 L171.12,490.30 L171.25,490.60 L171.40,491.05 L171.50,491.49 L171.55,491.80 L171.60,492.30 L171.61,492.80 L171.59,493.30 L171.53,493.80 L171.50,494.05 L171.41,494.55 L171.29,495.05 L171.22,495.30 L171.07,495.80 L170.99,496.05 L170.80,496.55 L170.70,496.80 L170.50,497.27 L170.37,497.55 L170.25,497.80 L170.00,498.28 L169.85,498.55 L169.71,498.80 L169.50,499.15 L169.25,499.54 L169.08,499.80 L168.90,500.05 L168.73,500.30 L168.50,500.60 L168.25,500.92 L168.00,501.23 L167.75,501.53 L167.51,501.80 L167.28,502.05 L167.04,502.30 L166.79,502.55 L166.54,502.80 L166.27,503.05 L166.00,503.29 L165.75,503.51 L165.50,503.71 L165.25,503.91 L165.00,504.10 L164.73,504.30 L164.37,504.55 L164.00,504.79 L163.75,504.95 L163.50,505.09 L163.12,505.30 L162.75,505.49 L162.50,505.61 L162.06,505.80 L161.75,505.92 L161.39,506.05 L161.00,506.17 L160.50,506.30 L160.25,506.35 L160.25,506.35Z" fill="none" stroke="#474747" stroke-width="0.6"/>
<path d="M159.00,507.82 L158.50,507.84 L158.00,507.82 L157.73,507.80 L157.25,507.73 L156.75,507.60 L156.50,507.52 L156.00,507.30 L155.75,507.16 L155.50,507.00 L155.24,506.80 L154.96,506.55 L154.72,506.30 L154.50,506.02 L154.25,505.63 L154.07,505.30 L153.96,505.05 L153.78,504.55 L153.71,504.30 L153.60,503.80 L153.53,503.30 L153.50,502.94 L153.49,502.55 L153.50,502.05 L153.51,501.80 L153.56,501.30 L153.63,500.80 L153.73,500.30 L153.79,500.05 L153.91,499.55 L154.00,499.25 L154.14,498.80 L154.25,498.50 L154.42,498.05 L154.52,497.80 L154.74,497.30 L154.85,497.05 L155.00,496.75 L155.23,496.30 L155.37,496.05 L155.51,495.80 L155.75,495.38 L155.96,495.05 L156.12,494.80 L156.28,494.55 L156.50,494.23 L156.75,493.88 L157.00,493.55 L157.19,493.30 L157.39,493.05 L157.60,492.80 L157.81,492.55 L158.03,492.30 L158.26,492.05 L158.50,491.79 L158.75,491.54 L159.00,491.29 L159.25,491.05 L159.51,490.80 L159.79,490.55 L160.08,490.30 L160.38,490.05 L160.69,489.80 L161.00,489.57 L161.25,489.38 L161.50,489.20 L161.75,489.03 L162.11,488.80 L162.50,488.56 L162.75,488.41 L163.00,488.27 L163.41,488.05 L163.75,487.88 L164.00,487.76 L164.49,487.55 L164.75,487.44 L165.15,487.30 L165.50,487.18 L165.96,487.05 L166.25,486.98 L166.75,486.88 L167.25,486.80 L167.50,486.78 L168.00,486.75 L168.50,486.76 L168.89,486.80 L169.25,486.85 L169.75,486.98 L170.00,487.06 L170.50,487.27 L170.75,487.41 L171.00,487.57 L171.29,487.80 L171.56,488.05 L171.79,488.30 L172.00,488.58 L172.25,488.98 L172.41,489.30 L172.52,489.55 L172.68,490.05 L172.75,490.31 L172.84,490.80 L172.90,491.30 L172.93,491.80 L172.92,492.30 L172.89,492.80 L172.83,493.30 L172.75,493.80 L172.71,494.05 L172.59,494.55 L172.50,494.90 L172.39,495.30 L172.25,495.72 L172.14,496.05 L172.00,496.41 L171.84,496.80 L171.74,497.05 L171.51,497.55 L171.39,497.80 L171.25,498.07 L171.00,498.55 L170.86,498.80 L170.71,499.05 L170.50,499.41 L170.25,499.80 L170.09,500.05 L169.92,500.30 L169.74,500.55 L169.50,500.89 L169.25,501.22 L169.00,501.54 L168.79,501.80 L168.58,502.05 L168.36,502.30 L168.14,502.55 L167.90,502.80 L167.67,503.05 L167.42,503.30 L167.16,503.55 L166.90,503.80 L166.63,504.05 L166.34,504.30 L166.05,504.55 L165.75,504.79 L165.50,504.99 L165.25,505.17 L165.00,505.36 L164.72,505.55 L164.35,505.80 L164.00,506.02 L163.75,506.17 L163.50,506.31 L163.07,506.55 L162.75,506.71 L162.50,506.83 L162.00,507.05 L161.75,507.15 L161.34,507.30 L161.00,507.42 L160.53,507.55 L160.25,507.62 L159.75,507.72 L159.25,507.79 L159.00,507.82 L159.00,507.82Z" fill="none" stroke="#474747" stroke-width="0.6"/>
<path d="M158.25,509.06 L157.75,509.07 L157.37,509.05 L157.00,509.01 L156.50,508.93 L156.02,508.80 L155.75,508.71 L155.37,508.55 L155.00,508.36 L154.75,508.21 L154.50,508.04 L154.21,507.80 L153.94,507.55 L153.72,507.30 L153.50,507.02 L153.25,506.64 L153.06,506.30 L152.94,506.05 L152.75,505.56 L152.67,505.30 L152.54,504.80 L152.49,504.55 L152.42,504.05 L152.38,503.55 L152.36,503.05 L152.37,502.55 L152.41,502.05 L152.47,501.55 L152.51,501.30 L152.59,500.80 L152.70,500.30 L152.77,500.05 L152.90,499.55 L153.00,499.24 L153.14,498.80 L153.25,498.51 L153.42,498.05 L153.53,497.80 L153.74,497.30 L153.86,497.05 L154.00,496.76 L154.23,496.30 L154.36,496.05 L154.50,495.80 L154.75,495.36 L154.93,495.05 L155.09,494.80 L155.25,494.55 L155.50,494.17 L155.75,493.81 L155.93,493.55 L156.12,493.30 L156.31,493.05 L156.50,492.80 L156.75,492.49 L157.00,492.19 L157.25,491.89 L157.50,491.61 L157.75,491.34 L158.00,491.07 L158.25,490.82 L158.50,490.57 L158.75,490.33 L159.00,490.09 L159.25,489.86 L159.50,489.64 L159.75,489.43 L160.00,489.22 L160.25,489.02 L160.53,488.80 L160.86,488.55 L161.20,488.30 L161.50,488.09 L161.75,487.92 L162.00,487.76 L162.34,487.55 L162.75,487.31 L163.00,487.16 L163.25,487.03 L163.69,486.80 L164.00,486.65 L164.25,486.54 L164.75,486.32 L165.00,486.22 L165.47,486.05 L165.75,485.95 L166.25,485.81 L166.50,485.74 L167.00,485.62 L167.41,485.55 L167.75,485.50 L168.25,485.45 L168.75,485.43 L169.25,485.44 L169.75,485.48 L170.16,485.55 L170.50,485.63 L171.00,485.78 L171.25,485.88 L171.60,486.05 L172.00,486.29 L172.25,486.47 L172.50,486.68 L172.75,486.93 L173.00,487.22 L173.24,487.55 L173.39,487.80 L173.52,488.05 L173.74,488.55 L173.83,488.80 L173.97,489.30 L174.02,489.55 L174.11,490.05 L174.16,490.55 L174.18,491.05 L174.17,491.55 L174.14,492.05 L174.09,492.55 L174.01,493.05 L173.97,493.30 L173.87,493.80 L173.75,494.28 L173.68,494.55 L173.53,495.05 L173.45,495.30 L173.28,495.80 L173.19,496.05 L173.00,496.52 L172.89,496.80 L172.75,497.11 L172.55,497.55 L172.43,497.80 L172.25,498.15 L172.04,498.55 L171.90,498.80 L171.75,499.07 L171.50,499.49 L171.31,499.80 L171.15,500.05 L170.99,500.30 L170.75,500.65 L170.50,501.00 L170.28,501.30 L170.10,501.55 L169.90,501.80 L169.71,502.05 L169.50,502.30 L169.25,502.60 L169.00,502.89 L168.75,503.17 L168.50,503.44 L168.25,503.70 L168.00,503.96 L167.75,504.20 L167.50,504.44 L167.25,504.67 L167.00,504.90 L166.75,505.12 L166.50,505.33 L166.23,505.55 L165.92,505.80 L165.59,506.05 L165.25,506.30 L165.00,506.48 L164.75,506.65 L164.50,506.81 L164.12,507.05 L163.75,507.27 L163.50,507.41 L163.25,507.55 L162.76,507.80 L162.50,507.93 L162.23,508.05 L161.75,508.25 L161.50,508.35 L161.00,508.53 L160.75,508.61 L160.25,508.75 L160.00,508.81 L159.50,508.92 L159.00,509.00 L158.50,509.05 L158.25,509.06 L158.25,509.06Z" fill="none" stroke="#474747" stroke-width="0.6"/>
<path d="M185.50,472.56 L185.00,472.60 L184.64,472.55 L184.25,472.42 L184.00,472.28 L183.73,472.05 L183.50,471.78 L183.25,471.33 L183.14,471.05 L183.01,470.55 L182.97,470.30 L182.93,469.80 L182.92,469.30 L182.96,468.80 L183.00,468.47 L183.07,468.05 L183.19,467.55 L183.26,467.30 L183.42,466.80 L183.51,466.55 L183.72,466.05 L183.83,465.80 L184.00,465.47 L184.24,465.05 L184.39,464.80 L184.56,464.55 L184.75,464.28 L185.00,463.96 L185.25,463.68 L185.50,463.42 L185.75,463.19 L186.00,462.98 L186.25,462.79 L186.63,462.55 L187.00,462.36 L187.25,462.26 L187.75,462.13 L188.25,462.09 L188.75,462.17 L189.08,462.30 L189.47,462.55 L189.72,462.80 L189.91,463.05 L190.06,463.30 L190.25,463.76 L190.33,464.05 L190.43,464.55 L190.47,465.05 L190.46,465.55 L190.42,466.05 L190.34,466.55 L190.25,466.95 L190.16,467.30 L190.00,467.78 L189.90,468.05 L189.75,468.41 L189.57,468.80 L189.44,469.05 L189.25,469.39 L189.00,469.80 L188.83,470.05 L188.64,470.30 L188.44,470.55 L188.23,470.80 L188.00,471.05 L187.75,471.30 L187.46,471.55 L187.14,471.80 L186.77,472.05 L186.50,472.20 L186.25,472.32 L185.75,472.50 L185.50,472.56 L185.50,472.56Z" fill="none" stroke="#474747" stroke-width="0.6"/>
<path d="M159.00,510.07 L158.50,510.14 L158.00,510.19 L157.50,510.21 L157.00,510.20 L156.50,510.15 L156.00,510.07 L155.75,510.02 L155.25,509.88 L155.00,509.79 L154.50,509.57 L154.25,509.44 L154.00,509.29 L153.65,509.05 L153.35,508.80 L153.08,508.55 L152.85,508.30 L152.65,508.05 L152.47,507.80 L152.25,507.45 L152.04,507.05 L151.93,506.80 L151.75,506.34 L151.66,506.05 L151.53,505.55 L151.48,505.30 L151.40,504.80 L151.35,504.30 L151.33,503.80 L151.33,503.30 L151.35,502.80 L151.39,502.30 L151.46,501.80 L151.50,501.55 L151.59,501.05 L151.70,500.55 L151.77,500.30 L151.90,499.80 L152.00,499.48 L152.14,499.05 L152.25,498.73 L152.41,498.30 L152.51,498.05 L152.72,497.55 L152.83,497.30 L153.00,496.93 L153.18,496.55 L153.31,496.30 L153.50,495.93 L153.71,495.55 L153.85,495.30 L154.00,495.05 L154.25,494.64 L154.46,494.30 L154.62,494.05 L154.79,493.80 L155.00,493.50 L155.25,493.15 L155.50,492.81 L155.69,492.55 L155.89,492.30 L156.09,492.05 L156.30,491.80 L156.51,491.55 L156.75,491.27 L157.00,490.99 L157.25,490.71 L157.50,490.45 L157.75,490.19 L158.00,489.94 L158.25,489.70 L158.50,489.46 L158.75,489.23 L159.00,489.00 L159.25,488.78 L159.52,488.55 L159.83,488.30 L160.14,488.05 L160.46,487.80 L160.75,487.58 L161.00,487.40 L161.25,487.23 L161.51,487.05 L161.89,486.80 L162.25,486.57 L162.50,486.42 L162.75,486.27 L163.14,486.05 L163.50,485.86 L163.75,485.73 L164.11,485.55 L164.50,485.37 L164.75,485.26 L165.25,485.05 L165.50,484.95 L165.94,484.80 L166.25,484.69 L166.73,484.55 L167.00,484.48 L167.50,484.36 L167.79,484.30 L168.25,484.22 L168.75,484.15 L169.25,484.11 L169.75,484.10 L170.25,484.11 L170.75,484.16 L171.25,484.24 L171.50,484.30 L172.00,484.44 L172.28,484.55 L172.75,484.77 L173.00,484.91 L173.25,485.07 L173.55,485.30 L173.83,485.55 L174.06,485.80 L174.26,486.05 L174.50,486.39 L174.73,486.80 L174.85,487.05 L175.00,487.42 L175.13,487.80 L175.25,488.29 L175.30,488.55 L175.38,489.05 L175.42,489.55 L175.44,490.05 L175.44,490.55 L175.41,491.05 L175.36,491.55 L175.30,492.05 L175.25,492.34 L175.17,492.80 L175.06,493.30 L175.00,493.55 L174.87,494.05 L174.75,494.44 L174.64,494.80 L174.50,495.21 L174.38,495.55 L174.25,495.89 L174.09,496.30 L173.98,496.55 L173.76,497.05 L173.65,497.30 L173.50,497.61 L173.28,498.05 L173.15,498.30 L173.00,498.58 L172.75,499.03 L172.59,499.30 L172.45,499.55 L172.25,499.87 L172.00,500.26 L171.81,500.55 L171.64,500.80 L171.47,501.05 L171.25,501.36 L171.00,501.70 L170.75,502.03 L170.54,502.30 L170.34,502.55 L170.14,502.80 L169.93,503.05 L169.71,503.30 L169.49,503.55 L169.25,503.81 L169.00,504.08 L168.75,504.34 L168.50,504.59 L168.25,504.84 L168.00,505.08 L167.75,505.31 L167.49,505.55 L167.21,505.80 L166.92,506.05 L166.61,506.30 L166.30,506.55 L166.00,506.78 L165.75,506.97 L165.50,507.15 L165.25,507.33 L164.92,507.55 L164.54,507.80 L164.25,507.98 L164.00,508.13 L163.71,508.30 L163.26,508.55 L163.00,508.69 L162.75,508.81 L162.25,509.05 L162.00,509.16 L161.66,509.30 L161.25,509.46 L160.99,509.55 L160.50,509.71 L160.20,509.80 L159.75,509.92 L159.25,510.03 L159.00,510.07 L159.00,510.07Z" fill="none" stroke="#474747" stroke-width="0.6"/>
<path d="M183.50,477.32 L183.00,477.38 L182.50,477.38 L182.02,477.30 L181.75,477.21 L181.45,477.05 L181.12,476.80 L180.89,476.55 L180.72,476.30 L180.50,475.89 L180.37,475.55 L180.25,475.17 L180.16,474.80 L180.08,474.30 L180.02,473.80 L180.00,473.43 L179.99,473.05 L179.99,472.55 L180.00,472.20 L180.02,471.80 L180.07,471.30 L180.12,470.80 L180.20,470.30 L180.25,469.99 L180.33,469.55 L180.44,469.05 L180.50,468.80 L180.63,468.30 L180.75,467.89 L180.86,467.55 L181.00,467.12 L181.11,466.80 L181.25,466.44 L181.41,466.05 L181.52,465.80 L181.74,465.30 L181.86,465.05 L182.00,464.78 L182.25,464.31 L182.40,464.05 L182.55,463.80 L182.75,463.48 L183.00,463.10 L183.21,462.80 L183.39,462.55 L183.58,462.30 L183.78,462.05 L184.00,461.80 L184.25,461.52 L184.50,461.26 L184.75,461.01 L185.00,460.78 L185.27,460.55 L185.58,460.30 L185.92,460.05 L186.25,459.84 L186.50,459.69 L186.75,459.55 L187.25,459.32 L187.50,459.22 L188.00,459.07 L188.25,459.02 L188.75,458.95 L189.25,458.94 L189.75,459.01 L190.00,459.07 L190.50,459.26 L190.75,459.39 L191.00,459.56 L191.30,459.80 L191.55,460.05 L191.76,460.30 L192.00,460.66 L192.21,461.05 L192.33,461.30 L192.50,461.77 L192.58,462.05 L192.70,462.55 L192.75,462.85 L192.81,463.30 L192.84,463.80 L192.84,464.30 L192.82,464.80 L192.78,465.30 L192.75,465.56 L192.68,466.05 L192.58,466.55 L192.50,466.91 L192.40,467.30 L192.26,467.80 L192.18,468.05 L192.00,468.55 L191.91,468.80 L191.75,469.20 L191.60,469.55 L191.48,469.80 L191.25,470.28 L191.11,470.55 L190.98,470.80 L190.75,471.20 L190.54,471.55 L190.38,471.80 L190.22,472.05 L190.00,472.36 L189.75,472.71 L189.50,473.04 L189.29,473.30 L189.08,473.55 L188.86,473.80 L188.63,474.05 L188.39,474.30 L188.14,474.55 L187.88,474.80 L187.61,475.05 L187.31,475.30 L187.01,475.55 L186.75,475.75 L186.50,475.93 L186.25,476.10 L185.93,476.30 L185.50,476.55 L185.25,476.68 L185.00,476.81 L184.50,477.02 L184.25,477.11 L183.75,477.26 L183.50,477.32 L183.50,477.32Z" fill="none" stroke="#474747" stroke-width="0.6"/>
<path d="M159.00,511.06 L158.50,511.15 L158.00,511.21 L157.50,511.25 L157.00,511.27 L156.50,511.26 L156.00,511.21 L155.50,511.14 L155.11,511.05 L154.75,510.95 L154.31,510.80 L154.00,510.67 L153.74,510.55 L153.30,510.30 L153.00,510.10 L152.75,509.91 L152.50,509.70 L152.25,509.46 L152.00,509.18 L151.75,508.87 L151.53,508.55 L151.37,508.30 L151.24,508.05 L151.00,507.55 L150.90,507.30 L150.75,506.87 L150.66,506.55 L150.54,506.05 L150.50,505.80 L150.42,505.30 L150.38,504.80 L150.35,504.30 L150.36,503.80 L150.38,503.30 L150.42,502.80 L150.48,502.30 L150.52,502.05 L150.60,501.55 L150.71,501.05 L150.76,500.80 L150.89,500.30 L151.00,499.92 L151.11,499.55 L151.25,499.13 L151.36,498.80 L151.50,498.44 L151.65,498.05 L151.75,497.80 L151.97,497.30 L152.08,497.05 L152.25,496.70 L152.45,496.30 L152.57,496.05 L152.75,495.72 L152.98,495.30 L153.12,495.05 L153.27,494.80 L153.50,494.42 L153.74,494.05 L153.90,493.80 L154.06,493.55 L154.25,493.28 L154.50,492.92 L154.75,492.58 L154.96,492.30 L155.15,492.05 L155.34,491.80 L155.54,491.55 L155.75,491.30 L156.00,491.00 L156.25,490.71 L156.50,490.43 L156.75,490.16 L157.00,489.89 L157.25,489.63 L157.50,489.38 L157.75,489.13 L158.00,488.89 L158.25,488.65 L158.50,488.42 L158.75,488.20 L159.00,487.98 L159.25,487.77 L159.51,487.55 L159.82,487.30 L160.14,487.05 L160.47,486.80 L160.75,486.59 L161.00,486.41 L161.25,486.23 L161.52,486.05 L161.90,485.80 L162.25,485.58 L162.50,485.42 L162.75,485.27 L163.14,485.05 L163.50,484.85 L163.75,484.71 L164.07,484.55 L164.50,484.34 L164.75,484.22 L165.12,484.05 L165.50,483.89 L165.75,483.79 L166.25,483.59 L166.50,483.50 L167.00,483.33 L167.25,483.25 L167.75,483.11 L168.00,483.04 L168.50,482.92 L169.00,482.82 L169.25,482.77 L169.75,482.69 L170.25,482.63 L170.75,482.60 L171.25,482.58 L171.75,482.58 L172.25,482.61 L172.75,482.66 L173.25,482.75 L173.50,482.81 L174.00,482.96 L174.25,483.06 L174.75,483.30 L175.00,483.45 L175.25,483.63 L175.50,483.84 L175.75,484.10 L176.00,484.42 L176.23,484.80 L176.36,485.05 L176.50,485.39 L176.64,485.80 L176.75,486.25 L176.81,486.55 L176.88,487.05 L176.93,487.55 L176.95,488.05 L176.95,488.55 L176.94,489.05 L176.90,489.55 L176.85,490.05 L176.78,490.55 L176.74,490.80 L176.66,491.30 L176.56,491.80 L176.50,492.05 L176.38,492.55 L176.25,493.03 L176.18,493.30 L176.02,493.80 L175.94,494.05 L175.77,494.55 L175.68,494.80 L175.50,495.28 L175.40,495.55 L175.25,495.90 L175.08,496.30 L174.97,496.55 L174.75,497.03 L174.62,497.30 L174.50,497.55 L174.25,498.03 L174.11,498.30 L173.97,498.55 L173.75,498.95 L173.55,499.30 L173.40,499.55 L173.24,499.80 L173.00,500.19 L172.77,500.55 L172.60,500.80 L172.43,501.05 L172.25,501.30 L172.00,501.66 L171.75,501.99 L171.52,502.30 L171.33,502.55 L171.13,502.80 L170.92,503.05 L170.72,503.30 L170.50,503.55 L170.25,503.84 L170.00,504.12 L169.75,504.39 L169.50,504.66 L169.25,504.92 L169.00,505.17 L168.75,505.42 L168.50,505.66 L168.25,505.89 L168.00,506.12 L167.75,506.35 L167.50,506.56 L167.22,506.80 L166.92,507.05 L166.60,507.30 L166.28,507.55 L166.00,507.76 L165.75,507.94 L165.50,508.12 L165.23,508.30 L164.86,508.55 L164.50,508.78 L164.25,508.93 L164.00,509.08 L163.61,509.30 L163.25,509.50 L163.00,509.63 L162.65,509.80 L162.25,509.99 L162.00,510.10 L161.52,510.30 L161.25,510.41 L160.86,510.55 L160.50,510.67 L160.07,510.80 L159.75,510.89 L159.25,511.01 L159.00,511.06 L159.00,511.06Z" fill="none" stroke="#474747" stroke-width="0.6"/>
<path d="M158.50,512.09 L158.00,512.17 L157.50,512.23 L157.00,512.26 L156.50,512.27 L156.00,512.26 L155.50,512.21 L155.00,512.14 L154.59,512.05 L154.25,511.96 L153.76,511.80 L153.50,511.70 L153.18,511.55 L152.75,511.32 L152.50,511.17 L152.25,511.00 L151.99,510.80 L151.70,510.55 L151.45,510.30 L151.22,510.05 L151.00,509.78 L150.75,509.43 L150.51,509.05 L150.37,508.80 L150.25,508.55 L150.04,508.05 L149.94,507.80 L149.79,507.30 L149.72,507.05 L149.61,506.55 L149.53,506.05 L149.50,505.75 L149.46,505.30 L149.44,504.80 L149.44,504.30 L149.46,503.80 L149.50,503.30 L149.52,503.05 L149.58,502.55 L149.66,502.05 L149.75,501.61 L149.81,501.30 L149.93,500.80 L150.00,500.55 L150.14,500.05 L150.25,499.69 L150.37,499.30 L150.50,498.95 L150.64,498.55 L150.75,498.28 L150.94,497.80 L151.05,497.55 L151.25,497.10 L151.39,496.80 L151.51,496.55 L151.75,496.07 L151.89,495.80 L152.02,495.55 L152.25,495.14 L152.44,494.80 L152.59,494.55 L152.75,494.29 L153.00,493.89 L153.22,493.55 L153.38,493.30 L153.55,493.05 L153.75,492.76 L154.00,492.41 L154.25,492.07 L154.45,491.80 L154.64,491.55 L154.84,491.30 L155.04,491.05 L155.25,490.80 L155.50,490.50 L155.75,490.21 L156.00,489.93 L156.25,489.65 L156.50,489.38 L156.75,489.12 L157.00,488.86 L157.25,488.61 L157.50,488.36 L157.75,488.12 L158.00,487.89 L158.25,487.66 L158.50,487.43 L158.75,487.21 L159.00,487.00 L159.25,486.79 L159.54,486.55 L159.85,486.30 L160.17,486.05 L160.50,485.80 L160.75,485.61 L161.00,485.43 L161.25,485.25 L161.55,485.05 L161.92,484.80 L162.25,484.58 L162.50,484.42 L162.75,484.27 L163.11,484.05 L163.50,483.82 L163.75,483.67 L164.00,483.54 L164.44,483.30 L164.75,483.14 L165.00,483.01 L165.43,482.80 L165.75,482.64 L166.00,482.53 L166.50,482.30 L166.75,482.19 L167.09,482.05 L167.50,481.88 L167.75,481.78 L168.25,481.58 L168.50,481.48 L168.98,481.30 L169.25,481.19 L169.64,481.05 L170.00,480.91 L170.29,480.80 L170.75,480.61 L171.00,480.51 L171.48,480.30 L171.75,480.16 L172.00,480.04 L172.42,479.80 L172.75,479.59 L173.00,479.41 L173.25,479.21 L173.50,478.99 L173.75,478.75 L174.00,478.48 L174.25,478.19 L174.50,477.87 L174.73,477.55 L174.90,477.30 L175.07,477.05 L175.25,476.76 L175.50,476.33 L175.65,476.05 L175.79,475.80 L176.00,475.38 L176.15,475.05 L176.27,474.80 L176.49,474.30 L176.59,474.05 L176.75,473.65 L176.88,473.30 L177.00,472.98 L177.15,472.55 L177.25,472.27 L177.41,471.80 L177.50,471.53 L177.66,471.05 L177.75,470.79 L177.91,470.30 L178.00,470.04 L178.16,469.55 L178.25,469.30 L178.43,468.80 L178.52,468.55 L178.70,468.05 L178.79,467.80 L178.99,467.30 L179.09,467.05 L179.25,466.66 L179.40,466.30 L179.51,466.05 L179.74,465.55 L179.85,465.30 L180.00,465.00 L180.22,464.55 L180.35,464.30 L180.50,464.02 L180.75,463.57 L180.91,463.30 L181.06,463.05 L181.25,462.73 L181.50,462.34 L181.70,462.05 L181.87,461.80 L182.05,461.55 L182.25,461.27 L182.50,460.95 L182.75,460.64 L183.00,460.34 L183.25,460.06 L183.49,459.80 L183.73,459.55 L183.98,459.30 L184.24,459.05 L184.50,458.82 L184.75,458.60 L185.00,458.40 L185.25,458.21 L185.50,458.02 L185.83,457.80 L186.23,457.55 L186.50,457.39 L186.75,457.26 L187.20,457.05 L187.50,456.93 L187.85,456.80 L188.25,456.68 L188.75,456.57 L189.00,456.53 L189.50,456.48 L190.00,456.49 L190.50,456.54 L190.75,456.59 L191.25,456.74 L191.50,456.84 L191.92,457.05 L192.25,457.26 L192.50,457.45 L192.75,457.66 L193.00,457.92 L193.25,458.21 L193.49,458.55 L193.65,458.80 L193.79,459.05 L194.00,459.48 L194.14,459.80 L194.25,460.12 L194.38,460.55 L194.50,461.03 L194.56,461.30 L194.64,461.80 L194.69,462.30 L194.72,462.80 L194.74,463.30 L194.73,463.80 L194.71,464.30 L194.67,464.80 L194.61,465.30 L194.53,465.80 L194.49,466.05 L194.40,466.55 L194.28,467.05 L194.22,467.30 L194.09,467.80 L194.00,468.10 L193.86,468.55 L193.75,468.88 L193.60,469.30 L193.50,469.58 L193.31,470.05 L193.21,470.30 L193.00,470.78 L192.88,471.05 L192.75,471.32 L192.51,471.80 L192.39,472.05 L192.25,472.31 L192.00,472.76 L191.84,473.05 L191.69,473.30 L191.50,473.61 L191.25,474.01 L191.06,474.30 L190.90,474.55 L190.73,474.80 L190.50,475.12 L190.25,475.47 L190.01,475.80 L189.82,476.05 L189.62,476.30 L189.42,476.55 L189.22,476.80 L189.00,477.07 L188.75,477.37 L188.50,477.66 L188.25,477.95 L188.00,478.23 L187.75,478.51 L187.50,478.78 L187.25,479.05 L187.02,479.30 L186.78,479.55 L186.55,479.80 L186.31,480.05 L186.07,480.30 L185.84,480.55 L185.60,480.80 L185.36,481.05 L185.13,481.30 L184.89,481.55 L184.66,481.80 L184.43,482.05 L184.20,482.30 L183.97,482.55 L183.75,482.80 L183.50,483.08 L183.25,483.36 L183.00,483.65 L182.75,483.94 L182.50,484.23 L182.25,484.52 L182.01,484.80 L181.80,485.05 L181.60,485.30 L181.39,485.55 L181.19,485.80 L181.00,486.05 L180.75,486.37 L180.50,486.72 L180.27,487.05 L180.11,487.30 L179.96,487.55 L179.75,487.91 L179.54,488.30 L179.42,488.55 L179.25,488.89 L179.07,489.30 L178.96,489.55 L178.75,490.05 L178.65,490.30 L178.50,490.68 L178.36,491.05 L178.25,491.33 L178.07,491.80 L177.97,492.05 L177.78,492.55 L177.68,492.80 L177.50,493.25 L177.38,493.55 L177.25,493.86 L177.07,494.30 L176.96,494.55 L176.75,495.03 L176.63,495.30 L176.50,495.58 L176.28,496.05 L176.16,496.30 L176.00,496.62 L175.78,497.05 L175.65,497.30 L175.50,497.58 L175.25,498.04 L175.11,498.30 L174.97,498.55 L174.75,498.92 L174.52,499.30 L174.37,499.55 L174.21,499.80 L174.00,500.13 L173.75,500.52 L173.56,500.80 L173.39,501.05 L173.21,501.30 L173.00,501.60 L172.75,501.94 L172.50,502.28 L172.29,502.55 L172.10,502.80 L171.90,503.05 L171.69,503.30 L171.48,503.55 L171.25,503.83 L171.00,504.12 L170.75,504.40 L170.50,504.67 L170.25,504.94 L170.00,505.21 L169.75,505.46 L169.50,505.71 L169.25,505.96 L169.00,506.20 L168.75,506.43 L168.50,506.66 L168.25,506.89 L168.00,507.11 L167.75,507.32 L167.47,507.55 L167.17,507.80 L166.85,508.05 L166.53,508.30 L166.25,508.51 L166.00,508.69 L165.75,508.87 L165.48,509.05 L165.11,509.30 L164.75,509.53 L164.50,509.69 L164.25,509.83 L163.88,510.05 L163.50,510.26 L163.25,510.40 L162.95,510.55 L162.50,510.77 L162.25,510.89 L161.88,511.05 L161.50,511.21 L161.25,511.31 L160.75,511.49 L160.50,511.58 L160.00,511.74 L159.75,511.81 L159.25,511.94 L158.75,512.05 L158.50,512.09 L158.50,512.09Z" fill="none" stroke="#474747" stroke-width="0.6"/>
<path d="M158.00,513.08 L157.50,513.16 L157.00,513.21 L156.50,513.23 L156.00,513.24 L155.50,513.22 L155.00,513.17 L154.50,513.09 L154.25,513.04 L153.75,512.92 L153.37,512.80 L153.00,512.67 L152.73,512.55 L152.25,512.31 L152.00,512.17 L151.75,512.01 L151.46,511.80 L151.15,511.55 L150.87,511.30 L150.63,511.05 L150.41,510.80 L150.21,510.55 L150.00,510.26 L149.75,509.87 L149.57,509.55 L149.45,509.30 L149.25,508.85 L149.13,508.55 L149.00,508.14 L148.90,507.80 L148.78,507.30 L148.74,507.05 L148.66,506.55 L148.60,506.05 L148.57,505.55 L148.56,505.05 L148.57,504.55 L148.59,504.05 L148.63,503.55 L148.69,503.05 L148.75,502.68 L148.81,502.30 L148.90,501.80 L149.00,501.38 L149.08,501.05 L149.21,500.55 L149.28,500.30 L149.43,499.80 L149.51,499.55 L149.68,499.05 L149.77,498.80 L149.96,498.30 L150.06,498.05 L150.25,497.61 L150.38,497.30 L150.50,497.05 L150.73,496.55 L150.85,496.30 L151.00,496.01 L151.24,495.55 L151.37,495.30 L151.51,495.05 L151.75,494.63 L151.94,494.30 L152.09,494.05 L152.25,493.80 L152.50,493.41 L152.73,493.05 L152.90,492.80 L153.07,492.55 L153.25,492.30 L153.50,491.95 L153.75,491.61 L153.98,491.30 L154.17,491.05 L154.37,490.80 L154.57,490.55 L154.78,490.30 L155.00,490.04 L155.25,489.74 L155.50,489.45 L155.75,489.17 L156.00,488.90 L156.25,488.63 L156.50,488.37 L156.75,488.11 L157.00,487.86 L157.25,487.61 L157.50,487.37 L157.75,487.13 L158.00,486.90 L158.25,486.67 L158.50,486.45 L158.75,486.23 L159.00,486.01 L159.26,485.80 L159.55,485.55 L159.86,485.30 L160.17,485.05 L160.50,484.80 L160.75,484.60 L161.00,484.41 L161.25,484.23 L161.50,484.05 L161.85,483.80 L162.21,483.55 L162.50,483.34 L162.75,483.17 L163.00,483.01 L163.32,482.80 L163.70,482.55 L164.00,482.35 L164.25,482.19 L164.50,482.03 L164.87,481.80 L165.25,481.56 L165.50,481.39 L165.75,481.23 L166.04,481.05 L166.42,480.80 L166.75,480.58 L167.00,480.40 L167.25,480.22 L167.50,480.04 L167.81,479.80 L168.12,479.55 L168.41,479.30 L168.68,479.05 L168.94,478.80 L169.19,478.55 L169.43,478.30 L169.65,478.05 L169.87,477.80 L170.09,477.55 L170.30,477.30 L170.51,477.05 L170.75,476.76 L171.00,476.45 L171.25,476.15 L171.50,475.84 L171.74,475.55 L171.94,475.30 L172.14,475.05 L172.34,474.80 L172.54,474.55 L172.75,474.29 L173.00,473.97 L173.25,473.65 L173.50,473.32 L173.70,473.05 L173.88,472.80 L174.06,472.55 L174.25,472.27 L174.50,471.90 L174.73,471.55 L174.88,471.30 L175.04,471.05 L175.25,470.69 L175.48,470.30 L175.61,470.05 L175.75,469.80 L176.00,469.34 L176.15,469.05 L176.28,468.80 L176.50,468.37 L176.66,468.05 L176.79,467.80 L177.00,467.37 L177.16,467.05 L177.28,466.80 L177.50,466.37 L177.66,466.05 L177.79,465.80 L178.00,465.38 L178.17,465.05 L178.30,464.80 L178.50,464.44 L178.71,464.05 L178.85,463.80 L179.00,463.53 L179.25,463.10 L179.43,462.80 L179.58,462.55 L179.75,462.27 L180.00,461.88 L180.21,461.55 L180.38,461.30 L180.55,461.05 L180.75,460.77 L181.00,460.43 L181.25,460.09 L181.48,459.80 L181.68,459.55 L181.88,459.30 L182.09,459.05 L182.31,458.80 L182.54,458.55 L182.77,458.30 L183.01,458.05 L183.26,457.80 L183.52,457.55 L183.79,457.30 L184.08,457.05 L184.38,456.80 L184.69,456.55 L185.00,456.31 L185.25,456.13 L185.50,455.96 L185.75,455.80 L186.16,455.55 L186.50,455.36 L186.75,455.23 L187.13,455.05 L187.50,454.89 L187.75,454.79 L188.25,454.62 L188.50,454.55 L189.00,454.43 L189.50,454.35 L190.00,454.30 L190.25,454.30 L190.55,454.30 L191.00,454.33 L191.50,454.41 L192.00,454.55 L192.25,454.63 L192.65,454.80 L193.00,454.98 L193.25,455.13 L193.50,455.30 L193.81,455.55 L194.09,455.80 L194.33,456.05 L194.55,456.30 L194.75,456.56 L195.00,456.92 L195.23,457.30 L195.37,457.55 L195.50,457.82 L195.71,458.30 L195.80,458.55 L195.97,459.05 L196.04,459.30 L196.17,459.80 L196.25,460.22 L196.31,460.55 L196.38,461.05 L196.43,461.55 L196.46,462.05 L196.48,462.55 L196.48,463.05 L196.46,463.55 L196.43,464.05 L196.39,464.55 L196.34,465.05 L196.26,465.55 L196.23,465.80 L196.14,466.30 L196.04,466.80 L195.99,467.05 L195.87,467.55 L195.75,468.02 L195.68,468.30 L195.53,468.80 L195.46,469.05 L195.30,469.55 L195.21,469.80 L195.04,470.30 L194.95,470.55 L194.75,471.05 L194.66,471.30 L194.50,471.68 L194.34,472.05 L194.23,472.30 L194.01,472.80 L193.89,473.05 L193.75,473.34 L193.52,473.80 L193.40,474.05 L193.25,474.34 L193.01,474.80 L192.87,475.05 L192.73,475.30 L192.50,475.72 L192.31,476.05 L192.17,476.30 L192.00,476.58 L191.75,477.00 L191.57,477.30 L191.41,477.55 L191.25,477.81 L191.00,478.21 L190.79,478.55 L190.63,478.80 L190.46,479.05 L190.25,479.38 L190.00,479.76 L189.81,480.05 L189.64,480.30 L189.48,480.55 L189.25,480.89 L189.00,481.26 L188.81,481.55 L188.64,481.80 L188.47,482.05 L188.25,482.38 L188.00,482.75 L187.79,483.05 L187.62,483.30 L187.45,483.55 L187.25,483.84 L187.00,484.20 L186.76,484.55 L186.58,484.80 L186.41,485.05 L186.23,485.30 L186.00,485.62 L185.75,485.97 L185.51,486.30 L185.32,486.55 L185.14,486.80 L184.95,487.05 L184.75,487.31 L184.50,487.64 L184.25,487.95 L184.00,488.27 L183.77,488.55 L183.57,488.80 L183.36,489.05 L183.15,489.30 L182.94,489.55 L182.72,489.80 L182.50,490.05 L182.25,490.34 L182.00,490.62 L181.75,490.90 L181.50,491.17 L181.25,491.45 L181.00,491.73 L180.75,492.01 L180.50,492.29 L180.28,492.55 L180.06,492.80 L179.86,493.05 L179.66,493.30 L179.46,493.55 L179.25,493.82 L179.00,494.16 L178.75,494.51 L178.55,494.80 L178.39,495.05 L178.22,495.30 L178.00,495.63 L177.75,496.01 L177.57,496.30 L177.41,496.55 L177.25,496.80 L177.00,497.19 L176.78,497.55 L176.62,497.80 L176.46,498.05 L176.25,498.37 L176.00,498.76 L175.81,499.05 L175.65,499.30 L175.48,499.55 L175.25,499.88 L175.00,500.25 L174.79,500.55 L174.62,500.80 L174.44,501.05 L174.25,501.30 L174.00,501.64 L173.75,501.97 L173.50,502.30 L173.31,502.55 L173.11,502.80 L172.91,503.05 L172.70,503.30 L172.49,503.55 L172.25,503.84 L172.00,504.13 L171.75,504.42 L171.50,504.69 L171.25,504.97 L171.00,505.23 L170.75,505.50 L170.50,505.75 L170.25,506.01 L170.00,506.25 L169.75,506.50 L169.50,506.73 L169.25,506.97 L169.00,507.20 L168.75,507.42 L168.50,507.64 L168.25,507.85 L168.00,508.06 L167.71,508.30 L167.40,508.55 L167.08,508.80 L166.75,509.05 L166.50,509.23 L166.25,509.42 L166.00,509.59 L165.69,509.80 L165.31,510.05 L165.00,510.25 L164.75,510.41 L164.50,510.56 L164.09,510.80 L163.75,510.99 L163.50,511.13 L163.17,511.30 L162.75,511.51 L162.50,511.64 L162.14,511.80 L161.75,511.97 L161.50,512.08 L161.00,512.27 L160.75,512.36 L160.25,512.53 L160.00,512.61 L159.50,512.76 L159.25,512.82 L158.75,512.94 L158.25,513.04 L158.00,513.08 L158.00,513.08Z" fill="none" stroke="#474747" stroke-width="0.6"/>
<path d="M157.25,514.08 L156.75,514.13 L156.25,514.17 L155.75,514.18 L155.25,514.16 L154.75,514.12 L154.25,514.06 L154.00,514.02 L153.50,513.91 L153.11,513.80 L152.75,513.69 L152.39,513.55 L152.00,513.38 L151.75,513.25 L151.39,513.05 L151.01,512.80 L150.75,512.61 L150.50,512.41 L150.25,512.19 L150.00,511.95 L149.75,511.67 L149.50,511.37 L149.27,511.05 L149.10,510.80 L148.95,510.55 L148.75,510.18 L148.56,509.80 L148.46,509.55 L148.27,509.05 L148.19,508.80 L148.05,508.30 L147.99,508.05 L147.89,507.55 L147.82,507.05 L147.77,506.55 L147.75,506.30 L147.72,505.80 L147.72,505.30 L147.73,504.80 L147.75,504.49 L147.78,504.05 L147.83,503.55 L147.90,503.05 L147.99,502.55 L148.03,502.30 L148.13,501.80 L148.25,501.31 L148.31,501.05 L148.45,500.55 L148.52,500.30 L148.67,499.80 L148.76,499.55 L148.93,499.05 L149.02,498.80 L149.21,498.30 L149.31,498.05 L149.50,497.61 L149.63,497.30 L149.75,497.04 L149.98,496.55 L150.09,496.30 L150.25,496.00 L150.48,495.55 L150.61,495.30 L150.75,495.05 L151.00,494.60 L151.17,494.30 L151.31,494.05 L151.50,493.75 L151.75,493.35 L151.94,493.05 L152.10,492.80 L152.27,492.55 L152.50,492.21 L152.75,491.85 L152.96,491.55 L153.14,491.30 L153.33,491.05 L153.52,490.80 L153.75,490.50 L154.00,490.18 L154.25,489.87 L154.50,489.57 L154.73,489.30 L154.94,489.05 L155.16,488.80 L155.38,488.55 L155.60,488.30 L155.83,488.05 L156.06,487.80 L156.30,487.55 L156.54,487.30 L156.79,487.05 L157.03,486.80 L157.29,486.55 L157.54,486.30 L157.80,486.05 L158.07,485.80 L158.34,485.55 L158.61,485.30 L158.88,485.05 L159.16,484.80 L159.45,484.55 L159.74,484.30 L160.00,484.07 L160.25,483.85 L160.50,483.64 L160.75,483.43 L161.00,483.22 L161.25,483.01 L161.50,482.80 L161.80,482.55 L162.09,482.30 L162.39,482.05 L162.68,481.80 L162.96,481.55 L163.24,481.30 L163.50,481.06 L163.75,480.83 L164.00,480.58 L164.25,480.33 L164.50,480.07 L164.75,479.80 L164.98,479.55 L165.19,479.30 L165.40,479.05 L165.60,478.80 L165.80,478.55 L166.00,478.29 L166.25,477.96 L166.50,477.63 L166.75,477.30 L166.94,477.05 L167.12,476.80 L167.31,476.55 L167.51,476.30 L167.75,475.98 L168.00,475.66 L168.25,475.35 L168.49,475.05 L168.69,474.80 L168.89,474.55 L169.10,474.30 L169.31,474.05 L169.52,473.80 L169.75,473.53 L170.00,473.24 L170.25,472.94 L170.50,472.66 L170.75,472.37 L171.00,472.08 L171.25,471.80 L171.46,471.55 L171.68,471.30 L171.90,471.05 L172.11,470.80 L172.32,470.55 L172.53,470.30 L172.75,470.04 L173.00,469.73 L173.25,469.42 L173.50,469.10 L173.73,468.80 L173.92,468.55 L174.10,468.30 L174.29,468.05 L174.50,467.75 L174.75,467.39 L174.98,467.05 L175.14,466.80 L175.31,466.55 L175.50,466.26 L175.75,465.86 L175.94,465.55 L176.10,465.30 L176.26,465.05 L176.50,464.66 L176.72,464.30 L176.87,464.05 L177.03,463.80 L177.25,463.44 L177.49,463.05 L177.65,462.80 L177.81,462.55 L178.00,462.25 L178.25,461.86 L178.45,461.55 L178.62,461.30 L178.79,461.05 L179.00,460.74 L179.25,460.38 L179.49,460.05 L179.67,459.80 L179.85,459.55 L180.04,459.30 L180.25,459.03 L180.50,458.72 L180.75,458.41 L181.00,458.11 L181.25,457.82 L181.49,457.55 L181.71,457.30 L181.94,457.05 L182.18,456.80 L182.43,456.55 L182.68,456.30 L182.95,456.05 L183.22,455.80 L183.50,455.55 L183.75,455.34 L184.00,455.13 L184.25,454.93 L184.50,454.74 L184.76,454.55 L185.12,454.30 L185.49,454.05 L185.75,453.89 L186.00,453.74 L186.34,453.55 L186.75,453.33 L187.00,453.21 L187.36,453.05 L187.75,452.89 L188.00,452.79 L188.50,452.63 L188.77,452.55 L189.25,452.43 L189.75,452.34 L190.08,452.30 L190.50,452.26 L191.00,452.25 L191.50,452.28 L191.75,452.30 L192.25,452.38 L192.75,452.51 L193.00,452.59 L193.50,452.78 L193.75,452.90 L194.04,453.05 L194.44,453.30 L194.75,453.52 L195.00,453.72 L195.25,453.94 L195.50,454.18 L195.75,454.45 L196.00,454.76 L196.22,455.05 L196.39,455.30 L196.55,455.55 L196.75,455.90 L196.96,456.30 L197.08,456.55 L197.25,456.95 L197.39,457.30 L197.50,457.64 L197.63,458.05 L197.75,458.50 L197.82,458.80 L197.93,459.30 L198.00,459.74 L198.05,460.05 L198.11,460.55 L198.15,461.05 L198.18,461.55 L198.20,462.05 L198.20,462.55 L198.20,463.05 L198.18,463.55 L198.14,464.05 L198.10,464.55 L198.05,465.05 L198.00,465.39 L197.95,465.80 L197.87,466.30 L197.78,466.80 L197.73,467.05 L197.63,467.55 L197.51,468.05 L197.46,468.30 L197.33,468.80 L197.25,469.10 L197.13,469.55 L197.00,469.98 L196.91,470.30 L196.75,470.79 L196.67,471.05 L196.50,471.54 L196.41,471.80 L196.25,472.24 L196.14,472.55 L196.00,472.91 L195.85,473.30 L195.75,473.55 L195.54,474.05 L195.44,474.30 L195.25,474.74 L195.12,475.05 L195.00,475.31 L194.78,475.80 L194.66,476.05 L194.50,476.40 L194.31,476.80 L194.19,477.05 L194.00,477.44 L193.82,477.80 L193.70,478.05 L193.50,478.44 L193.31,478.80 L193.18,479.05 L193.00,479.40 L192.79,479.80 L192.65,480.05 L192.50,480.33 L192.25,480.79 L192.11,481.05 L191.97,481.30 L191.75,481.69 L191.54,482.05 L191.40,482.30 L191.25,482.56 L191.00,482.99 L190.82,483.30 L190.67,483.55 L190.50,483.82 L190.25,484.24 L190.06,484.55 L189.90,484.80 L189.74,485.05 L189.50,485.43 L189.26,485.80 L189.10,486.05 L188.93,486.30 L188.75,486.57 L188.50,486.94 L188.25,487.30 L188.08,487.55 L187.90,487.80 L187.73,488.05 L187.50,488.36 L187.25,488.71 L187.00,489.04 L186.81,489.30 L186.62,489.55 L186.42,489.80 L186.23,490.05 L186.00,490.34 L185.75,490.65 L185.50,490.96 L185.25,491.26 L185.01,491.55 L184.79,491.80 L184.58,492.05 L184.36,492.30 L184.14,492.55 L183.91,492.80 L183.69,493.05 L183.46,493.30 L183.22,493.55 L182.99,493.80 L182.75,494.05 L182.50,494.30 L182.25,494.56 L182.00,494.81 L181.75,495.05 L181.50,495.30 L181.24,495.55 L180.98,495.80 L180.72,496.05 L180.45,496.30 L180.18,496.55 L179.92,496.80 L179.65,497.05 L179.39,497.30 L179.12,497.55 L178.86,497.80 L178.61,498.05 L178.36,498.30 L178.11,498.55 L177.87,498.80 L177.63,499.05 L177.40,499.30 L177.17,499.55 L176.94,499.80 L176.72,500.05 L176.49,500.30 L176.25,500.58 L176.00,500.87 L175.75,501.16 L175.50,501.45 L175.25,501.74 L175.00,502.03 L174.77,502.30 L174.56,502.55 L174.35,502.80 L174.13,503.05 L173.91,503.30 L173.69,503.55 L173.46,503.80 L173.23,504.05 L173.00,504.31 L172.75,504.58 L172.50,504.85 L172.25,505.11 L172.00,505.37 L171.75,505.63 L171.50,505.88 L171.25,506.13 L171.00,506.38 L170.75,506.62 L170.50,506.86 L170.25,507.09 L170.00,507.32 L169.75,507.55 L169.47,507.80 L169.18,508.05 L168.89,508.30 L168.59,508.55 L168.28,508.80 L168.00,509.03 L167.75,509.23 L167.50,509.42 L167.25,509.61 L166.98,509.80 L166.64,510.05 L166.28,510.30 L166.00,510.49 L165.75,510.66 L165.50,510.82 L165.14,511.05 L164.75,511.29 L164.50,511.44 L164.25,511.58 L163.86,511.80 L163.50,511.99 L163.25,512.12 L162.89,512.30 L162.50,512.49 L162.25,512.61 L161.80,512.80 L161.50,512.93 L161.19,513.05 L160.75,513.22 L160.50,513.30 L160.00,513.47 L159.74,513.55 L159.25,513.69 L158.80,513.80 L158.50,513.87 L158.00,513.97 L157.50,514.05 L157.25,514.08 L157.25,514.08Z" fill="none" stroke="#474747" stroke-width="0.6"/>
<path d="M290.40,499.80 L289.90,499.90 L289.40,499.87 L289.15,499.79 L288.80,499.55 L288.59,499.30 L288.40,498.84 L288.35,498.55 L288.37,498.05 L288.41,497.80 L288.57,497.30 L288.67,497.05 L288.90,496.65 L289.15,496.30 L289.37,496.05 L289.63,495.80 L289.90,495.59 L290.15,495.42 L290.40,495.29 L290.90,495.10 L291.15,495.05 L291.65,495.05 L291.90,495.11 L292.27,495.30 L292.52,495.55 L292.67,495.80 L292.81,496.30 L292.81,496.80 L292.72,497.30 L292.64,497.55 L292.41,498.05 L292.26,498.30 L292.08,498.55 L291.88,498.80 L291.63,499.05 L291.33,499.30 L290.96,499.55 L290.65,499.71 L290.40,499.80 L290.40,499.80Z" fill="none" stroke="#474747" stroke-width="0.6"/>
<path d="M289.90,501.36 L289.40,501.42 L288.90,501.41 L288.44,501.30 L288.15,501.18 L287.90,501.02 L287.64,500.80 L287.40,500.51 L287.15,500.05 L287.07,499.80 L286.97,499.30 L286.95,498.80 L287.00,498.30 L287.11,497.80 L287.18,497.55 L287.37,497.05 L287.48,496.80 L287.65,496.48 L287.90,496.06 L288.08,495.80 L288.28,495.55 L288.49,495.30 L288.73,495.05 L288.99,494.80 L289.29,494.55 L289.63,494.30 L289.90,494.13 L290.15,493.99 L290.56,493.80 L290.90,493.68 L291.40,493.55 L291.65,493.52 L292.15,493.52 L292.42,493.55 L292.90,493.69 L293.15,493.82 L293.47,494.05 L293.71,494.30 L293.90,494.59 L294.10,495.05 L294.16,495.30 L294.23,495.80 L294.22,496.30 L294.15,496.80 L294.09,497.05 L293.94,497.55 L293.84,497.80 L293.65,498.22 L293.47,498.55 L293.32,498.80 L293.15,499.05 L292.90,499.37 L292.65,499.67 L292.40,499.93 L292.15,500.16 L291.90,500.37 L291.65,500.56 L291.28,500.80 L290.90,501.01 L290.65,501.12 L290.15,501.30 L289.90,501.36 L289.90,501.36Z" fill="none" stroke="#474747" stroke-width="0.6"/>
<path d="M289.65,502.85 L289.15,502.93 L288.65,502.95 L288.15,502.90 L287.71,502.80 L287.40,502.69 L287.13,502.55 L286.76,502.30 L286.48,502.05 L286.27,501.80 L286.10,501.55 L285.90,501.18 L285.76,500.80 L285.65,500.39 L285.60,500.05 L285.56,499.55 L285.58,499.05 L285.64,498.55 L285.69,498.30 L285.81,497.80 L285.90,497.50 L286.07,497.05 L286.17,496.80 L286.40,496.32 L286.55,496.05 L286.69,495.80 L286.90,495.48 L287.15,495.12 L287.40,494.80 L287.61,494.55 L287.84,494.30 L288.09,494.05 L288.35,493.80 L288.64,493.55 L288.90,493.35 L289.15,493.16 L289.40,492.99 L289.72,492.80 L290.15,492.57 L290.40,492.45 L290.79,492.30 L291.15,492.18 L291.65,492.06 L291.90,492.02 L292.40,491.98 L292.90,492.00 L293.20,492.05 L293.65,492.17 L293.96,492.30 L294.38,492.55 L294.65,492.77 L294.90,493.04 L295.09,493.30 L295.24,493.55 L295.40,493.91 L295.52,494.30 L295.62,494.80 L295.65,495.26 L295.65,495.54 L295.64,495.80 L295.58,496.30 L295.47,496.80 L295.40,497.08 L295.25,497.55 L295.15,497.81 L294.93,498.30 L294.81,498.55 L294.65,498.85 L294.40,499.26 L294.21,499.55 L294.03,499.80 L293.84,500.05 L293.63,500.30 L293.40,500.56 L293.15,500.82 L292.90,501.06 L292.63,501.30 L292.32,501.55 L291.98,501.80 L291.65,502.02 L291.40,502.17 L291.15,502.31 L290.65,502.54 L290.40,502.64 L289.90,502.79 L289.65,502.85 L289.65,502.85Z" fill="none" stroke="#474747" stroke-width="0.6"/>
<path d="M289.40,504.34 L288.90,504.43 L288.40,504.47 L287.90,504.46 L287.40,504.40 L286.99,504.30 L286.65,504.19 L286.34,504.05 L285.91,503.80 L285.65,503.60 L285.40,503.37 L285.15,503.10 L284.93,502.80 L284.78,502.55 L284.65,502.30 L284.44,501.80 L284.37,501.55 L284.26,501.05 L284.19,500.55 L284.17,500.05 L284.19,499.55 L284.24,499.05 L284.32,498.55 L284.40,498.22 L284.51,497.80 L284.65,497.37 L284.77,497.05 L284.90,496.73 L285.09,496.30 L285.22,496.05 L285.40,495.71 L285.64,495.30 L285.80,495.05 L285.96,494.80 L286.15,494.54 L286.40,494.21 L286.65,493.90 L286.90,493.61 L287.15,493.35 L287.40,493.09 L287.65,492.86 L287.90,492.63 L288.15,492.42 L288.40,492.23 L288.65,492.04 L289.00,491.80 L289.40,491.55 L289.65,491.41 L289.90,491.27 L290.37,491.05 L290.65,490.93 L291.02,490.80 L291.40,490.68 L291.90,490.56 L292.15,490.52 L292.65,490.46 L293.15,490.45 L293.65,490.49 L294.02,490.55 L294.40,490.65 L294.81,490.80 L295.15,490.97 L295.40,491.12 L295.65,491.31 L295.92,491.55 L296.15,491.81 L296.40,492.16 L296.62,492.55 L296.73,492.80 L296.90,493.30 L296.96,493.55 L297.04,494.05 L297.08,494.55 L297.08,495.05 L297.04,495.55 L296.97,496.05 L296.90,496.38 L296.80,496.80 L296.65,497.29 L296.56,497.55 L296.40,497.96 L296.26,498.30 L296.14,498.55 L295.90,499.02 L295.74,499.30 L295.59,499.55 L295.40,499.86 L295.15,500.22 L294.91,500.55 L294.72,500.80 L294.51,501.05 L294.29,501.30 L294.06,501.55 L293.81,501.80 L293.55,502.05 L293.27,502.30 L292.98,502.55 L292.65,502.80 L292.40,502.98 L292.15,503.15 L291.90,503.31 L291.49,503.55 L291.15,503.73 L290.90,503.85 L290.40,504.05 L290.15,504.14 L289.65,504.29 L289.40,504.34 L289.40,504.34Z" fill="none" stroke="#474747" stroke-width="0.6"/>
<path d="M289.15,505.84 L288.65,505.92 L288.15,505.98 L287.65,505.99 L287.15,505.96 L286.65,505.89 L286.27,505.80 L285.90,505.68 L285.57,505.55 L285.15,505.33 L284.90,505.17 L284.65,504.99 L284.40,504.78 L284.15,504.52 L283.90,504.23 L283.65,503.87 L283.46,503.55 L283.34,503.30 L283.15,502.84 L283.05,502.55 L282.93,502.05 L282.88,501.80 L282.82,501.30 L282.78,500.80 L282.79,500.30 L282.82,499.80 L282.88,499.30 L282.92,499.05 L283.02,498.55 L283.14,498.05 L283.22,497.80 L283.38,497.30 L283.47,497.05 L283.65,496.60 L283.78,496.30 L283.90,496.05 L284.15,495.55 L284.29,495.30 L284.43,495.05 L284.65,494.69 L284.90,494.31 L285.08,494.05 L285.26,493.80 L285.45,493.55 L285.65,493.30 L285.90,493.00 L286.15,492.72 L286.40,492.45 L286.65,492.20 L286.90,491.96 L287.15,491.73 L287.40,491.51 L287.65,491.30 L287.97,491.05 L288.31,490.80 L288.65,490.57 L288.90,490.41 L289.15,490.26 L289.52,490.05 L289.90,489.85 L290.15,489.73 L290.58,489.55 L290.90,489.42 L291.27,489.30 L291.65,489.19 L292.15,489.07 L292.40,489.02 L292.90,488.95 L293.40,488.92 L293.90,488.92 L294.40,488.96 L294.90,489.05 L295.15,489.11 L295.65,489.28 L295.90,489.38 L296.23,489.55 L296.62,489.80 L296.90,490.02 L297.15,490.25 L297.40,490.52 L297.61,490.80 L297.78,491.05 L297.92,491.30 L298.15,491.80 L298.24,492.05 L298.38,492.55 L298.43,492.80 L298.50,493.30 L298.54,493.80 L298.54,494.30 L298.51,494.80 L298.45,495.30 L298.40,495.62 L298.32,496.05 L298.19,496.55 L298.12,496.80 L297.97,497.30 L297.88,497.55 L297.68,498.05 L297.58,498.30 L297.40,498.69 L297.22,499.05 L297.09,499.30 L296.90,499.64 L296.66,500.05 L296.50,500.30 L296.33,500.55 L296.15,500.81 L295.90,501.16 L295.65,501.48 L295.40,501.78 L295.17,502.05 L294.94,502.30 L294.71,502.55 L294.46,502.80 L294.19,503.05 L293.92,503.30 L293.65,503.53 L293.40,503.73 L293.15,503.93 L292.90,504.11 L292.63,504.30 L292.24,504.55 L291.90,504.75 L291.65,504.89 L291.35,505.05 L290.90,505.26 L290.65,505.37 L290.17,505.55 L289.90,505.64 L289.40,505.78 L289.15,505.84 L289.15,505.84Z" fill="none" stroke="#474747" stroke-width="0.6"/>
<path d="M288.90,507.33 L288.40,507.42 L287.90,507.48 L287.40,507.51 L286.90,507.51 L286.40,507.47 L285.90,507.38 L285.55,507.30 L285.15,507.18 L284.81,507.05 L284.40,506.86 L284.15,506.72 L283.89,506.55 L283.56,506.30 L283.27,506.05 L283.02,505.80 L282.80,505.55 L282.61,505.30 L282.40,504.99 L282.15,504.55 L282.03,504.30 L281.90,503.99 L281.74,503.55 L281.65,503.22 L281.55,502.80 L281.47,502.30 L281.42,501.80 L281.40,501.44 L281.39,501.05 L281.40,500.80 L281.43,500.30 L281.48,499.80 L281.56,499.30 L281.65,498.84 L281.72,498.55 L281.85,498.05 L281.92,497.80 L282.09,497.30 L282.18,497.05 L282.37,496.55 L282.48,496.30 L282.65,495.92 L282.83,495.55 L282.96,495.30 L283.15,494.94 L283.38,494.55 L283.53,494.30 L283.69,494.05 L283.90,493.73 L284.15,493.37 L284.38,493.05 L284.58,492.80 L284.78,492.55 L284.98,492.30 L285.20,492.05 L285.43,491.80 L285.66,491.55 L285.91,491.30 L286.16,491.05 L286.43,490.80 L286.71,490.55 L287.01,490.30 L287.32,490.05 L287.65,489.80 L287.90,489.62 L288.15,489.44 L288.40,489.28 L288.76,489.05 L289.15,488.82 L289.40,488.69 L289.66,488.55 L290.15,488.32 L290.40,488.21 L290.79,488.05 L291.15,487.92 L291.52,487.80 L291.90,487.69 L292.40,487.57 L292.65,487.52 L293.15,487.44 L293.65,487.39 L294.15,487.37 L294.65,487.38 L295.15,487.42 L295.65,487.50 L295.90,487.55 L296.40,487.69 L296.70,487.80 L297.15,488.00 L297.40,488.13 L297.68,488.30 L298.03,488.55 L298.32,488.80 L298.58,489.05 L298.79,489.30 L298.98,489.55 L299.15,489.80 L299.40,490.25 L299.54,490.55 L299.65,490.85 L299.79,491.30 L299.90,491.80 L299.94,492.05 L300.00,492.55 L300.03,493.05 L300.03,493.55 L300.00,494.05 L299.95,494.55 L299.90,494.91 L299.84,495.30 L299.73,495.80 L299.65,496.12 L299.53,496.55 L299.40,496.98 L299.29,497.30 L299.15,497.69 L299.01,498.05 L298.90,498.30 L298.68,498.80 L298.56,499.05 L298.40,499.36 L298.16,499.80 L298.02,500.05 L297.87,500.30 L297.65,500.66 L297.40,501.05 L297.23,501.30 L297.05,501.55 L296.86,501.80 L296.65,502.08 L296.40,502.39 L296.15,502.69 L295.90,502.97 L295.65,503.24 L295.40,503.50 L295.15,503.75 L294.90,503.99 L294.65,504.22 L294.40,504.44 L294.15,504.65 L293.90,504.85 L293.65,505.05 L293.31,505.30 L292.95,505.55 L292.65,505.74 L292.40,505.90 L292.14,506.05 L291.69,506.30 L291.40,506.45 L291.15,506.57 L290.65,506.78 L290.40,506.88 L289.93,507.05 L289.65,507.14 L289.15,507.27 L288.90,507.33 L288.90,507.33Z" fill="none" stroke="#474747" stroke-width="0.6"/>
<path d="M288.65,508.82 L288.15,508.92 L287.65,508.98 L287.15,509.02 L286.65,509.03 L286.15,509.02 L285.65,508.97 L285.15,508.88 L284.82,508.80 L284.40,508.68 L284.06,508.55 L283.65,508.37 L283.40,508.24 L283.07,508.05 L282.70,507.80 L282.40,507.56 L282.15,507.34 L281.90,507.09 L281.65,506.80 L281.45,506.55 L281.28,506.30 L281.12,506.05 L280.90,505.67 L280.72,505.30 L280.62,505.05 L280.43,504.55 L280.36,504.30 L280.23,503.80 L280.15,503.39 L280.09,503.05 L280.04,502.55 L280.01,502.05 L280.01,501.55 L280.02,501.05 L280.06,500.55 L280.12,500.05 L280.16,499.80 L280.25,499.30 L280.36,498.80 L280.42,498.55 L280.55,498.05 L280.65,497.73 L280.79,497.30 L280.90,497.00 L281.07,496.55 L281.18,496.30 L281.40,495.80 L281.51,495.55 L281.65,495.27 L281.89,494.80 L282.03,494.55 L282.17,494.30 L282.40,493.92 L282.63,493.55 L282.79,493.30 L282.96,493.05 L283.15,492.78 L283.40,492.44 L283.65,492.11 L283.90,491.80 L284.11,491.55 L284.32,491.30 L284.55,491.05 L284.78,490.80 L285.02,490.55 L285.26,490.30 L285.52,490.05 L285.79,489.80 L286.07,489.55 L286.36,489.30 L286.65,489.06 L286.90,488.87 L287.15,488.67 L287.40,488.49 L287.67,488.30 L288.05,488.05 L288.40,487.83 L288.65,487.68 L288.90,487.53 L289.33,487.30 L289.65,487.13 L289.90,487.01 L290.38,486.80 L290.65,486.69 L291.01,486.55 L291.40,486.41 L291.76,486.30 L292.15,486.19 L292.65,486.07 L292.90,486.01 L293.40,485.93 L293.90,485.86 L294.40,485.82 L294.90,485.81 L295.40,485.82 L295.90,485.85 L296.40,485.92 L296.90,486.01 L297.15,486.07 L297.65,486.22 L297.90,486.31 L298.40,486.52 L298.65,486.64 L298.92,486.80 L299.31,487.05 L299.63,487.30 L299.90,487.55 L300.14,487.80 L300.35,488.05 L300.54,488.30 L300.70,488.55 L300.90,488.92 L301.07,489.30 L301.17,489.55 L301.33,490.05 L301.40,490.36 L301.48,490.80 L301.55,491.30 L301.58,491.80 L301.60,492.30 L301.58,492.80 L301.55,493.30 L301.50,493.80 L301.42,494.30 L301.38,494.55 L301.28,495.05 L301.17,495.55 L301.10,495.80 L300.96,496.30 L300.88,496.55 L300.72,497.05 L300.63,497.30 L300.44,497.80 L300.34,498.05 L300.15,498.49 L300.01,498.80 L299.89,499.05 L299.65,499.54 L299.51,499.80 L299.38,500.05 L299.15,500.45 L298.94,500.80 L298.79,501.05 L298.63,501.30 L298.40,501.64 L298.15,502.00 L297.93,502.30 L297.75,502.55 L297.55,502.80 L297.35,503.05 L297.14,503.30 L296.90,503.58 L296.65,503.87 L296.40,504.14 L296.15,504.40 L295.90,504.65 L295.65,504.89 L295.40,505.12 L295.15,505.35 L294.90,505.56 L294.62,505.80 L294.30,506.05 L293.98,506.30 L293.65,506.54 L293.40,506.71 L293.15,506.88 L292.88,507.05 L292.47,507.30 L292.15,507.48 L291.90,507.62 L291.54,507.80 L291.15,507.99 L290.90,508.10 L290.40,508.30 L290.15,508.39 L289.68,508.55 L289.40,508.64 L288.90,508.77 L288.65,508.82 L288.65,508.82Z" fill="none" stroke="#474747" stroke-width="0.6"/>
<path d="M286.40,510.56 L285.90,510.55 L285.65,510.54 L285.15,510.50 L284.65,510.43 L284.15,510.32 L283.90,510.25 L283.40,510.09 L283.15,509.99 L282.72,509.80 L282.40,509.63 L282.15,509.49 L281.86,509.30 L281.52,509.05 L281.22,508.80 L280.95,508.55 L280.71,508.30 L280.49,508.05 L280.29,507.80 L280.11,507.55 L279.90,507.22 L279.66,506.80 L279.53,506.55 L279.40,506.26 L279.21,505.80 L279.13,505.55 L278.97,505.05 L278.90,504.75 L278.80,504.30 L278.72,503.80 L278.67,503.30 L278.65,503.05 L278.62,502.55 L278.62,502.05 L278.64,501.55 L278.65,501.30 L278.70,500.80 L278.76,500.30 L278.84,499.80 L278.90,499.50 L278.99,499.05 L279.12,498.55 L279.19,498.30 L279.33,497.80 L279.42,497.55 L279.59,497.05 L279.68,496.80 L279.88,496.30 L279.98,496.05 L280.15,495.67 L280.32,495.30 L280.44,495.05 L280.65,494.64 L280.83,494.30 L280.97,494.05 L281.15,493.74 L281.40,493.33 L281.57,493.05 L281.74,492.80 L281.91,492.55 L282.15,492.20 L282.40,491.86 L282.63,491.55 L282.82,491.30 L283.03,491.05 L283.23,490.80 L283.45,490.55 L283.67,490.30 L283.90,490.05 L284.15,489.78 L284.40,489.52 L284.65,489.27 L284.90,489.03 L285.15,488.80 L285.43,488.55 L285.72,488.30 L286.02,488.05 L286.33,487.80 L286.65,487.56 L286.90,487.37 L287.15,487.19 L287.40,487.02 L287.73,486.80 L288.13,486.55 L288.40,486.38 L288.65,486.24 L289.00,486.05 L289.40,485.84 L289.65,485.71 L290.00,485.55 L290.40,485.37 L290.65,485.27 L291.15,485.08 L291.40,484.99 L291.90,484.83 L292.15,484.75 L292.65,484.62 L292.96,484.55 L293.40,484.46 L293.90,484.37 L294.40,484.30 L294.65,484.28 L295.15,484.24 L295.65,484.22 L296.15,484.22 L296.65,484.24 L297.15,484.28 L297.40,484.31 L297.90,484.38 L298.40,484.48 L298.70,484.55 L299.15,484.67 L299.55,484.80 L299.90,484.93 L300.18,485.05 L300.65,485.28 L300.90,485.42 L301.15,485.58 L301.45,485.80 L301.74,486.05 L301.99,486.30 L302.20,486.55 L302.40,486.84 L302.65,487.27 L302.78,487.55 L302.90,487.85 L303.04,488.30 L303.15,488.76 L303.20,489.05 L303.27,489.55 L303.30,490.05 L303.32,490.55 L303.31,491.05 L303.29,491.55 L303.25,492.05 L303.19,492.55 L303.15,492.84 L303.08,493.30 L302.99,493.80 L302.90,494.22 L302.83,494.55 L302.70,495.05 L302.63,495.30 L302.49,495.80 L302.40,496.09 L302.25,496.55 L302.15,496.84 L301.98,497.30 L301.89,497.55 L301.68,498.05 L301.58,498.30 L301.40,498.70 L301.24,499.05 L301.12,499.30 L300.90,499.73 L300.73,500.05 L300.60,500.30 L300.40,500.65 L300.16,501.05 L300.01,501.30 L299.85,501.55 L299.65,501.87 L299.40,502.24 L299.18,502.55 L299.00,502.80 L298.82,503.05 L298.63,503.30 L298.40,503.59 L298.15,503.90 L297.90,504.20 L297.65,504.48 L297.40,504.76 L297.15,505.03 L296.90,505.29 L296.65,505.54 L296.40,505.78 L296.15,506.02 L295.90,506.25 L295.65,506.47 L295.40,506.69 L295.15,506.90 L294.90,507.10 L294.64,507.30 L294.30,507.55 L293.95,507.80 L293.65,508.01 L293.40,508.17 L293.15,508.33 L292.79,508.55 L292.40,508.78 L292.15,508.91 L291.89,509.05 L291.40,509.29 L291.15,509.41 L290.81,509.55 L290.40,509.72 L290.15,509.81 L289.65,509.98 L289.40,510.06 L288.90,510.20 L288.48,510.30 L288.15,510.37 L287.65,510.45 L287.15,510.51 L286.65,510.55 L286.40,510.56 L286.40,510.56Z" fill="none" stroke="#474747" stroke-width="0.6"/>
<path d="M309.40,480.32 L308.90,480.45 L308.40,480.33 L308.24,480.05 L308.20,479.55 L308.25,479.05 L308.35,478.55 L308.41,478.30 L308.55,477.80 L308.65,477.47 L308.80,477.05 L308.90,476.77 L309.09,476.30 L309.19,476.05 L309.40,475.58 L309.54,475.30 L309.66,475.05 L309.90,474.60 L310.08,474.30 L310.23,474.05 L310.40,473.77 L310.65,473.41 L310.90,473.06 L311.11,472.80 L311.33,472.55 L311.56,472.30 L311.82,472.05 L312.11,471.80 L312.40,471.58 L312.65,471.43 L312.90,471.30 L313.40,471.15 L313.90,471.18 L314.17,471.30 L314.42,471.55 L314.65,472.05 L314.70,472.30 L314.73,472.80 L314.69,473.30 L314.65,473.58 L314.54,474.05 L314.40,474.53 L314.30,474.80 L314.15,475.17 L313.98,475.55 L313.85,475.80 L313.65,476.17 L313.43,476.55 L313.27,476.80 L313.10,477.05 L312.90,477.33 L312.65,477.65 L312.40,477.96 L312.15,478.24 L311.90,478.51 L311.65,478.76 L311.40,478.99 L311.15,479.21 L310.90,479.41 L310.65,479.60 L310.36,479.80 L309.95,480.05 L309.65,480.21 L309.40,480.32 L309.40,480.32Z" fill="none" stroke="#474747" stroke-width="0.6"/>
<path d="M286.40,512.06 L285.90,512.08 L285.40,512.08 L284.90,512.06 L284.65,512.03 L284.15,511.97 L283.65,511.88 L283.34,511.80 L282.90,511.68 L282.54,511.55 L282.15,511.40 L281.90,511.28 L281.45,511.05 L281.15,510.88 L280.90,510.71 L280.65,510.54 L280.35,510.30 L280.06,510.05 L279.79,509.80 L279.56,509.55 L279.34,509.30 L279.14,509.05 L278.90,508.72 L278.65,508.34 L278.48,508.05 L278.35,507.80 L278.15,507.39 L278.00,507.05 L277.90,506.78 L277.73,506.30 L277.65,506.01 L277.53,505.55 L277.43,505.05 L277.39,504.80 L277.32,504.30 L277.27,503.80 L277.24,503.30 L277.23,502.80 L277.24,502.30 L277.26,501.80 L277.31,501.30 L277.37,500.80 L277.40,500.55 L277.48,500.05 L277.58,499.55 L277.65,499.25 L277.76,498.80 L277.89,498.30 L277.96,498.05 L278.12,497.55 L278.21,497.30 L278.39,496.80 L278.48,496.55 L278.65,496.13 L278.79,495.80 L278.90,495.55 L279.13,495.05 L279.25,494.80 L279.40,494.50 L279.64,494.05 L279.77,493.80 L279.92,493.55 L280.15,493.15 L280.36,492.80 L280.52,492.55 L280.68,492.30 L280.90,491.98 L281.15,491.62 L281.38,491.30 L281.56,491.05 L281.75,490.80 L281.95,490.55 L282.15,490.30 L282.40,490.00 L282.65,489.71 L282.90,489.43 L283.15,489.15 L283.40,488.89 L283.65,488.63 L283.90,488.38 L284.15,488.14 L284.40,487.90 L284.65,487.67 L284.90,487.45 L285.15,487.24 L285.40,487.03 L285.68,486.80 L286.00,486.55 L286.33,486.30 L286.65,486.07 L286.90,485.89 L287.15,485.72 L287.41,485.55 L287.81,485.30 L288.15,485.09 L288.40,484.95 L288.67,484.80 L289.14,484.55 L289.40,484.42 L289.65,484.30 L290.15,484.07 L290.40,483.96 L290.79,483.80 L291.15,483.66 L291.46,483.55 L291.90,483.40 L292.23,483.30 L292.65,483.18 L293.15,483.05 L293.40,482.99 L293.90,482.89 L294.40,482.80 L294.65,482.76 L295.15,482.69 L295.65,482.64 L296.15,482.60 L296.65,482.58 L297.15,482.56 L297.65,482.56 L298.15,482.56 L298.65,482.58 L299.15,482.60 L299.65,482.62 L300.15,482.66 L300.65,482.69 L301.15,482.72 L301.65,482.76 L302.15,482.79 L302.40,482.80 L302.90,482.83 L303.40,482.86 L303.90,482.88 L304.40,482.91 L304.90,482.97 L305.29,483.05 L305.65,483.23 L305.90,483.53 L305.99,483.80 L306.06,484.30 L306.06,484.80 L306.03,485.30 L305.98,485.80 L305.93,486.30 L305.89,486.55 L305.83,487.05 L305.76,487.55 L305.69,488.05 L305.65,488.30 L305.57,488.80 L305.49,489.30 L305.40,489.80 L305.36,490.05 L305.26,490.55 L305.16,491.05 L305.11,491.30 L305.01,491.80 L304.90,492.27 L304.84,492.55 L304.71,493.05 L304.65,493.30 L304.52,493.80 L304.40,494.22 L304.31,494.55 L304.15,495.05 L304.07,495.30 L303.91,495.80 L303.82,496.05 L303.65,496.52 L303.55,496.80 L303.40,497.18 L303.25,497.55 L303.15,497.80 L302.93,498.30 L302.82,498.55 L302.65,498.92 L302.47,499.30 L302.34,499.55 L302.15,499.93 L301.95,500.30 L301.82,500.55 L301.65,500.85 L301.40,501.28 L301.24,501.55 L301.08,501.80 L300.90,502.08 L300.65,502.47 L300.42,502.80 L300.25,503.05 L300.07,503.30 L299.89,503.55 L299.65,503.87 L299.40,504.19 L299.15,504.50 L298.90,504.80 L298.69,505.05 L298.47,505.30 L298.25,505.55 L298.02,505.80 L297.78,506.05 L297.54,506.30 L297.29,506.55 L297.03,506.80 L296.76,507.05 L296.49,507.30 L296.20,507.55 L295.91,507.80 L295.65,508.02 L295.40,508.22 L295.15,508.41 L294.90,508.60 L294.63,508.80 L294.28,509.05 L293.91,509.30 L293.65,509.47 L293.40,509.63 L293.11,509.80 L292.68,510.05 L292.40,510.21 L292.15,510.34 L291.73,510.55 L291.40,510.71 L291.15,510.82 L290.65,511.04 L290.40,511.14 L289.96,511.30 L289.65,511.41 L289.19,511.55 L288.90,511.63 L288.40,511.76 L288.15,511.82 L287.65,511.91 L287.15,511.99 L286.65,512.04 L286.40,512.06 L286.40,512.06Z" fill="none" stroke="#474747" stroke-width="0.6"/>
<path d="M286.40,513.55 L285.90,513.59 L285.40,513.62 L284.90,513.61 L284.40,513.59 L283.96,513.55 L283.65,513.51 L283.15,513.43 L282.65,513.32 L282.40,513.25 L281.90,513.10 L281.65,513.01 L281.15,512.80 L280.90,512.69 L280.64,512.55 L280.20,512.30 L279.90,512.11 L279.65,511.93 L279.40,511.74 L279.15,511.53 L278.89,511.30 L278.63,511.05 L278.40,510.80 L278.15,510.52 L277.90,510.20 L277.65,509.85 L277.45,509.55 L277.30,509.30 L277.15,509.02 L276.91,508.55 L276.80,508.30 L276.65,507.93 L276.51,507.55 L276.40,507.22 L276.28,506.80 L276.16,506.30 L276.10,506.05 L276.01,505.55 L275.94,505.05 L275.90,504.62 L275.87,504.30 L275.85,503.80 L275.84,503.30 L275.85,502.80 L275.88,502.30 L275.90,502.03 L275.94,501.55 L276.01,501.05 L276.08,500.55 L276.15,500.19 L276.22,499.80 L276.33,499.30 L276.40,499.04 L276.53,498.55 L276.65,498.13 L276.75,497.80 L276.90,497.35 L277.00,497.05 L277.15,496.65 L277.28,496.30 L277.40,496.01 L277.59,495.55 L277.70,495.30 L277.90,494.88 L278.06,494.55 L278.18,494.30 L278.40,493.88 L278.58,493.55 L278.71,493.30 L278.90,492.98 L279.15,492.56 L279.31,492.30 L279.47,492.05 L279.65,491.77 L279.90,491.39 L280.14,491.05 L280.31,490.80 L280.50,490.55 L280.69,490.30 L280.90,490.02 L281.15,489.71 L281.40,489.40 L281.65,489.10 L281.90,488.82 L282.14,488.55 L282.36,488.30 L282.60,488.05 L282.84,487.80 L283.09,487.55 L283.34,487.30 L283.60,487.05 L283.87,486.80 L284.15,486.55 L284.40,486.33 L284.65,486.11 L284.90,485.91 L285.15,485.70 L285.40,485.51 L285.67,485.30 L286.01,485.05 L286.36,484.80 L286.65,484.60 L286.90,484.43 L287.15,484.27 L287.49,484.05 L287.90,483.80 L288.15,483.66 L288.40,483.52 L288.80,483.30 L289.15,483.12 L289.40,483.00 L289.82,482.80 L290.15,482.65 L290.40,482.54 L290.90,482.34 L291.15,482.24 L291.65,482.06 L291.90,481.97 L292.40,481.81 L292.65,481.74 L293.15,481.60 L293.40,481.53 L293.90,481.41 L294.40,481.31 L294.65,481.26 L295.15,481.16 L295.65,481.08 L295.90,481.04 L296.40,480.97 L296.90,480.90 L297.40,480.84 L297.74,480.80 L298.15,480.75 L298.65,480.68 L299.15,480.60 L299.45,480.55 L299.90,480.46 L300.40,480.34 L300.65,480.27 L301.15,480.10 L301.40,480.00 L301.82,479.80 L302.15,479.62 L302.40,479.46 L302.65,479.29 L302.95,479.05 L303.23,478.80 L303.49,478.55 L303.72,478.30 L303.93,478.05 L304.15,477.78 L304.40,477.45 L304.65,477.09 L304.85,476.80 L305.01,476.55 L305.17,476.30 L305.40,475.92 L305.62,475.55 L305.77,475.30 L305.92,475.05 L306.15,474.65 L306.35,474.30 L306.50,474.05 L306.65,473.79 L306.90,473.36 L307.08,473.05 L307.23,472.80 L307.40,472.53 L307.65,472.12 L307.85,471.80 L308.01,471.55 L308.18,471.30 L308.40,470.97 L308.65,470.60 L308.86,470.30 L309.05,470.05 L309.23,469.80 L309.42,469.55 L309.65,469.26 L309.90,468.96 L310.15,468.66 L310.40,468.38 L310.65,468.11 L310.90,467.85 L311.15,467.60 L311.40,467.36 L311.65,467.13 L311.90,466.92 L312.15,466.71 L312.40,466.52 L312.71,466.30 L313.08,466.05 L313.40,465.86 L313.65,465.72 L314.02,465.55 L314.40,465.39 L314.67,465.30 L315.15,465.18 L315.65,465.11 L316.15,465.11 L316.65,465.20 L316.95,465.30 L317.40,465.53 L317.65,465.71 L317.90,465.95 L318.15,466.25 L318.35,466.55 L318.48,466.80 L318.65,467.20 L318.76,467.55 L318.88,468.05 L318.93,468.30 L318.99,468.80 L319.01,469.30 L319.01,469.80 L318.98,470.30 L318.93,470.80 L318.90,471.05 L318.82,471.55 L318.72,472.05 L318.65,472.36 L318.54,472.80 L318.40,473.29 L318.32,473.55 L318.15,474.05 L318.06,474.30 L317.90,474.74 L317.78,475.05 L317.65,475.35 L317.45,475.80 L317.34,476.05 L317.15,476.44 L316.97,476.80 L316.84,477.05 L316.65,477.40 L316.43,477.80 L316.28,478.05 L316.13,478.30 L315.90,478.68 L315.66,479.05 L315.50,479.30 L315.33,479.55 L315.15,479.82 L314.90,480.17 L314.65,480.52 L314.44,480.80 L314.25,481.05 L314.06,481.30 L313.86,481.55 L313.65,481.81 L313.40,482.12 L313.15,482.42 L312.90,482.71 L312.65,483.00 L312.40,483.29 L312.17,483.55 L311.95,483.80 L311.73,484.05 L311.51,484.30 L311.28,484.55 L311.06,484.80 L310.84,485.05 L310.63,485.30 L310.40,485.57 L310.15,485.87 L309.90,486.18 L309.65,486.50 L309.42,486.80 L309.24,487.05 L309.07,487.30 L308.90,487.55 L308.65,487.94 L308.44,488.30 L308.30,488.55 L308.15,488.82 L307.90,489.30 L307.78,489.55 L307.65,489.83 L307.44,490.30 L307.34,490.55 L307.15,491.00 L307.03,491.30 L306.90,491.64 L306.75,492.05 L306.65,492.30 L306.47,492.80 L306.38,493.05 L306.20,493.55 L306.11,493.80 L305.92,494.30 L305.83,494.55 L305.65,495.04 L305.55,495.30 L305.40,495.69 L305.26,496.05 L305.15,496.33 L304.96,496.80 L304.86,497.05 L304.65,497.53 L304.53,497.80 L304.40,498.10 L304.19,498.55 L304.08,498.80 L303.90,499.16 L303.71,499.55 L303.58,499.80 L303.40,500.14 L303.18,500.55 L303.05,500.80 L302.90,501.05 L302.65,501.49 L302.46,501.80 L302.31,502.05 L302.15,502.30 L301.90,502.69 L301.66,503.05 L301.50,503.30 L301.32,503.55 L301.14,503.80 L300.90,504.13 L300.65,504.47 L300.40,504.79 L300.19,505.05 L299.99,505.30 L299.78,505.55 L299.57,505.80 L299.35,506.05 L299.13,506.30 L298.90,506.55 L298.65,506.82 L298.40,507.08 L298.15,507.33 L297.90,507.58 L297.65,507.82 L297.40,508.05 L297.13,508.30 L296.85,508.55 L296.56,508.80 L296.26,509.05 L295.95,509.30 L295.65,509.53 L295.40,509.73 L295.15,509.91 L294.90,510.09 L294.60,510.30 L294.23,510.55 L293.90,510.77 L293.65,510.92 L293.40,511.07 L293.01,511.30 L292.65,511.50 L292.40,511.64 L292.09,511.80 L291.65,512.02 L291.40,512.13 L291.02,512.30 L290.65,512.46 L290.40,512.56 L289.90,512.74 L289.65,512.83 L289.15,512.99 L288.90,513.06 L288.40,513.20 L287.96,513.30 L287.65,513.37 L287.15,513.46 L286.65,513.52 L286.40,513.55 L286.40,513.55Z" fill="none" stroke="#474747" stroke-width="0.6"/>
<path d="M286.15,515.06 L285.65,515.11 L285.15,515.14 L284.65,515.15 L284.15,515.14 L283.65,515.11 L283.15,515.06 L282.90,515.03 L282.40,514.94 L281.90,514.83 L281.65,514.76 L281.15,514.61 L280.90,514.52 L280.40,514.33 L280.15,514.21 L279.82,514.05 L279.40,513.82 L279.15,513.67 L278.90,513.51 L278.61,513.30 L278.28,513.05 L277.98,512.80 L277.71,512.55 L277.46,512.30 L277.23,512.05 L277.01,511.80 L276.81,511.55 L276.62,511.30 L276.40,510.98 L276.15,510.59 L275.98,510.30 L275.85,510.05 L275.65,509.65 L275.49,509.30 L275.39,509.05 L275.20,508.55 L275.11,508.30 L274.96,507.80 L274.90,507.55 L274.78,507.05 L274.68,506.55 L274.64,506.30 L274.57,505.80 L274.51,505.30 L274.48,504.80 L274.46,504.30 L274.46,503.80 L274.47,503.30 L274.49,502.80 L274.53,502.30 L274.58,501.80 L274.65,501.30 L274.68,501.05 L274.77,500.55 L274.87,500.05 L274.92,499.80 L275.03,499.30 L275.15,498.86 L275.23,498.55 L275.38,498.05 L275.46,497.80 L275.62,497.30 L275.71,497.05 L275.89,496.55 L275.99,496.30 L276.15,495.90 L276.29,495.55 L276.40,495.30 L276.63,494.80 L276.74,494.55 L276.90,494.23 L277.12,493.80 L277.25,493.55 L277.40,493.27 L277.65,492.82 L277.80,492.55 L277.95,492.30 L278.15,491.97 L278.40,491.57 L278.57,491.30 L278.74,491.05 L278.91,490.80 L279.15,490.45 L279.40,490.10 L279.62,489.80 L279.81,489.55 L280.00,489.30 L280.20,489.05 L280.40,488.80 L280.65,488.50 L280.90,488.21 L281.15,487.92 L281.40,487.64 L281.65,487.37 L281.90,487.11 L282.15,486.85 L282.40,486.60 L282.65,486.35 L282.90,486.11 L283.15,485.88 L283.40,485.65 L283.65,485.42 L283.90,485.21 L284.15,484.99 L284.40,484.79 L284.69,484.55 L285.01,484.30 L285.34,484.05 L285.65,483.82 L285.90,483.64 L286.15,483.47 L286.40,483.30 L286.78,483.05 L287.15,482.82 L287.40,482.66 L287.65,482.51 L288.02,482.30 L288.40,482.09 L288.65,481.95 L288.95,481.80 L289.40,481.58 L289.65,481.46 L290.00,481.30 L290.40,481.12 L290.65,481.02 L291.15,480.82 L291.40,480.72 L291.89,480.55 L292.15,480.46 L292.65,480.30 L292.90,480.22 L293.40,480.08 L293.65,480.01 L294.15,479.87 L294.46,479.80 L294.90,479.69 L295.40,479.58 L295.65,479.52 L296.15,479.41 L296.65,479.31 L296.90,479.25 L297.40,479.13 L297.74,479.05 L298.15,478.94 L298.62,478.80 L298.90,478.70 L299.31,478.55 L299.65,478.41 L299.90,478.29 L300.35,478.05 L300.65,477.87 L300.90,477.70 L301.15,477.51 L301.41,477.30 L301.69,477.05 L301.95,476.80 L302.19,476.55 L302.41,476.30 L302.65,476.02 L302.90,475.70 L303.15,475.37 L303.38,475.05 L303.55,474.80 L303.72,474.55 L303.90,474.28 L304.15,473.89 L304.36,473.55 L304.52,473.30 L304.68,473.05 L304.90,472.69 L305.14,472.30 L305.29,472.05 L305.45,471.80 L305.65,471.47 L305.90,471.07 L306.07,470.80 L306.23,470.55 L306.40,470.28 L306.65,469.90 L306.88,469.55 L307.05,469.30 L307.22,469.05 L307.40,468.79 L307.65,468.44 L307.90,468.09 L308.12,467.80 L308.31,467.55 L308.50,467.30 L308.70,467.05 L308.90,466.80 L309.15,466.50 L309.40,466.20 L309.65,465.92 L309.90,465.65 L310.15,465.38 L310.40,465.12 L310.65,464.87 L310.90,464.63 L311.15,464.40 L311.40,464.17 L311.65,463.95 L311.90,463.75 L312.15,463.55 L312.48,463.30 L312.82,463.05 L313.15,462.83 L313.40,462.67 L313.65,462.52 L314.05,462.30 L314.40,462.12 L314.65,462.01 L315.15,461.81 L315.40,461.72 L315.90,461.58 L316.15,461.52 L316.65,461.44 L317.15,461.41 L317.65,461.43 L318.15,461.50 L318.40,461.57 L318.90,461.75 L319.15,461.88 L319.44,462.05 L319.77,462.30 L320.04,462.55 L320.27,462.80 L320.46,463.05 L320.65,463.33 L320.90,463.78 L321.03,464.05 L321.15,464.35 L321.30,464.80 L321.40,465.17 L321.49,465.55 L321.57,466.05 L321.63,466.55 L321.65,466.82 L321.67,467.30 L321.68,467.80 L321.66,468.30 L321.65,468.55 L321.61,469.05 L321.55,469.55 L321.48,470.05 L321.40,470.50 L321.34,470.80 L321.24,471.30 L321.15,471.67 L321.06,472.05 L320.92,472.55 L320.84,472.80 L320.69,473.30 L320.61,473.55 L320.43,474.05 L320.34,474.30 L320.15,474.80 L320.05,475.05 L319.90,475.41 L319.74,475.80 L319.62,476.05 L319.40,476.54 L319.28,476.80 L319.15,477.06 L318.90,477.55 L318.77,477.80 L318.64,478.05 L318.40,478.49 L318.22,478.80 L318.08,479.05 L317.90,479.35 L317.65,479.77 L317.48,480.05 L317.32,480.30 L317.15,480.56 L316.90,480.94 L316.66,481.30 L316.49,481.55 L316.31,481.80 L316.13,482.05 L315.90,482.37 L315.65,482.71 L315.40,483.04 L315.21,483.30 L315.01,483.55 L314.82,483.80 L314.62,484.05 L314.40,484.32 L314.15,484.63 L313.90,484.94 L313.65,485.24 L313.40,485.54 L313.19,485.80 L312.98,486.05 L312.77,486.30 L312.56,486.55 L312.35,486.80 L312.14,487.05 L311.90,487.34 L311.65,487.64 L311.40,487.95 L311.15,488.27 L310.93,488.55 L310.74,488.80 L310.55,489.05 L310.37,489.30 L310.15,489.61 L309.90,489.97 L309.68,490.30 L309.52,490.55 L309.37,490.80 L309.15,491.16 L308.92,491.55 L308.78,491.80 L308.65,492.05 L308.40,492.52 L308.26,492.80 L308.13,493.05 L307.90,493.53 L307.77,493.80 L307.65,494.06 L307.42,494.55 L307.31,494.80 L307.15,495.15 L306.97,495.55 L306.86,495.80 L306.65,496.27 L306.52,496.55 L306.40,496.82 L306.18,497.30 L306.07,497.55 L305.90,497.90 L305.71,498.30 L305.59,498.55 L305.40,498.93 L305.22,499.30 L305.09,499.55 L304.90,499.91 L304.69,500.30 L304.56,500.55 L304.40,500.83 L304.15,501.28 L303.99,501.55 L303.85,501.80 L303.65,502.12 L303.40,502.53 L303.23,502.80 L303.07,503.05 L302.90,503.30 L302.65,503.67 L302.40,504.03 L302.21,504.30 L302.03,504.55 L301.85,504.80 L301.65,505.06 L301.40,505.39 L301.15,505.71 L300.90,506.01 L300.66,506.30 L300.45,506.55 L300.23,506.80 L300.01,507.05 L299.79,507.30 L299.55,507.55 L299.32,507.80 L299.08,508.05 L298.83,508.30 L298.57,508.55 L298.31,508.80 L298.05,509.05 L297.77,509.30 L297.49,509.55 L297.20,509.80 L296.91,510.05 L296.65,510.26 L296.40,510.46 L296.15,510.66 L295.90,510.85 L295.63,511.05 L295.28,511.30 L294.93,511.55 L294.65,511.74 L294.40,511.90 L294.15,512.06 L293.76,512.30 L293.40,512.52 L293.15,512.66 L292.90,512.80 L292.43,513.05 L292.15,513.20 L291.90,513.32 L291.41,513.55 L291.15,513.67 L290.84,513.80 L290.40,513.98 L290.15,514.07 L289.65,514.25 L289.40,514.34 L288.90,514.50 L288.65,514.57 L288.15,514.70 L287.72,514.80 L287.40,514.87 L286.90,514.96 L286.40,515.03 L286.15,515.06 L286.15,515.06Z" fill="none" stroke="#474747" stroke-width="0.6"/>
<path d="M131.8,341.3 L183.8,295.7 L217.4,291.5 M217.4,341.9 L166.4,377.9 L169.8,345.1 L131.8,341.3" fill="none" stroke="#333" stroke-width="0.9"/>
<path d="M260.9,341.4 L313.8,296.0 L347.2,291.5 M347.2,341.9 L296.4,377.9 L300.6,345.6 L260.9,341.4" fill="none" stroke="#333" stroke-width="0.9"/>
<path d="M133.7,482.4 L182.4,435.7 L217.2,432.3 M217.2,481.6 L169.2,519.6 L174.0,485.8 L133.7,482.4" fill="none" stroke="#333" stroke-width="0.9"/>
<path d="M264.1,482.5 L311.8,435.6 L347.3,432.4 M347.3,481.6 L299.9,519.3 L304.9,486.5 L264.1,482.5" fill="none" stroke="#333" stroke-width="0.9"/>
<line x1="428.3" y1="315.6" x2="428.3" y2="506.6" stroke="#000" stroke-width="2.3" stroke-linecap="butt"/>
<line x1="420.7" y1="505.4" x2="428.3" y2="505.4" stroke="#000" stroke-width="2" stroke-linecap="butt"/>
<line x1="420.7" y1="473.95" x2="428.3" y2="473.95" stroke="#000" stroke-width="2" stroke-linecap="butt"/>
<line x1="420.7" y1="442.5" x2="428.3" y2="442.5" stroke="#000" stroke-width="2" stroke-linecap="butt"/>
<line x1="420.7" y1="411.04999999999995" x2="428.3" y2="411.04999999999995" stroke="#000" stroke-width="2" stroke-linecap="butt"/>
<line x1="420.7" y1="379.59999999999997" x2="428.3" y2="379.59999999999997" stroke="#000" stroke-width="2" stroke-linecap="butt"/>
<line x1="420.7" y1="348.15" x2="428.3" y2="348.15" stroke="#000" stroke-width="2" stroke-linecap="butt"/>
<line x1="420.7" y1="316.7" x2="428.3" y2="316.7" stroke="#000" stroke-width="2" stroke-linecap="butt"/>
<line x1="427.15000000000003" y1="505.4" x2="553.7" y2="505.4" stroke="#000" stroke-width="2.3" stroke-linecap="butt"/>
<line x1="459.3" y1="505.4" x2="459.3" y2="511.5" stroke="#000" stroke-width="2" stroke-linecap="butt"/>
<line x1="522.3" y1="505.4" x2="522.3" y2="511.5" stroke="#000" stroke-width="2" stroke-linecap="butt"/>
<rect x="435.3" y="347.35" width="23.2" height="158.05" fill="#000"/>
<rect x="498.3" y="347.35" width="23.4" height="158.05" fill="#000"/>
<rect x="463.05" y="449.25" width="20.40" height="56.00" fill="#fff" stroke="#000" stroke-width="2.3"/>
<rect x="525.85" y="403.55" width="20.90" height="101.70" fill="#fff" stroke="#000" stroke-width="2.3"/>
<line x1="473.2" y1="449" x2="473.2" y2="441.0" stroke="#000" stroke-width="2" stroke-linecap="butt"/>
<line x1="467.5" y1="441.8" x2="479.0" y2="441.8" stroke="#000" stroke-width="2" stroke-linecap="butt"/>
<line x1="536.3" y1="403.3" x2="536.3" y2="396.5" stroke="#000" stroke-width="2" stroke-linecap="butt"/>
<line x1="530.5" y1="397.4" x2="542.1" y2="397.4" stroke="#000" stroke-width="2" stroke-linecap="butt"/>
<text x="469.93" y="442.43" font-size="17" text-anchor="middle" fill="#111" stroke="#111" stroke-width="0.25">*</text>
<text x="477.68" y="442.43" font-size="17" text-anchor="middle" fill="#111" stroke="#111" stroke-width="0.25">*</text>
<text x="533.12" y="397.03" font-size="17" text-anchor="middle" fill="#111" stroke="#111" stroke-width="0.25">*</text>
<text x="540.88" y="397.03" font-size="17" text-anchor="middle" fill="#111" stroke="#111" stroke-width="0.25">*</text>
<rect x="440.35" y="266.55" width="21.00" height="15.90" fill="#000" stroke="#000" stroke-width="2.3"/>
<rect x="440.35" y="288.25" width="21.00" height="17.00" fill="#fff" stroke="#000" stroke-width="2.3"/>
<rect x="68.15" y="612.75" width="21.80" height="17.10" fill="#000" stroke="#000" stroke-width="2.3"/>
<rect x="68.15" y="634.65" width="21.80" height="16.80" fill="#fff" stroke="#000" stroke-width="2.3"/>
<line x1="124.0" y1="678.2" x2="124.0" y2="869" stroke="#000" stroke-width="2.3" stroke-linecap="butt"/>
<line x1="116.3" y1="867.7" x2="124.0" y2="867.7" stroke="#000" stroke-width="2" stroke-linecap="butt"/>
<line x1="116.3" y1="836.32" x2="124.0" y2="836.32" stroke="#000" stroke-width="2" stroke-linecap="butt"/>
<line x1="116.3" y1="804.94" x2="124.0" y2="804.94" stroke="#000" stroke-width="2" stroke-linecap="butt"/>
<line x1="116.3" y1="773.5600000000001" x2="124.0" y2="773.5600000000001" stroke="#000" stroke-width="2" stroke-linecap="butt"/>
<line x1="116.3" y1="742.1800000000001" x2="124.0" y2="742.1800000000001" stroke="#000" stroke-width="2" stroke-linecap="butt"/>
<line x1="116.3" y1="710.8000000000001" x2="124.0" y2="710.8000000000001" stroke="#000" stroke-width="2" stroke-linecap="butt"/>
<line x1="116.3" y1="679.4200000000001" x2="124.0" y2="679.4200000000001" stroke="#000" stroke-width="2" stroke-linecap="butt"/>
<line x1="122.85" y1="867.7" x2="248.7" y2="867.7" stroke="#000" stroke-width="2.3" stroke-linecap="butt"/>
<line x1="142.3" y1="867.7" x2="142.3" y2="874.3" stroke="#000" stroke-width="2" stroke-linecap="butt"/>
<line x1="168.4" y1="867.7" x2="168.4" y2="874.3" stroke="#000" stroke-width="2" stroke-linecap="butt"/>
<line x1="205.2" y1="867.7" x2="205.2" y2="874.3" stroke="#000" stroke-width="2" stroke-linecap="butt"/>
<line x1="231.2" y1="867.7" x2="231.2" y2="874.3" stroke="#000" stroke-width="2" stroke-linecap="butt"/>
<rect x="130.7" y="709.9" width="23.2" height="157.80000000000007" fill="#000"/>
<rect x="193.4" y="709.5" width="23.4" height="158.20000000000005" fill="#000"/>
<rect x="158.05" y="791.65" width="20.60" height="76.00" fill="#fff" stroke="#000" stroke-width="2.3"/>
<rect x="220.45" y="748.45" width="21.00" height="119.20" fill="#fff" stroke="#000" stroke-width="2.3"/>
<line x1="168.4" y1="791.3" x2="168.4" y2="786.6" stroke="#000" stroke-width="2" stroke-linecap="butt"/>
<line x1="162.6" y1="787.5" x2="174.2" y2="787.5" stroke="#000" stroke-width="2" stroke-linecap="butt"/>
<line x1="231.0" y1="748.2" x2="231.0" y2="743.0" stroke="#000" stroke-width="2" stroke-linecap="butt"/>
<line x1="225.1" y1="743.9" x2="236.9" y2="743.9" stroke="#000" stroke-width="2" stroke-linecap="butt"/>
<text x="164.43" y="787.13" font-size="17" text-anchor="middle" fill="#111" stroke="#111" stroke-width="0.25">*</text>
<text x="172.18" y="787.13" font-size="17" text-anchor="middle" fill="#111" stroke="#111" stroke-width="0.25">*</text>
<text x="228.12" y="743.33" font-size="17" text-anchor="middle" fill="#111" stroke="#111" stroke-width="0.25">*</text>
<text x="235.88" y="743.33" font-size="17" text-anchor="middle" fill="#111" stroke="#111" stroke-width="0.25">*</text>
<rect x="363.45" y="611.25" width="21.00" height="16.50" fill="#000" stroke="#000" stroke-width="2.3"/>
<rect x="363.45" y="633.25" width="21.00" height="16.20" fill="#fff" stroke="#000" stroke-width="2.3"/>
<line x1="427.8" y1="677.5" x2="427.8" y2="868" stroke="#000" stroke-width="2.3" stroke-linecap="butt"/>
<line x1="420.0" y1="866.7" x2="427.8" y2="866.7" stroke="#000" stroke-width="2" stroke-linecap="butt"/>
<line x1="420.0" y1="835.34" x2="427.8" y2="835.34" stroke="#000" stroke-width="2" stroke-linecap="butt"/>
<line x1="420.0" y1="803.98" x2="427.8" y2="803.98" stroke="#000" stroke-width="2" stroke-linecap="butt"/>
<line x1="420.0" y1="772.62" x2="427.8" y2="772.62" stroke="#000" stroke-width="2" stroke-linecap="butt"/>
<line x1="420.0" y1="741.26" x2="427.8" y2="741.26" stroke="#000" stroke-width="2" stroke-linecap="butt"/>
<line x1="420.0" y1="709.9000000000001" x2="427.8" y2="709.9000000000001" stroke="#000" stroke-width="2" stroke-linecap="butt"/>
<line x1="420.0" y1="678.5400000000001" x2="427.8" y2="678.5400000000001" stroke="#000" stroke-width="2" stroke-linecap="butt"/>
<line x1="426.65000000000003" y1="866.7" x2="553.6" y2="866.7" stroke="#000" stroke-width="2.3" stroke-linecap="butt"/>
<line x1="446.1" y1="866.7" x2="446.1" y2="873.3" stroke="#000" stroke-width="2" stroke-linecap="butt"/>
<line x1="472.1" y1="866.7" x2="472.1" y2="873.3" stroke="#000" stroke-width="2" stroke-linecap="butt"/>
<line x1="508.9" y1="866.7" x2="508.9" y2="873.3" stroke="#000" stroke-width="2" stroke-linecap="butt"/>
<line x1="534.9" y1="866.7" x2="534.9" y2="873.3" stroke="#000" stroke-width="2" stroke-linecap="butt"/>
<rect x="434.2" y="708.9" width="23.2" height="157.80000000000007" fill="#000"/>
<rect x="497.5" y="708.8" width="23.4" height="157.9000000000001" fill="#000"/>
<rect x="461.95" y="784.25" width="20.50" height="82.40" fill="#fff" stroke="#000" stroke-width="2.3"/>
<rect x="524.55" y="756.35" width="21.20" height="110.30" fill="#fff" stroke="#000" stroke-width="2.3"/>
<line x1="472.2" y1="784" x2="472.2" y2="778.5" stroke="#000" stroke-width="2" stroke-linecap="butt"/>
<line x1="466.4" y1="779.4" x2="478.0" y2="779.4" stroke="#000" stroke-width="2" stroke-linecap="butt"/>
<line x1="535.1" y1="756.1" x2="535.1" y2="749.6" stroke="#000" stroke-width="2" stroke-linecap="butt"/>
<line x1="529.1" y1="750.5" x2="540.9" y2="750.5" stroke="#000" stroke-width="2" stroke-linecap="butt"/>
<text x="467.43" y="781.63" font-size="17" text-anchor="middle" fill="#111" stroke="#111" stroke-width="0.25">*</text>
<text x="475.18" y="781.63" font-size="17" text-anchor="middle" fill="#111" stroke="#111" stroke-width="0.25">*</text>
<text x="532.33" y="750.63" font-size="17" text-anchor="middle" fill="#111" stroke="#111" stroke-width="0.25">*</text>
<text x="540.08" y="750.63" font-size="17" text-anchor="middle" fill="#111" stroke="#111" stroke-width="0.25">*</text>
<text transform="translate(7.80,24.80) scale(0.9937,1.0266)" font-size="24" fill="#111" stroke="#111" stroke-width="0.22">A</text>
<text transform="translate(77.63,189.00) scale(0.9391,1.0024)" font-size="12" fill="#111" stroke="#111" stroke-width="0.22">0</text>
<text transform="translate(70.40,160.80) scale(1.0080,1.0024)" font-size="12" fill="#111" stroke="#111" stroke-width="0.22">20</text>
<text transform="translate(70.65,132.60) scale(0.9882,1.0024)" font-size="12" fill="#111" stroke="#111" stroke-width="0.22">40</text>
<text transform="translate(70.40,104.40) scale(1.0080,1.0024)" font-size="12" fill="#111" stroke="#111" stroke-width="0.22">60</text>
<text transform="translate(70.40,76.20) scale(1.0080,1.0024)" font-size="12" fill="#111" stroke="#111" stroke-width="0.22">80</text>
<g transform="translate(63.37,48.10) scale(1.0324,1.0024)"><path d="M763 0H583V1100Q520 1040 420 982Q320 924 230 892V1062Q360 1120 460 1205Q560 1290 640 1409H763Z" transform="translate(0.000,0) scale(0.005859,-0.005859)" fill="#111" stroke="#111" stroke-width="37.5"/><text x="6.674" y="0" font-size="12" fill="#111" stroke="#111" stroke-width="0.22">0</text><text x="13.348" y="0" font-size="12" fill="#111" stroke="#111" stroke-width="0.22">0</text></g>
<g transform="translate(63.37,19.60) scale(1.0324,1.0024)"><path d="M763 0H583V1100Q520 1040 420 982Q320 924 230 892V1062Q360 1120 460 1205Q560 1290 640 1409H763Z" transform="translate(0.000,0) scale(0.005859,-0.005859)" fill="#111" stroke="#111" stroke-width="37.5"/><text x="6.674" y="0" font-size="12" fill="#111" stroke="#111" stroke-width="0.22">2</text><text x="13.348" y="0" font-size="12" fill="#111" stroke="#111" stroke-width="0.22">0</text></g>
<text transform="translate(116.74,210.60) scale(1.0097,0.9631)" font-size="15.5" fill="#111" stroke="#111" stroke-width="0.22">Sirpα<tspan font-size="10" dy="-6">+</tspan><tspan dy="6"> tDC</tspan></text>
<text transform="translate(252.42,210.70) scale(1.0361,0.9631)" font-size="15.5" fill="#111" stroke="#111" stroke-width="0.22">CD8<tspan font-size="10" dy="-6">+</tspan><tspan dy="6"> tDC</tspan></text>
<text transform="translate(50.00,168.73) rotate(-90) scale(1.0660,1.1014)" font-size="15" fill="#111" stroke="#111" stroke-width="0.22">Mature tDC (% of WT)</text>
<text transform="translate(394.70,71.80) scale(1.0316,1.0098)" font-size="15.5" fill="#111" stroke="#111" stroke-width="0.22">WT</text>
<text transform="translate(395.19,92.80) scale(1.0282,1.0192)" font-size="15.5" font-style="italic" fill="#111" stroke="#111" stroke-width="0.22">Myd88<tspan font-size="11" dy="-5.4">-/-</tspan><tspan dy="5.4"> TRIF</tspan><tspan font-size="11" dy="-5.4">-/-</tspan><tspan dy="5.4"> MAVS</tspan><tspan font-size="11" dy="-5.4">-/-</tspan></text>
<text transform="translate(395.07,114.10) scale(1.0188,1.0379)" font-size="15.5" font-style="italic" fill="#111" stroke="#111" stroke-width="0.22">TSLPR<tspan font-size="11" dy="-5.4">-/-</tspan></text>
<text transform="translate(395.09,135.30) scale(1.0184,1.0379)" font-size="15.5" font-style="italic" fill="#111" stroke="#111" stroke-width="0.22">RAG1<tspan font-size="11" dy="-5.4">-/-</tspan></text>
<text transform="translate(395.05,156.20) scale(1.0355,1.0472)" font-size="15.5" font-style="italic" fill="#111" stroke="#111" stroke-width="0.22">TCRα<tspan font-size="11" dy="-5.4">-/-</tspan></text>
<text transform="translate(7.53,268.40) scale(1.0353,1.0386)" font-size="24" fill="#111" stroke="#111" stroke-width="0.22">B</text>
<text transform="translate(143.30,268.60) scale(1.0063,1.0379)" font-size="15.5" fill="#111" stroke="#111" stroke-width="0.22">WT</text>
<text transform="translate(257.58,268.30) scale(1.0316,1.0285)" font-size="15.5" font-style="italic" fill="#111" stroke="#111" stroke-width="0.22">MHCII<tspan font-size="9.5" dy="-5.0">-/-</tspan></text>
<text transform="translate(21.24,342.40) scale(1.0169,1.0192)" font-size="15.5" fill="#111" stroke="#111" stroke-width="0.22">Sirpα<tspan font-size="10.5" dy="-4.0">+</tspan></text>
<text transform="translate(30.84,361.20) scale(1.0330,1.0379)" font-size="15.5" fill="#111" stroke="#111" stroke-width="0.22">tDC</text>
<text transform="translate(23.93,468.90) scale(1.0278,1.0192)" font-size="15.5" fill="#111" stroke="#111" stroke-width="0.22">CD8<tspan font-size="10.5" dy="-4.0">+</tspan></text>
<text transform="translate(30.84,487.70) scale(1.0252,1.0192)" font-size="15.5" fill="#111" stroke="#111" stroke-width="0.22">tDC</text>
<g transform="translate(110.05,307.40) scale(1.0067,1.0145)"><text x="0.000" y="0" font-size="16" fill="#111" stroke="#111" stroke-width="0.22">5</text><path d="M763 0H583V1100Q520 1040 420 982Q320 924 230 892V1062Q360 1120 460 1205Q560 1290 640 1409H763Z" transform="translate(8.898,0) scale(0.007812,-0.007812)" fill="#111" stroke="#111" stroke-width="28.2"/><text x="17.797" y="0" font-size="16" fill="#111" stroke="#111" stroke-width="0.22">.</text><text x="22.242" y="0" font-size="16" fill="#111" stroke="#111" stroke-width="0.22">4</text></g>
<g transform="translate(241.03,307.50) scale(1.0188,0.9964)"><path d="M763 0H583V1100Q520 1040 420 982Q320 924 230 892V1062Q360 1120 460 1205Q560 1290 640 1409H763Z" transform="translate(0.000,0) scale(0.007812,-0.007812)" fill="#111" stroke="#111" stroke-width="28.2"/><text x="8.898" y="0" font-size="16" fill="#111" stroke="#111" stroke-width="0.22">5</text><text x="17.797" y="0" font-size="16" fill="#111" stroke="#111" stroke-width="0.22">.</text><text x="22.242" y="0" font-size="16" fill="#111" stroke="#111" stroke-width="0.22">8</text></g>
<text transform="translate(110.44,442.60) scale(1.0215,0.9873)" font-size="16" fill="#111" stroke="#111" stroke-width="0.22">46.6</text>
<text transform="translate(240.72,442.30) scale(1.0454,0.9873)" font-size="16" fill="#111" stroke="#111" stroke-width="0.22">25.9</text>
<text transform="translate(73.90,533.72) rotate(-90) scale(1.0218,1.0935)" font-size="11" fill="#111" stroke="#111" stroke-width="0.22">PD-L1</text>
<text transform="translate(95.30,560.60) scale(1.0084,1.0145)" font-size="12" fill="#111" stroke="#111" stroke-width="0.22">CD86</text>
<text transform="translate(413.68,509.30) scale(1.0435,1.0024)" font-size="12" fill="#111" stroke="#111" stroke-width="0.22">0</text>
<text transform="translate(405.22,478.30) scale(1.1520,1.0024)" font-size="12" fill="#111" stroke="#111" stroke-width="0.22">20</text>
<text transform="translate(405.52,446.60) scale(1.1294,1.0024)" font-size="12" fill="#111" stroke="#111" stroke-width="0.22">40</text>
<text transform="translate(405.22,414.20) scale(1.1520,1.0024)" font-size="12" fill="#111" stroke="#111" stroke-width="0.22">60</text>
<text transform="translate(405.22,382.90) scale(1.1520,1.0024)" font-size="12" fill="#111" stroke="#111" stroke-width="0.22">80</text>
<g transform="translate(398.17,352.10) scale(1.1297,1.0024)"><path d="M763 0H583V1100Q520 1040 420 982Q320 924 230 892V1062Q360 1120 460 1205Q560 1290 640 1409H763Z" transform="translate(0.000,0) scale(0.005859,-0.005859)" fill="#111" stroke="#111" stroke-width="37.5"/><text x="6.674" y="0" font-size="12" fill="#111" stroke="#111" stroke-width="0.22">0</text><text x="13.348" y="0" font-size="12" fill="#111" stroke="#111" stroke-width="0.22">0</text></g>
<g transform="translate(398.17,320.80) scale(1.1297,1.0024)"><path d="M763 0H583V1100Q520 1040 420 982Q320 924 230 892V1062Q360 1120 460 1205Q560 1290 640 1409H763Z" transform="translate(0.000,0) scale(0.005859,-0.005859)" fill="#111" stroke="#111" stroke-width="37.5"/><text x="6.674" y="0" font-size="12" fill="#111" stroke="#111" stroke-width="0.22">2</text><text x="13.348" y="0" font-size="12" fill="#111" stroke="#111" stroke-width="0.22">0</text></g>
<text transform="translate(385.00,491.84) rotate(-90) scale(1.0721,1.1014)" font-size="15" fill="#111" stroke="#111" stroke-width="0.22">Mature tDC (% of WT)</text>
<text transform="translate(470.80,279.90) scale(1.0484,1.0566)" font-size="15.5" fill="#111" stroke="#111" stroke-width="0.22">WT</text>
<text transform="translate(471.47,302.90) scale(1.0505,1.0472)" font-size="15.5" font-style="italic" fill="#111" stroke="#111" stroke-width="0.22">MHCII<tspan font-size="11" dy="-5.3">-/-</tspan></text>
<text transform="translate(436.40,531.60) scale(1.0609,1.0145)" font-size="15" fill="#111" stroke="#111" stroke-width="0.22">Sirpα<tspan font-size="10.5" dy="-4.0">+</tspan></text>
<text transform="translate(446.54,549.10) scale(1.0440,1.0048)" font-size="15" fill="#111" stroke="#111" stroke-width="0.22">tDC</text>
<text transform="translate(501.21,531.60) scale(1.0571,1.0145)" font-size="15" fill="#111" stroke="#111" stroke-width="0.22">CD8<tspan font-size="10.5" dy="-4.0">+</tspan></text>
<text transform="translate(508.74,549.10) scale(1.0520,1.0048)" font-size="15" fill="#111" stroke="#111" stroke-width="0.22">tDC</text>
<text transform="translate(7.33,627.40) scale(1.0133,1.0024)" font-size="24" fill="#111" stroke="#111" stroke-width="0.22">C</text>
<text transform="translate(97.80,626.80) scale(1.0279,1.0192)" font-size="15.5" fill="#111" stroke="#111" stroke-width="0.22">WT BM &gt; WT recipient</text>
<text transform="translate(97.80,649.50) scale(1.0181,1.0192)" font-size="15.5" fill="#111" stroke="#111" stroke-width="0.22">WT BM &gt; <tspan font-style="italic">MHCII</tspan><tspan font-style="italic" font-size="10" dy="-4.9">-/-</tspan><tspan dy="4.9"> recipient</tspan></text>
<text transform="translate(109.08,871.80) scale(1.0435,1.0024)" font-size="12" fill="#111" stroke="#111" stroke-width="0.22">0</text>
<text transform="translate(100.62,840.40) scale(1.1520,1.0024)" font-size="12" fill="#111" stroke="#111" stroke-width="0.22">20</text>
<text transform="translate(100.92,808.70) scale(1.1294,1.0024)" font-size="12" fill="#111" stroke="#111" stroke-width="0.22">40</text>
<text transform="translate(100.62,777.50) scale(1.1520,1.0024)" font-size="12" fill="#111" stroke="#111" stroke-width="0.22">60</text>
<text transform="translate(100.62,746.20) scale(1.1520,1.0024)" font-size="12" fill="#111" stroke="#111" stroke-width="0.22">80</text>
<g transform="translate(93.15,714.90) scale(1.1514,1.0024)"><path d="M763 0H583V1100Q520 1040 420 982Q320 924 230 892V1062Q360 1120 460 1205Q560 1290 640 1409H763Z" transform="translate(0.000,0) scale(0.005859,-0.005859)" fill="#111" stroke="#111" stroke-width="37.5"/><text x="6.674" y="0" font-size="12" fill="#111" stroke="#111" stroke-width="0.22">0</text><text x="13.348" y="0" font-size="12" fill="#111" stroke="#111" stroke-width="0.22">0</text></g>
<g transform="translate(93.15,683.40) scale(1.1514,1.0024)"><path d="M763 0H583V1100Q520 1040 420 982Q320 924 230 892V1062Q360 1120 460 1205Q560 1290 640 1409H763Z" transform="translate(0.000,0) scale(0.005859,-0.005859)" fill="#111" stroke="#111" stroke-width="37.5"/><text x="6.674" y="0" font-size="12" fill="#111" stroke="#111" stroke-width="0.22">2</text><text x="13.348" y="0" font-size="12" fill="#111" stroke="#111" stroke-width="0.22">0</text></g>
<text transform="translate(83.90,854.74) rotate(-90) scale(1.0680,1.1014)" font-size="15" fill="#111" stroke="#111" stroke-width="0.22">Mature tDC (% of WT)</text>
<text transform="translate(130.91,894.80) scale(1.0534,0.9952)" font-size="15" fill="#111" stroke="#111" stroke-width="0.22">Sirpα<tspan font-size="10.5" dy="-4.0">+</tspan></text>
<text transform="translate(141.55,912.50) scale(1.0200,0.9952)" font-size="15" fill="#111" stroke="#111" stroke-width="0.22">tDC</text>
<text transform="translate(197.51,894.80) scale(1.0514,0.9952)" font-size="15" fill="#111" stroke="#111" stroke-width="0.22">CD8<tspan font-size="10.5" dy="-4.0">+</tspan></text>
<text transform="translate(205.75,912.50) scale(1.0120,0.9952)" font-size="15" fill="#111" stroke="#111" stroke-width="0.22">tDC</text>
<text transform="translate(320.85,627.60) scale(1.0246,1.0145)" font-size="24" fill="#111" stroke="#111" stroke-width="0.22">D</text>
<text transform="translate(397.80,625.30) scale(1.0260,1.0005)" font-size="15.5" fill="#111" stroke="#111" stroke-width="0.22">WT BM</text>
<text transform="translate(397.29,648.10) scale(1.0233,1.0098)" font-size="15.5" fill="#111" stroke="#111" stroke-width="0.22"><tspan font-style="italic">MHCII</tspan><tspan font-style="italic" font-size="10" dy="-4.9">-/-</tspan><tspan dy="4.9"> BM</tspan></text>
<text transform="translate(492.43,636.80) scale(1.0277,0.9724)" font-size="15.5" fill="#111" stroke="#111" stroke-width="0.22">&gt; WT recipient</text>
<text transform="translate(412.88,870.80) scale(1.0435,1.0024)" font-size="12" fill="#111" stroke="#111" stroke-width="0.22">0</text>
<text transform="translate(404.42,840.00) scale(1.1520,1.0024)" font-size="12" fill="#111" stroke="#111" stroke-width="0.22">20</text>
<text transform="translate(404.72,808.20) scale(1.1294,1.0024)" font-size="12" fill="#111" stroke="#111" stroke-width="0.22">40</text>
<text transform="translate(404.42,776.60) scale(1.1520,1.0024)" font-size="12" fill="#111" stroke="#111" stroke-width="0.22">60</text>
<text transform="translate(404.42,745.30) scale(1.1520,1.0024)" font-size="12" fill="#111" stroke="#111" stroke-width="0.22">80</text>
<g transform="translate(397.16,714.00) scale(1.1405,1.0024)"><path d="M763 0H583V1100Q520 1040 420 982Q320 924 230 892V1062Q360 1120 460 1205Q560 1290 640 1409H763Z" transform="translate(0.000,0) scale(0.005859,-0.005859)" fill="#111" stroke="#111" stroke-width="37.5"/><text x="6.674" y="0" font-size="12" fill="#111" stroke="#111" stroke-width="0.22">0</text><text x="13.348" y="0" font-size="12" fill="#111" stroke="#111" stroke-width="0.22">0</text></g>
<g transform="translate(397.16,682.50) scale(1.1405,1.0024)"><path d="M763 0H583V1100Q520 1040 420 982Q320 924 230 892V1062Q360 1120 460 1205Q560 1290 640 1409H763Z" transform="translate(0.000,0) scale(0.005859,-0.005859)" fill="#111" stroke="#111" stroke-width="37.5"/><text x="6.674" y="0" font-size="12" fill="#111" stroke="#111" stroke-width="0.22">2</text><text x="13.348" y="0" font-size="12" fill="#111" stroke="#111" stroke-width="0.22">0</text></g>
<text transform="translate(388.30,854.14) rotate(-90) scale(1.0680,1.1014)" font-size="15" fill="#111" stroke="#111" stroke-width="0.22">Mature tDC (% of WT)</text>
<text transform="translate(433.30,892.70) scale(1.0683,0.9855)" font-size="15" fill="#111" stroke="#111" stroke-width="0.22">Sirpα<tspan font-size="10.5" dy="-4.0">+</tspan></text>
<text transform="translate(444.55,911.00) scale(1.0200,1.0048)" font-size="15" fill="#111" stroke="#111" stroke-width="0.22">tDC</text>
<text transform="translate(499.60,892.70) scale(1.0714,0.9855)" font-size="15" fill="#111" stroke="#111" stroke-width="0.22">CD8<tspan font-size="10.5" dy="-4.0">+</tspan></text>
<text transform="translate(507.74,911.00) scale(1.0280,1.0048)" font-size="15" fill="#111" stroke="#111" stroke-width="0.22">tDC</text>
</svg>
</body></html>
